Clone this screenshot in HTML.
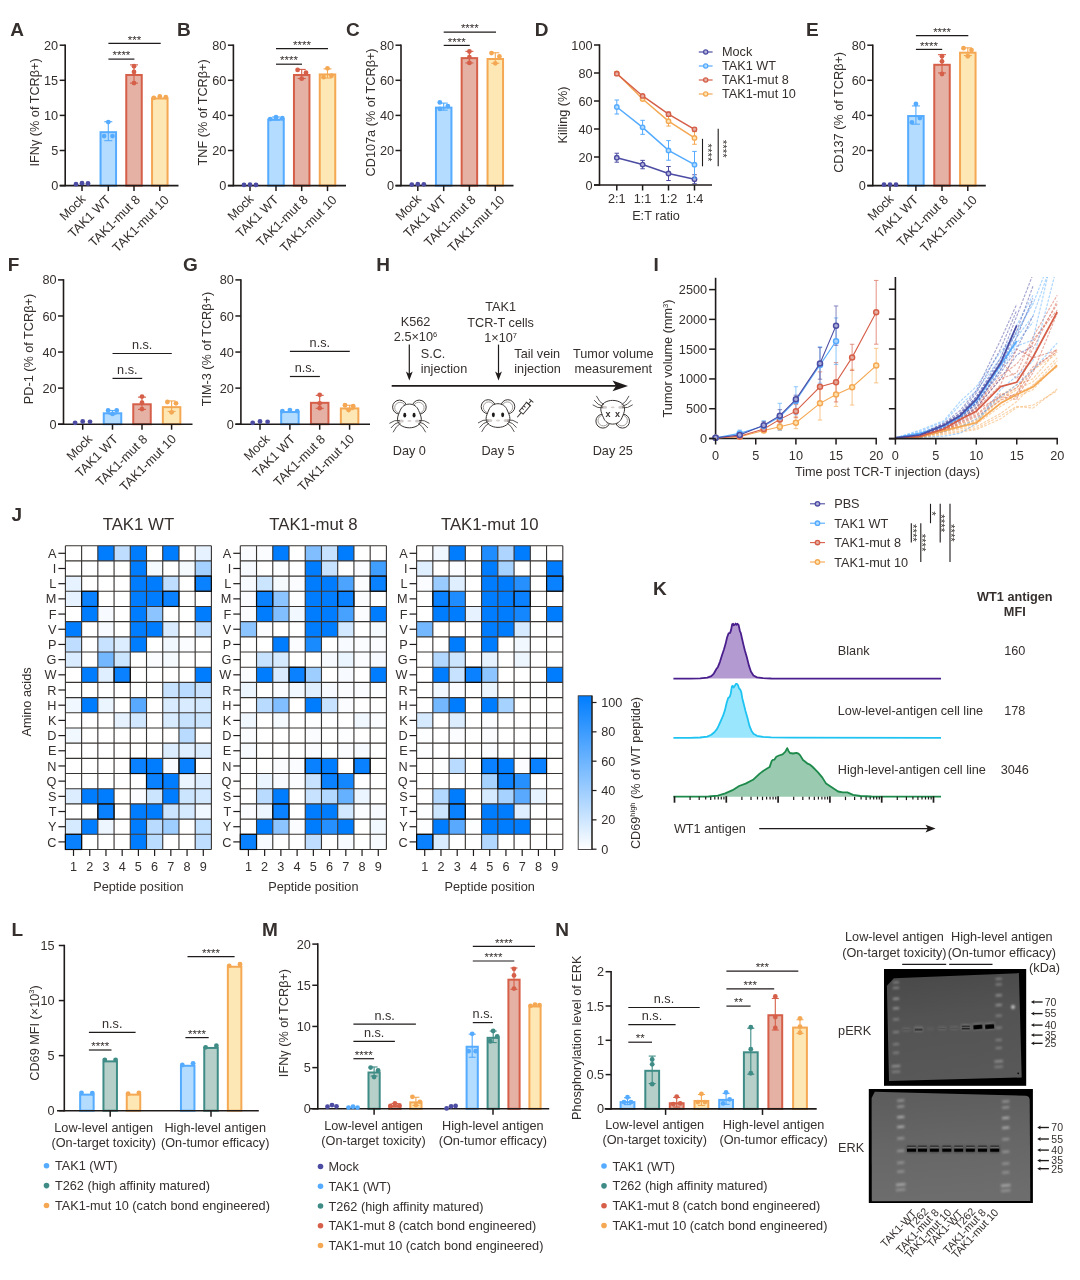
<!DOCTYPE html>
<html lang="en"><head><meta charset="utf-8"><title>Figure</title>
<style>
html,body{margin:0;padding:0;background:#fff;}
body{width:1080px;height:1280px;overflow:hidden;}
svg{display:block;font-family:"Liberation Sans",sans-serif;will-change:transform;}
text{fill:#352f2d;}
</style></head><body>
<svg width="1080" height="1280" viewBox="0 0 1080 1280">
<rect width="1080" height="1280" fill="#ffffff"/>
<g>
<text x="10.2" y="35.7" font-size="19" font-weight="bold" fill="#1a1413">A</text>
<rect x="100.55" y="132.19" width="15.5" height="53.41" fill="#b4dcff" stroke="#55abff" stroke-width="2"/>
<rect x="126.25" y="74.98" width="15.5" height="110.62" fill="#e4b1a4" stroke="#d65f49" stroke-width="2"/>
<rect x="152.05" y="98.5" width="15.5" height="87.1" fill="#fde8b5" stroke="#f5a853" stroke-width="2"/>
<line x1="59.7" y1="185.6" x2="178.5" y2="185.6" stroke="#1f1b1a" stroke-width="1.6"/>
<line x1="65.2" y1="44.45" x2="65.2" y2="186.35" stroke="#1f1b1a" stroke-width="1.6"/>
<line x1="59.7" y1="185.6" x2="65.2" y2="185.6" stroke="#1f1b1a" stroke-width="1.5"/>
<text x="58.2" y="190.17" font-size="12.7" text-anchor="end">0</text>
<line x1="59.7" y1="150.5" x2="65.2" y2="150.5" stroke="#1f1b1a" stroke-width="1.5"/>
<text x="58.2" y="155.07" font-size="12.7" text-anchor="end">5</text>
<line x1="59.7" y1="115.4" x2="65.2" y2="115.4" stroke="#1f1b1a" stroke-width="1.5"/>
<text x="58.2" y="119.97" font-size="12.7" text-anchor="end">10</text>
<line x1="59.7" y1="80.3" x2="65.2" y2="80.3" stroke="#1f1b1a" stroke-width="1.5"/>
<text x="58.2" y="84.87" font-size="12.7" text-anchor="end">15</text>
<line x1="59.7" y1="45.2" x2="65.2" y2="45.2" stroke="#1f1b1a" stroke-width="1.5"/>
<text x="58.2" y="49.77" font-size="12.7" text-anchor="end">20</text>
<line x1="82" y1="185.6" x2="82" y2="191.1" stroke="#1f1b1a" stroke-width="1.5"/>
<line x1="108.3" y1="185.6" x2="108.3" y2="191.1" stroke="#1f1b1a" stroke-width="1.5"/>
<line x1="134" y1="185.6" x2="134" y2="191.1" stroke="#1f1b1a" stroke-width="1.5"/>
<line x1="159.8" y1="185.6" x2="159.8" y2="191.1" stroke="#1f1b1a" stroke-width="1.5"/>
<circle cx="76" cy="184.2" r="2.4" fill="#4c4ca3" stroke="none" stroke-width="1"/>
<circle cx="82" cy="183.14" r="2.4" fill="#4c4ca3" stroke="none" stroke-width="1"/>
<circle cx="88" cy="183.49" r="2.4" fill="#4c4ca3" stroke="none" stroke-width="1"/>
<line x1="108.3" y1="140.67" x2="108.3" y2="121.72" stroke="#55abff" stroke-width="1.1"/>
<line x1="104.3" y1="121.72" x2="112.3" y2="121.72" stroke="#55abff" stroke-width="1.1"/>
<line x1="104.3" y1="140.67" x2="112.3" y2="140.67" stroke="#55abff" stroke-width="1.1"/>
<circle cx="108.3" cy="122.07" r="2.4" fill="#55abff" stroke="none" stroke-width="1"/>
<circle cx="104.1" cy="136.11" r="2.4" fill="#55abff" stroke="none" stroke-width="1"/>
<circle cx="112.5" cy="136.11" r="2.4" fill="#55abff" stroke="none" stroke-width="1"/>
<line x1="134" y1="83.11" x2="134" y2="64.86" stroke="#d65f49" stroke-width="1.1"/>
<line x1="130" y1="64.86" x2="138" y2="64.86" stroke="#d65f49" stroke-width="1.1"/>
<line x1="130" y1="83.11" x2="138" y2="83.11" stroke="#d65f49" stroke-width="1.1"/>
<circle cx="134" cy="66.26" r="2.4" fill="#d65f49" stroke="none" stroke-width="1"/>
<circle cx="134" cy="71.88" r="2.4" fill="#d65f49" stroke="none" stroke-width="1"/>
<circle cx="134" cy="83.11" r="2.4" fill="#d65f49" stroke="none" stroke-width="1"/>
<circle cx="153.8" cy="97.85" r="2.4" fill="#f5a853" stroke="none" stroke-width="1"/>
<circle cx="159.8" cy="96.45" r="2.4" fill="#f5a853" stroke="none" stroke-width="1"/>
<circle cx="165.8" cy="97.15" r="2.4" fill="#f5a853" stroke="none" stroke-width="1"/>
<text x="86.3" y="199.75" font-size="12.7" text-anchor="end" transform="rotate(-45 86.3 199.75)">Mock</text>
<text x="111.5" y="200.4" font-size="12.7" text-anchor="end" transform="rotate(-45 111.5 200.4)">TAK1 WT</text>
<text x="141.1" y="200.4" font-size="12.7" text-anchor="end" transform="rotate(-45 141.1 200.4)">TAK1-mut 8</text>
<text x="169.8" y="200.7" font-size="12.7" text-anchor="end" transform="rotate(-45 169.8 200.7)">TAK1-mut 10</text>
<text x="39" y="112.4" font-size="12.7" text-anchor="middle" transform="rotate(-90 39 112.4)">IFNγ (% of TCRβ+)</text>
<line x1="108.4" y1="43.4" x2="160.7" y2="43.4" stroke="#1f1b1a" stroke-width="1.2"/>
<text x="134.55" y="43.6" font-size="11.5" text-anchor="middle">***</text>
<line x1="108.4" y1="59.1" x2="134.4" y2="59.1" stroke="#1f1b1a" stroke-width="1.2"/>
<text x="121.4" y="59.3" font-size="11.5" text-anchor="middle">****</text>
<text x="177" y="35.7" font-size="19" font-weight="bold" fill="#1a1413">B</text>
<rect x="268.25" y="119.56" width="15.5" height="66.04" fill="#b4dcff" stroke="#55abff" stroke-width="2"/>
<rect x="293.95" y="74.98" width="15.5" height="110.62" fill="#e4b1a4" stroke="#d65f49" stroke-width="2"/>
<rect x="319.75" y="74.46" width="15.5" height="111.14" fill="#fde8b5" stroke="#f5a853" stroke-width="2"/>
<line x1="227.9" y1="185.6" x2="346" y2="185.6" stroke="#1f1b1a" stroke-width="1.6"/>
<line x1="233.4" y1="44.45" x2="233.4" y2="186.35" stroke="#1f1b1a" stroke-width="1.6"/>
<line x1="227.9" y1="185.6" x2="233.4" y2="185.6" stroke="#1f1b1a" stroke-width="1.5"/>
<text x="226.4" y="190.17" font-size="12.7" text-anchor="end">0</text>
<line x1="227.9" y1="150.5" x2="233.4" y2="150.5" stroke="#1f1b1a" stroke-width="1.5"/>
<text x="226.4" y="155.07" font-size="12.7" text-anchor="end">20</text>
<line x1="227.9" y1="115.4" x2="233.4" y2="115.4" stroke="#1f1b1a" stroke-width="1.5"/>
<text x="226.4" y="119.97" font-size="12.7" text-anchor="end">40</text>
<line x1="227.9" y1="80.3" x2="233.4" y2="80.3" stroke="#1f1b1a" stroke-width="1.5"/>
<text x="226.4" y="84.87" font-size="12.7" text-anchor="end">60</text>
<line x1="227.9" y1="45.2" x2="233.4" y2="45.2" stroke="#1f1b1a" stroke-width="1.5"/>
<text x="226.4" y="49.77" font-size="12.7" text-anchor="end">80</text>
<line x1="250" y1="185.6" x2="250" y2="191.1" stroke="#1f1b1a" stroke-width="1.5"/>
<line x1="276" y1="185.6" x2="276" y2="191.1" stroke="#1f1b1a" stroke-width="1.5"/>
<line x1="301.7" y1="185.6" x2="301.7" y2="191.1" stroke="#1f1b1a" stroke-width="1.5"/>
<line x1="327.5" y1="185.6" x2="327.5" y2="191.1" stroke="#1f1b1a" stroke-width="1.5"/>
<circle cx="244" cy="184.9" r="2.4" fill="#4c4ca3" stroke="none" stroke-width="1"/>
<circle cx="250" cy="184.72" r="2.4" fill="#4c4ca3" stroke="none" stroke-width="1"/>
<circle cx="256" cy="184.9" r="2.4" fill="#4c4ca3" stroke="none" stroke-width="1"/>
<line x1="276" y1="120.14" x2="276" y2="116.98" stroke="#55abff" stroke-width="1.1"/>
<line x1="272" y1="116.98" x2="280" y2="116.98" stroke="#55abff" stroke-width="1.1"/>
<line x1="272" y1="120.14" x2="280" y2="120.14" stroke="#55abff" stroke-width="1.1"/>
<circle cx="270.2" cy="119.09" r="2.4" fill="#55abff" stroke="none" stroke-width="1"/>
<circle cx="276" cy="117.16" r="2.4" fill="#55abff" stroke="none" stroke-width="1"/>
<circle cx="282.3" cy="118.21" r="2.4" fill="#55abff" stroke="none" stroke-width="1"/>
<line x1="301.7" y1="78.55" x2="301.7" y2="69.42" stroke="#d65f49" stroke-width="1.1"/>
<line x1="297.7" y1="69.42" x2="305.7" y2="69.42" stroke="#d65f49" stroke-width="1.1"/>
<line x1="297.7" y1="78.55" x2="305.7" y2="78.55" stroke="#d65f49" stroke-width="1.1"/>
<circle cx="297.6" cy="69.95" r="2.4" fill="#d65f49" stroke="none" stroke-width="1"/>
<circle cx="306" cy="72.75" r="2.4" fill="#d65f49" stroke="none" stroke-width="1"/>
<circle cx="301.7" cy="78.72" r="2.4" fill="#d65f49" stroke="none" stroke-width="1"/>
<line x1="327.5" y1="78.02" x2="327.5" y2="68.89" stroke="#f5a853" stroke-width="1.1"/>
<line x1="323.5" y1="68.89" x2="331.5" y2="68.89" stroke="#f5a853" stroke-width="1.1"/>
<line x1="323.5" y1="78.02" x2="331.5" y2="78.02" stroke="#f5a853" stroke-width="1.1"/>
<circle cx="327.5" cy="68.37" r="2.4" fill="#f5a853" stroke="none" stroke-width="1"/>
<circle cx="323.5" cy="77.14" r="2.4" fill="#f5a853" stroke="none" stroke-width="1"/>
<circle cx="331.5" cy="75.74" r="2.4" fill="#f5a853" stroke="none" stroke-width="1"/>
<text x="254.3" y="199.75" font-size="12.7" text-anchor="end" transform="rotate(-45 254.3 199.75)">Mock</text>
<text x="279.2" y="200.4" font-size="12.7" text-anchor="end" transform="rotate(-45 279.2 200.4)">TAK1 WT</text>
<text x="308.8" y="200.4" font-size="12.7" text-anchor="end" transform="rotate(-45 308.8 200.4)">TAK1-mut 8</text>
<text x="337.5" y="200.7" font-size="12.7" text-anchor="end" transform="rotate(-45 337.5 200.7)">TAK1-mut 10</text>
<text x="207" y="112.4" font-size="12.7" text-anchor="middle" transform="rotate(-90 207 112.4)">TNF (% of TCRβ+)</text>
<line x1="276" y1="48.6" x2="328" y2="48.6" stroke="#1f1b1a" stroke-width="1.2"/>
<text x="302" y="48.8" font-size="11.5" text-anchor="middle">****</text>
<line x1="276" y1="64.2" x2="302" y2="64.2" stroke="#1f1b1a" stroke-width="1.2"/>
<text x="289" y="64.4" font-size="11.5" text-anchor="middle">****</text>
<text x="346.1" y="35.7" font-size="19" font-weight="bold" fill="#1a1413">C</text>
<rect x="435.95" y="107.63" width="15.5" height="77.97" fill="#b4dcff" stroke="#55abff" stroke-width="2"/>
<rect x="461.65" y="58.13" width="15.5" height="127.47" fill="#e4b1a4" stroke="#d65f49" stroke-width="2"/>
<rect x="487.55" y="59.01" width="15.5" height="126.59" fill="#fde8b5" stroke="#f5a853" stroke-width="2"/>
<line x1="395.5" y1="185.6" x2="513.5" y2="185.6" stroke="#1f1b1a" stroke-width="1.6"/>
<line x1="401" y1="44.45" x2="401" y2="186.35" stroke="#1f1b1a" stroke-width="1.6"/>
<line x1="395.5" y1="185.6" x2="401" y2="185.6" stroke="#1f1b1a" stroke-width="1.5"/>
<text x="394" y="190.17" font-size="12.7" text-anchor="end">0</text>
<line x1="395.5" y1="150.5" x2="401" y2="150.5" stroke="#1f1b1a" stroke-width="1.5"/>
<text x="394" y="155.07" font-size="12.7" text-anchor="end">20</text>
<line x1="395.5" y1="115.4" x2="401" y2="115.4" stroke="#1f1b1a" stroke-width="1.5"/>
<text x="394" y="119.97" font-size="12.7" text-anchor="end">40</text>
<line x1="395.5" y1="80.3" x2="401" y2="80.3" stroke="#1f1b1a" stroke-width="1.5"/>
<text x="394" y="84.87" font-size="12.7" text-anchor="end">60</text>
<line x1="395.5" y1="45.2" x2="401" y2="45.2" stroke="#1f1b1a" stroke-width="1.5"/>
<text x="394" y="49.77" font-size="12.7" text-anchor="end">80</text>
<line x1="417.8" y1="185.6" x2="417.8" y2="191.1" stroke="#1f1b1a" stroke-width="1.5"/>
<line x1="443.7" y1="185.6" x2="443.7" y2="191.1" stroke="#1f1b1a" stroke-width="1.5"/>
<line x1="469.4" y1="185.6" x2="469.4" y2="191.1" stroke="#1f1b1a" stroke-width="1.5"/>
<line x1="495.3" y1="185.6" x2="495.3" y2="191.1" stroke="#1f1b1a" stroke-width="1.5"/>
<circle cx="411.8" cy="184.55" r="2.4" fill="#4c4ca3" stroke="none" stroke-width="1"/>
<circle cx="417.8" cy="184.2" r="2.4" fill="#4c4ca3" stroke="none" stroke-width="1"/>
<circle cx="423.8" cy="184.37" r="2.4" fill="#4c4ca3" stroke="none" stroke-width="1"/>
<line x1="443.7" y1="110.14" x2="443.7" y2="103.12" stroke="#55abff" stroke-width="1.1"/>
<line x1="439.7" y1="103.12" x2="447.7" y2="103.12" stroke="#55abff" stroke-width="1.1"/>
<line x1="439.7" y1="110.14" x2="447.7" y2="110.14" stroke="#55abff" stroke-width="1.1"/>
<circle cx="439.8" cy="102.41" r="2.4" fill="#55abff" stroke="none" stroke-width="1"/>
<circle cx="447.8" cy="106.1" r="2.4" fill="#55abff" stroke="none" stroke-width="1"/>
<circle cx="439.9" cy="108.91" r="2.4" fill="#55abff" stroke="none" stroke-width="1"/>
<line x1="469.4" y1="62.93" x2="469.4" y2="51.34" stroke="#d65f49" stroke-width="1.1"/>
<line x1="465.4" y1="51.34" x2="473.4" y2="51.34" stroke="#d65f49" stroke-width="1.1"/>
<line x1="465.4" y1="62.93" x2="473.4" y2="62.93" stroke="#d65f49" stroke-width="1.1"/>
<circle cx="469.4" cy="51.52" r="2.4" fill="#d65f49" stroke="none" stroke-width="1"/>
<circle cx="469.4" cy="57.13" r="2.4" fill="#d65f49" stroke="none" stroke-width="1"/>
<circle cx="469.4" cy="62.93" r="2.4" fill="#d65f49" stroke="none" stroke-width="1"/>
<line x1="495.3" y1="63.28" x2="495.3" y2="52.75" stroke="#f5a853" stroke-width="1.1"/>
<line x1="491.3" y1="52.75" x2="499.3" y2="52.75" stroke="#f5a853" stroke-width="1.1"/>
<line x1="491.3" y1="63.28" x2="499.3" y2="63.28" stroke="#f5a853" stroke-width="1.1"/>
<circle cx="491.5" cy="53.1" r="2.4" fill="#f5a853" stroke="none" stroke-width="1"/>
<circle cx="499.4" cy="56.43" r="2.4" fill="#f5a853" stroke="none" stroke-width="1"/>
<circle cx="495.3" cy="63.28" r="2.4" fill="#f5a853" stroke="none" stroke-width="1"/>
<text x="422.1" y="199.75" font-size="12.7" text-anchor="end" transform="rotate(-45 422.1 199.75)">Mock</text>
<text x="446.9" y="200.4" font-size="12.7" text-anchor="end" transform="rotate(-45 446.9 200.4)">TAK1 WT</text>
<text x="476.5" y="200.4" font-size="12.7" text-anchor="end" transform="rotate(-45 476.5 200.4)">TAK1-mut 8</text>
<text x="505.3" y="200.7" font-size="12.7" text-anchor="end" transform="rotate(-45 505.3 200.7)">TAK1-mut 10</text>
<text x="375" y="112.4" font-size="12.7" text-anchor="middle" transform="rotate(-90 375 112.4)">CD107a (% of TCRβ+)</text>
<line x1="443.7" y1="32.2" x2="496" y2="32.2" stroke="#1f1b1a" stroke-width="1.2"/>
<text x="469.85" y="32.4" font-size="11.5" text-anchor="middle">****</text>
<line x1="443.7" y1="45.4" x2="469.8" y2="45.4" stroke="#1f1b1a" stroke-width="1.2"/>
<text x="456.75" y="45.6" font-size="11.5" text-anchor="middle">****</text>
<text x="806.1" y="35.7" font-size="19" font-weight="bold" fill="#1a1413">E</text>
<rect x="908.15" y="116.05" width="15.5" height="69.55" fill="#b4dcff" stroke="#55abff" stroke-width="2"/>
<rect x="934.25" y="64.8" width="15.5" height="120.8" fill="#e4b1a4" stroke="#d65f49" stroke-width="2"/>
<rect x="960.05" y="52.69" width="15.5" height="132.91" fill="#fde8b5" stroke="#f5a853" stroke-width="2"/>
<line x1="867.3" y1="185.6" x2="985.8" y2="185.6" stroke="#1f1b1a" stroke-width="1.6"/>
<line x1="872.8" y1="44.45" x2="872.8" y2="186.35" stroke="#1f1b1a" stroke-width="1.6"/>
<line x1="867.3" y1="185.6" x2="872.8" y2="185.6" stroke="#1f1b1a" stroke-width="1.5"/>
<text x="865.8" y="190.17" font-size="12.7" text-anchor="end">0</text>
<line x1="867.3" y1="150.5" x2="872.8" y2="150.5" stroke="#1f1b1a" stroke-width="1.5"/>
<text x="865.8" y="155.07" font-size="12.7" text-anchor="end">20</text>
<line x1="867.3" y1="115.4" x2="872.8" y2="115.4" stroke="#1f1b1a" stroke-width="1.5"/>
<text x="865.8" y="119.97" font-size="12.7" text-anchor="end">40</text>
<line x1="867.3" y1="80.3" x2="872.8" y2="80.3" stroke="#1f1b1a" stroke-width="1.5"/>
<text x="865.8" y="84.87" font-size="12.7" text-anchor="end">60</text>
<line x1="867.3" y1="45.2" x2="872.8" y2="45.2" stroke="#1f1b1a" stroke-width="1.5"/>
<text x="865.8" y="49.77" font-size="12.7" text-anchor="end">80</text>
<line x1="890" y1="185.6" x2="890" y2="191.1" stroke="#1f1b1a" stroke-width="1.5"/>
<line x1="915.9" y1="185.6" x2="915.9" y2="191.1" stroke="#1f1b1a" stroke-width="1.5"/>
<line x1="942" y1="185.6" x2="942" y2="191.1" stroke="#1f1b1a" stroke-width="1.5"/>
<line x1="967.8" y1="185.6" x2="967.8" y2="191.1" stroke="#1f1b1a" stroke-width="1.5"/>
<circle cx="884" cy="184.72" r="2.4" fill="#4c4ca3" stroke="none" stroke-width="1"/>
<circle cx="890" cy="184.55" r="2.4" fill="#4c4ca3" stroke="none" stroke-width="1"/>
<circle cx="896" cy="184.72" r="2.4" fill="#4c4ca3" stroke="none" stroke-width="1"/>
<line x1="915.9" y1="124.18" x2="915.9" y2="105.92" stroke="#55abff" stroke-width="1.1"/>
<line x1="911.9" y1="105.92" x2="919.9" y2="105.92" stroke="#55abff" stroke-width="1.1"/>
<line x1="911.9" y1="124.18" x2="919.9" y2="124.18" stroke="#55abff" stroke-width="1.1"/>
<circle cx="915.9" cy="103.99" r="2.4" fill="#55abff" stroke="none" stroke-width="1"/>
<circle cx="911.9" cy="122.42" r="2.4" fill="#55abff" stroke="none" stroke-width="1"/>
<circle cx="919.9" cy="118.03" r="2.4" fill="#55abff" stroke="none" stroke-width="1"/>
<line x1="942" y1="72.93" x2="942" y2="54.68" stroke="#d65f49" stroke-width="1.1"/>
<line x1="938" y1="54.68" x2="946" y2="54.68" stroke="#d65f49" stroke-width="1.1"/>
<line x1="938" y1="72.93" x2="946" y2="72.93" stroke="#d65f49" stroke-width="1.1"/>
<circle cx="942" cy="56.26" r="2.4" fill="#d65f49" stroke="none" stroke-width="1"/>
<circle cx="942" cy="61.35" r="2.4" fill="#d65f49" stroke="none" stroke-width="1"/>
<circle cx="942" cy="73.98" r="2.4" fill="#d65f49" stroke="none" stroke-width="1"/>
<line x1="967.8" y1="55.55" x2="967.8" y2="47.83" stroke="#f5a853" stroke-width="1.1"/>
<line x1="963.8" y1="47.83" x2="971.8" y2="47.83" stroke="#f5a853" stroke-width="1.1"/>
<line x1="963.8" y1="55.55" x2="971.8" y2="55.55" stroke="#f5a853" stroke-width="1.1"/>
<circle cx="963.5" cy="48.18" r="2.4" fill="#f5a853" stroke="none" stroke-width="1"/>
<circle cx="971.5" cy="50.11" r="2.4" fill="#f5a853" stroke="none" stroke-width="1"/>
<circle cx="967.8" cy="56.26" r="2.4" fill="#f5a853" stroke="none" stroke-width="1"/>
<text x="894.3" y="199.75" font-size="12.7" text-anchor="end" transform="rotate(-45 894.3 199.75)">Mock</text>
<text x="919.1" y="200.4" font-size="12.7" text-anchor="end" transform="rotate(-45 919.1 200.4)">TAK1 WT</text>
<text x="949.1" y="200.4" font-size="12.7" text-anchor="end" transform="rotate(-45 949.1 200.4)">TAK1-mut 8</text>
<text x="977.8" y="200.7" font-size="12.7" text-anchor="end" transform="rotate(-45 977.8 200.7)">TAK1-mut 10</text>
<text x="843" y="112.4" font-size="12.7" text-anchor="middle" transform="rotate(-90 843 112.4)">CD137 (% of TCRβ+)</text>
<line x1="915.9" y1="35.6" x2="968.3" y2="35.6" stroke="#1f1b1a" stroke-width="1.2"/>
<text x="942.1" y="35.8" font-size="11.5" text-anchor="middle">****</text>
<line x1="915.9" y1="49.4" x2="942.2" y2="49.4" stroke="#1f1b1a" stroke-width="1.2"/>
<text x="929.05" y="49.6" font-size="11.5" text-anchor="middle">****</text>
<text x="534.7" y="35.7" font-size="19" font-weight="bold" fill="#1a1413">D</text>
<line x1="616.8" y1="162.18" x2="616.8" y2="153.22" stroke="#4c4ca3" stroke-width="1"/>
<line x1="614.55" y1="153.22" x2="619.05" y2="153.22" stroke="#4c4ca3" stroke-width="1"/>
<line x1="614.55" y1="162.18" x2="619.05" y2="162.18" stroke="#4c4ca3" stroke-width="1"/>
<line x1="642.6" y1="168.76" x2="642.6" y2="160.36" stroke="#4c4ca3" stroke-width="1"/>
<line x1="640.35" y1="160.36" x2="644.85" y2="160.36" stroke="#4c4ca3" stroke-width="1"/>
<line x1="640.35" y1="168.76" x2="644.85" y2="168.76" stroke="#4c4ca3" stroke-width="1"/>
<line x1="668.5" y1="180.52" x2="668.5" y2="166.52" stroke="#4c4ca3" stroke-width="1"/>
<line x1="666.25" y1="166.52" x2="670.75" y2="166.52" stroke="#4c4ca3" stroke-width="1"/>
<line x1="666.25" y1="180.52" x2="670.75" y2="180.52" stroke="#4c4ca3" stroke-width="1"/>
<line x1="694.5" y1="183.74" x2="694.5" y2="174.78" stroke="#4c4ca3" stroke-width="1"/>
<line x1="692.25" y1="174.78" x2="696.75" y2="174.78" stroke="#4c4ca3" stroke-width="1"/>
<line x1="692.25" y1="183.74" x2="696.75" y2="183.74" stroke="#4c4ca3" stroke-width="1"/>
<polyline points="616.8,157.7 642.6,164.56 668.5,173.52 694.5,179.26" fill="none" stroke="#4c4ca3" stroke-width="1.5"/>
<circle cx="616.8" cy="157.7" r="2.2" fill="#b4b4dc" stroke="#4c4ca3" stroke-width="1.4"/>
<circle cx="642.6" cy="164.56" r="2.2" fill="#b4b4dc" stroke="#4c4ca3" stroke-width="1.4"/>
<circle cx="668.5" cy="173.52" r="2.2" fill="#b4b4dc" stroke="#4c4ca3" stroke-width="1.4"/>
<circle cx="694.5" cy="179.26" r="2.2" fill="#b4b4dc" stroke="#4c4ca3" stroke-width="1.4"/>
<line x1="616.8" y1="114.02" x2="616.8" y2="100.02" stroke="#55abff" stroke-width="1"/>
<line x1="614.55" y1="100.02" x2="619.05" y2="100.02" stroke="#55abff" stroke-width="1"/>
<line x1="614.55" y1="114.02" x2="619.05" y2="114.02" stroke="#55abff" stroke-width="1"/>
<line x1="642.6" y1="134.32" x2="642.6" y2="120.32" stroke="#55abff" stroke-width="1"/>
<line x1="640.35" y1="120.32" x2="644.85" y2="120.32" stroke="#55abff" stroke-width="1"/>
<line x1="640.35" y1="134.32" x2="644.85" y2="134.32" stroke="#55abff" stroke-width="1"/>
<line x1="668.5" y1="160.22" x2="668.5" y2="140.62" stroke="#55abff" stroke-width="1"/>
<line x1="666.25" y1="140.62" x2="670.75" y2="140.62" stroke="#55abff" stroke-width="1"/>
<line x1="666.25" y1="160.22" x2="670.75" y2="160.22" stroke="#55abff" stroke-width="1"/>
<line x1="694.5" y1="178" x2="694.5" y2="151.4" stroke="#55abff" stroke-width="1"/>
<line x1="692.25" y1="151.4" x2="696.75" y2="151.4" stroke="#55abff" stroke-width="1"/>
<line x1="692.25" y1="178" x2="696.75" y2="178" stroke="#55abff" stroke-width="1"/>
<polyline points="616.8,107.02 642.6,127.32 668.5,150.42 694.5,164.7" fill="none" stroke="#55abff" stroke-width="1.5"/>
<circle cx="616.8" cy="107.02" r="2.2" fill="#b4dcff" stroke="#55abff" stroke-width="1.4"/>
<circle cx="642.6" cy="127.32" r="2.2" fill="#b4dcff" stroke="#55abff" stroke-width="1.4"/>
<circle cx="668.5" cy="150.42" r="2.2" fill="#b4dcff" stroke="#55abff" stroke-width="1.4"/>
<circle cx="694.5" cy="164.7" r="2.2" fill="#b4dcff" stroke="#55abff" stroke-width="1.4"/>
<line x1="616.8" y1="74.96" x2="616.8" y2="71.6" stroke="#f5a853" stroke-width="1"/>
<line x1="614.55" y1="71.6" x2="619.05" y2="71.6" stroke="#f5a853" stroke-width="1"/>
<line x1="614.55" y1="74.96" x2="619.05" y2="74.96" stroke="#f5a853" stroke-width="1"/>
<line x1="668.5" y1="126.06" x2="668.5" y2="116.26" stroke="#f5a853" stroke-width="1"/>
<line x1="666.25" y1="116.26" x2="670.75" y2="116.26" stroke="#f5a853" stroke-width="1"/>
<line x1="666.25" y1="126.06" x2="670.75" y2="126.06" stroke="#f5a853" stroke-width="1"/>
<line x1="694.5" y1="144.26" x2="694.5" y2="131.66" stroke="#f5a853" stroke-width="1"/>
<line x1="692.25" y1="131.66" x2="696.75" y2="131.66" stroke="#f5a853" stroke-width="1"/>
<line x1="692.25" y1="144.26" x2="696.75" y2="144.26" stroke="#f5a853" stroke-width="1"/>
<polyline points="616.8,73.28 642.6,99.04 668.5,121.16 694.5,137.96" fill="none" stroke="#f5a853" stroke-width="1.5"/>
<circle cx="616.8" cy="73.28" r="2.2" fill="#fde8b5" stroke="#f5a853" stroke-width="1.4"/>
<circle cx="642.6" cy="99.04" r="2.2" fill="#fde8b5" stroke="#f5a853" stroke-width="1.4"/>
<circle cx="668.5" cy="121.16" r="2.2" fill="#fde8b5" stroke="#f5a853" stroke-width="1.4"/>
<circle cx="694.5" cy="137.96" r="2.2" fill="#fde8b5" stroke="#f5a853" stroke-width="1.4"/>
<line x1="616.8" y1="75.38" x2="616.8" y2="72.02" stroke="#d65f49" stroke-width="1"/>
<line x1="614.55" y1="72.02" x2="619.05" y2="72.02" stroke="#d65f49" stroke-width="1"/>
<line x1="614.55" y1="75.38" x2="619.05" y2="75.38" stroke="#d65f49" stroke-width="1"/>
<line x1="668.5" y1="116.26" x2="668.5" y2="112.06" stroke="#d65f49" stroke-width="1"/>
<line x1="666.25" y1="112.06" x2="670.75" y2="112.06" stroke="#d65f49" stroke-width="1"/>
<line x1="666.25" y1="116.26" x2="670.75" y2="116.26" stroke="#d65f49" stroke-width="1"/>
<line x1="694.5" y1="130.96" x2="694.5" y2="127.6" stroke="#d65f49" stroke-width="1"/>
<line x1="692.25" y1="127.6" x2="696.75" y2="127.6" stroke="#d65f49" stroke-width="1"/>
<line x1="692.25" y1="130.96" x2="696.75" y2="130.96" stroke="#d65f49" stroke-width="1"/>
<polyline points="616.8,73.7 642.6,95.96 668.5,114.16 694.5,129.28" fill="none" stroke="#d65f49" stroke-width="1.5"/>
<circle cx="616.8" cy="73.7" r="2.2" fill="#e4b1a4" stroke="#d65f49" stroke-width="1.4"/>
<circle cx="642.6" cy="95.96" r="2.2" fill="#e4b1a4" stroke="#d65f49" stroke-width="1.4"/>
<circle cx="668.5" cy="114.16" r="2.2" fill="#e4b1a4" stroke="#d65f49" stroke-width="1.4"/>
<circle cx="694.5" cy="129.28" r="2.2" fill="#e4b1a4" stroke="#d65f49" stroke-width="1.4"/>
<line x1="594" y1="185" x2="712" y2="185" stroke="#1f1b1a" stroke-width="1.6"/>
<line x1="599.5" y1="44.25" x2="599.5" y2="185.75" stroke="#1f1b1a" stroke-width="1.6"/>
<line x1="594" y1="185" x2="599.5" y2="185" stroke="#1f1b1a" stroke-width="1.5"/>
<text x="592.5" y="189.57" font-size="12.7" text-anchor="end">0</text>
<line x1="594" y1="157" x2="599.5" y2="157" stroke="#1f1b1a" stroke-width="1.5"/>
<text x="592.5" y="161.57" font-size="12.7" text-anchor="end">20</text>
<line x1="594" y1="129" x2="599.5" y2="129" stroke="#1f1b1a" stroke-width="1.5"/>
<text x="592.5" y="133.57" font-size="12.7" text-anchor="end">40</text>
<line x1="594" y1="101" x2="599.5" y2="101" stroke="#1f1b1a" stroke-width="1.5"/>
<text x="592.5" y="105.57" font-size="12.7" text-anchor="end">60</text>
<line x1="594" y1="73" x2="599.5" y2="73" stroke="#1f1b1a" stroke-width="1.5"/>
<text x="592.5" y="77.57" font-size="12.7" text-anchor="end">80</text>
<line x1="594" y1="45" x2="599.5" y2="45" stroke="#1f1b1a" stroke-width="1.5"/>
<text x="592.5" y="49.57" font-size="12.7" text-anchor="end">100</text>
<line x1="616.8" y1="185" x2="616.8" y2="190.5" stroke="#1f1b1a" stroke-width="1.5"/>
<text x="616.8" y="202.5" font-size="12.7" text-anchor="middle">2:1</text>
<line x1="642.6" y1="185" x2="642.6" y2="190.5" stroke="#1f1b1a" stroke-width="1.5"/>
<text x="642.6" y="202.5" font-size="12.7" text-anchor="middle">1:1</text>
<line x1="668.5" y1="185" x2="668.5" y2="190.5" stroke="#1f1b1a" stroke-width="1.5"/>
<text x="668.5" y="202.5" font-size="12.7" text-anchor="middle">1:2</text>
<line x1="694.5" y1="185" x2="694.5" y2="190.5" stroke="#1f1b1a" stroke-width="1.5"/>
<text x="694.5" y="202.5" font-size="12.7" text-anchor="middle">1:4</text>
<text x="656" y="219.5" font-size="12.7" text-anchor="middle">E:T ratio</text>
<text x="566.5" y="115" font-size="12.7" text-anchor="middle" transform="rotate(-90 566.5 115)">Killing (%)</text>
<line x1="698.8" y1="52" x2="712.6" y2="52" stroke="#4c4ca3" stroke-width="1.2"/>
<circle cx="705.7" cy="52" r="2.1" fill="#b4b4dc" stroke="#4c4ca3" stroke-width="1.3"/>
<text x="722" y="56.4" font-size="12.7">Mock</text>
<line x1="698.8" y1="66" x2="712.6" y2="66" stroke="#55abff" stroke-width="1.2"/>
<circle cx="705.7" cy="66" r="2.1" fill="#b4dcff" stroke="#55abff" stroke-width="1.3"/>
<text x="722" y="70.4" font-size="12.7">TAK1 WT</text>
<line x1="698.8" y1="80" x2="712.6" y2="80" stroke="#d65f49" stroke-width="1.2"/>
<circle cx="705.7" cy="80" r="2.1" fill="#e4b1a4" stroke="#d65f49" stroke-width="1.3"/>
<text x="722" y="84.4" font-size="12.7">TAK1-mut 8</text>
<line x1="698.8" y1="94" x2="712.6" y2="94" stroke="#f5a853" stroke-width="1.2"/>
<circle cx="705.7" cy="94" r="2.1" fill="#fde8b5" stroke="#f5a853" stroke-width="1.3"/>
<text x="722" y="98.4" font-size="12.7">TAK1-mut 10</text>
<line x1="702.5" y1="138.8" x2="702.5" y2="166.3" stroke="#1f1b1a" stroke-width="1.1"/>
<line x1="718.2" y1="128.8" x2="718.2" y2="166.3" stroke="#1f1b1a" stroke-width="1.1"/>
<text x="703.5" y="152.5" font-size="11.5" text-anchor="middle" transform="rotate(90 703.5 152.5)">****</text>
<text x="719.4" y="148.8" font-size="11.5" text-anchor="middle" transform="rotate(90 719.4 148.8)">****</text>
</g>
<g>
<text x="7.8" y="271.2" font-size="19" font-weight="bold" fill="#1a1413">F</text>
<rect x="103.75" y="413.3" width="17.5" height="10.9" fill="#b4dcff" stroke="#55abff" stroke-width="2"/>
<rect x="133.25" y="404.28" width="17.5" height="19.92" fill="#e4b1a4" stroke="#d65f49" stroke-width="2"/>
<rect x="162.85" y="407.16" width="17.5" height="17.04" fill="#fde8b5" stroke="#f5a853" stroke-width="2"/>
<line x1="58" y1="424.2" x2="192.5" y2="424.2" stroke="#1f1b1a" stroke-width="1.6"/>
<line x1="63.5" y1="279.15" x2="63.5" y2="424.95" stroke="#1f1b1a" stroke-width="1.6"/>
<line x1="58" y1="424.2" x2="63.5" y2="424.2" stroke="#1f1b1a" stroke-width="1.5"/>
<text x="56.5" y="428.77" font-size="12.7" text-anchor="end">0</text>
<line x1="58" y1="388.12" x2="63.5" y2="388.12" stroke="#1f1b1a" stroke-width="1.5"/>
<text x="56.5" y="392.7" font-size="12.7" text-anchor="end">20</text>
<line x1="58" y1="352.05" x2="63.5" y2="352.05" stroke="#1f1b1a" stroke-width="1.5"/>
<text x="56.5" y="356.62" font-size="12.7" text-anchor="end">40</text>
<line x1="58" y1="315.98" x2="63.5" y2="315.98" stroke="#1f1b1a" stroke-width="1.5"/>
<text x="56.5" y="320.55" font-size="12.7" text-anchor="end">60</text>
<line x1="58" y1="279.9" x2="63.5" y2="279.9" stroke="#1f1b1a" stroke-width="1.5"/>
<text x="56.5" y="284.47" font-size="12.7" text-anchor="end">80</text>
<line x1="82.7" y1="424.2" x2="82.7" y2="429.7" stroke="#1f1b1a" stroke-width="1.5"/>
<line x1="112.5" y1="424.2" x2="112.5" y2="429.7" stroke="#1f1b1a" stroke-width="1.5"/>
<line x1="142" y1="424.2" x2="142" y2="429.7" stroke="#1f1b1a" stroke-width="1.5"/>
<line x1="171.6" y1="424.2" x2="171.6" y2="429.7" stroke="#1f1b1a" stroke-width="1.5"/>
<circle cx="75.1" cy="422.85" r="2.4" fill="#4c4ca3" stroke="none" stroke-width="1"/>
<circle cx="82.7" cy="421.49" r="2.4" fill="#4c4ca3" stroke="none" stroke-width="1"/>
<circle cx="90" cy="421.86" r="2.4" fill="#4c4ca3" stroke="none" stroke-width="1"/>
<line x1="112.5" y1="414.1" x2="112.5" y2="410.49" stroke="#55abff" stroke-width="1.1"/>
<line x1="108.5" y1="410.49" x2="116.5" y2="410.49" stroke="#55abff" stroke-width="1.1"/>
<line x1="108.5" y1="414.1" x2="116.5" y2="414.1" stroke="#55abff" stroke-width="1.1"/>
<circle cx="108.1" cy="410.49" r="2.4" fill="#55abff" stroke="none" stroke-width="1"/>
<circle cx="112.5" cy="413.92" r="2.4" fill="#55abff" stroke="none" stroke-width="1"/>
<circle cx="116.7" cy="410.49" r="2.4" fill="#55abff" stroke="none" stroke-width="1"/>
<line x1="142" y1="409.41" x2="142" y2="397.14" stroke="#d65f49" stroke-width="1.1"/>
<line x1="138" y1="397.14" x2="146" y2="397.14" stroke="#d65f49" stroke-width="1.1"/>
<line x1="138" y1="409.41" x2="146" y2="409.41" stroke="#d65f49" stroke-width="1.1"/>
<circle cx="142" cy="396.6" r="2.4" fill="#d65f49" stroke="none" stroke-width="1"/>
<circle cx="142" cy="402.74" r="2.4" fill="#d65f49" stroke="none" stroke-width="1"/>
<circle cx="142" cy="409.05" r="2.4" fill="#d65f49" stroke="none" stroke-width="1"/>
<line x1="171.6" y1="411.39" x2="171.6" y2="400.93" stroke="#f5a853" stroke-width="1.1"/>
<line x1="167.6" y1="400.93" x2="175.6" y2="400.93" stroke="#f5a853" stroke-width="1.1"/>
<line x1="167.6" y1="411.39" x2="175.6" y2="411.39" stroke="#f5a853" stroke-width="1.1"/>
<circle cx="167.4" cy="402.01" r="2.4" fill="#f5a853" stroke="none" stroke-width="1"/>
<circle cx="176" cy="403.28" r="2.4" fill="#f5a853" stroke="none" stroke-width="1"/>
<circle cx="171.6" cy="412.3" r="2.4" fill="#f5a853" stroke="none" stroke-width="1"/>
<text x="93.1" y="439.7" font-size="12.7" text-anchor="end" transform="rotate(-45 93.1 439.7)">Mock</text>
<text x="118.7" y="440.1" font-size="12.7" text-anchor="end" transform="rotate(-45 118.7 440.1)">TAK1 WT</text>
<text x="148.2" y="440.1" font-size="12.7" text-anchor="end" transform="rotate(-45 148.2 440.1)">TAK1-mut 8</text>
<text x="177.1" y="439.7" font-size="12.7" text-anchor="end" transform="rotate(-45 177.1 439.7)">TAK1-mut 10</text>
<text x="33.5" y="349.05" font-size="12.7" text-anchor="middle" transform="rotate(-90 33.5 349.05)">PD-1 (% of TCRβ+)</text>
<line x1="112.5" y1="353.5" x2="171.8" y2="353.5" stroke="#1f1b1a" stroke-width="1.2"/>
<text x="142.15" y="349.2" font-size="12.7" text-anchor="middle">n.s.</text>
<line x1="112.5" y1="378.4" x2="142.2" y2="378.4" stroke="#1f1b1a" stroke-width="1.2"/>
<text x="127.35" y="374.1" font-size="12.7" text-anchor="middle">n.s.</text>
<text x="183.1" y="271.2" font-size="19" font-weight="bold" fill="#1a1413">G</text>
<rect x="281.15" y="412.03" width="17.5" height="12.17" fill="#b4dcff" stroke="#55abff" stroke-width="2"/>
<rect x="310.95" y="402.83" width="17.5" height="21.37" fill="#e4b1a4" stroke="#d65f49" stroke-width="2"/>
<rect x="340.85" y="408.43" width="17.5" height="15.77" fill="#fde8b5" stroke="#f5a853" stroke-width="2"/>
<line x1="235.4" y1="424.2" x2="370" y2="424.2" stroke="#1f1b1a" stroke-width="1.6"/>
<line x1="240.9" y1="279.15" x2="240.9" y2="424.95" stroke="#1f1b1a" stroke-width="1.6"/>
<line x1="235.4" y1="424.2" x2="240.9" y2="424.2" stroke="#1f1b1a" stroke-width="1.5"/>
<text x="233.9" y="428.77" font-size="12.7" text-anchor="end">0</text>
<line x1="235.4" y1="388.12" x2="240.9" y2="388.12" stroke="#1f1b1a" stroke-width="1.5"/>
<text x="233.9" y="392.7" font-size="12.7" text-anchor="end">20</text>
<line x1="235.4" y1="352.05" x2="240.9" y2="352.05" stroke="#1f1b1a" stroke-width="1.5"/>
<text x="233.9" y="356.62" font-size="12.7" text-anchor="end">40</text>
<line x1="235.4" y1="315.98" x2="240.9" y2="315.98" stroke="#1f1b1a" stroke-width="1.5"/>
<text x="233.9" y="320.55" font-size="12.7" text-anchor="end">60</text>
<line x1="235.4" y1="279.9" x2="240.9" y2="279.9" stroke="#1f1b1a" stroke-width="1.5"/>
<text x="233.9" y="284.47" font-size="12.7" text-anchor="end">80</text>
<line x1="260" y1="424.2" x2="260" y2="429.7" stroke="#1f1b1a" stroke-width="1.5"/>
<line x1="289.9" y1="424.2" x2="289.9" y2="429.7" stroke="#1f1b1a" stroke-width="1.5"/>
<line x1="319.7" y1="424.2" x2="319.7" y2="429.7" stroke="#1f1b1a" stroke-width="1.5"/>
<line x1="349.6" y1="424.2" x2="349.6" y2="429.7" stroke="#1f1b1a" stroke-width="1.5"/>
<circle cx="252.7" cy="422.85" r="2.4" fill="#4c4ca3" stroke="none" stroke-width="1"/>
<circle cx="260" cy="421.49" r="2.4" fill="#4c4ca3" stroke="none" stroke-width="1"/>
<circle cx="267.6" cy="421.86" r="2.4" fill="#4c4ca3" stroke="none" stroke-width="1"/>
<circle cx="282.4" cy="411.03" r="2.4" fill="#55abff" stroke="none" stroke-width="1"/>
<circle cx="289.9" cy="410.04" r="2.4" fill="#55abff" stroke="none" stroke-width="1"/>
<circle cx="297.2" cy="411.03" r="2.4" fill="#55abff" stroke="none" stroke-width="1"/>
<line x1="319.7" y1="408.33" x2="319.7" y2="395.34" stroke="#d65f49" stroke-width="1.1"/>
<line x1="315.7" y1="395.34" x2="323.7" y2="395.34" stroke="#d65f49" stroke-width="1.1"/>
<line x1="315.7" y1="408.33" x2="323.7" y2="408.33" stroke="#d65f49" stroke-width="1.1"/>
<circle cx="319.7" cy="394.8" r="2.4" fill="#d65f49" stroke="none" stroke-width="1"/>
<circle cx="319.7" cy="403.28" r="2.4" fill="#d65f49" stroke="none" stroke-width="1"/>
<circle cx="319.7" cy="408.15" r="2.4" fill="#d65f49" stroke="none" stroke-width="1"/>
<line x1="349.6" y1="409.59" x2="349.6" y2="405.26" stroke="#f5a853" stroke-width="1.1"/>
<line x1="345.6" y1="405.26" x2="353.6" y2="405.26" stroke="#f5a853" stroke-width="1.1"/>
<line x1="345.6" y1="409.59" x2="353.6" y2="409.59" stroke="#f5a853" stroke-width="1.1"/>
<circle cx="345" cy="405.26" r="2.4" fill="#f5a853" stroke="none" stroke-width="1"/>
<circle cx="353.2" cy="406.16" r="2.4" fill="#f5a853" stroke="none" stroke-width="1"/>
<circle cx="348.6" cy="410.04" r="2.4" fill="#f5a853" stroke="none" stroke-width="1"/>
<text x="270.4" y="439.7" font-size="12.7" text-anchor="end" transform="rotate(-45 270.4 439.7)">Mock</text>
<text x="296.1" y="440.1" font-size="12.7" text-anchor="end" transform="rotate(-45 296.1 440.1)">TAK1 WT</text>
<text x="325.9" y="440.1" font-size="12.7" text-anchor="end" transform="rotate(-45 325.9 440.1)">TAK1-mut 8</text>
<text x="355.1" y="439.7" font-size="12.7" text-anchor="end" transform="rotate(-45 355.1 439.7)">TAK1-mut 10</text>
<text x="211" y="349.05" font-size="12.7" text-anchor="middle" transform="rotate(-90 211 349.05)">TIM-3 (% of TCRβ+)</text>
<line x1="289.9" y1="351.3" x2="349.8" y2="351.3" stroke="#1f1b1a" stroke-width="1.2"/>
<text x="319.85" y="347" font-size="12.7" text-anchor="middle">n.s.</text>
<line x1="289.9" y1="376.5" x2="319.9" y2="376.5" stroke="#1f1b1a" stroke-width="1.2"/>
<text x="304.9" y="372.2" font-size="12.7" text-anchor="middle">n.s.</text>
</g>
<g>
<text x="376.2" y="271.2" font-size="19" font-weight="bold" fill="#1a1413">H</text>
<line x1="391.7" y1="385.9" x2="617" y2="385.9" stroke="#1f1b1a" stroke-width="1.7"/>
<path d="M 628 385.9 L 612.5 380.5 L 616 385.9 L 612.5 391.3 Z" fill="#1f1b1a"/>
<text x="415.5" y="325.5" font-size="12.7" text-anchor="middle">K562</text>
<text x="415.5" y="340.7" font-size="12.7" text-anchor="middle">2.5×10<tspan font-size="7.5" dy="-4.2">6</tspan></text>
<line x1="409.3" y1="344.6" x2="409.3" y2="375.6" stroke="#1f1b1a" stroke-width="1.2"/>
<path d="M 409.3 380.6 L 405.9 371.6 L 409.3 373.8 L 412.7 371.6 Z" fill="#1f1b1a"/>
<text x="420.7" y="358" font-size="12.7">S.C.</text>
<text x="420.7" y="372.8" font-size="12.7">injection</text>
<text x="500.6" y="311.3" font-size="12.7" text-anchor="middle">TAK1</text>
<text x="500.6" y="326.8" font-size="12.7" text-anchor="middle">TCR-T cells</text>
<text x="500.6" y="341.8" font-size="12.7" text-anchor="middle">1×10<tspan font-size="7.5" dy="-4.2">7</tspan></text>
<line x1="498.5" y1="344.6" x2="498.5" y2="375.6" stroke="#1f1b1a" stroke-width="1.2"/>
<path d="M 498.5 380.6 L 495.1 371.6 L 498.5 373.8 L 501.9 371.6 Z" fill="#1f1b1a"/>
<text x="514.3" y="358" font-size="12.7">Tail vein</text>
<text x="514.3" y="372.8" font-size="12.7">injection</text>
<text x="613.3" y="358" font-size="12.7" text-anchor="middle">Tumor volume</text>
<text x="613.3" y="372.8" font-size="12.7" text-anchor="middle">measurement</text>
<g transform="translate(409.4 416) scale(1 1)" fill="#fff" stroke="#3b3634" stroke-width="1">
<circle cx="-9.8" cy="-8.9" r="7"/>
<circle cx="-9.3" cy="-8.3" r="5.4" stroke="#8d8886" stroke-width="0.8"/>
<circle cx="9.8" cy="-8.9" r="7"/>
<circle cx="9.3" cy="-8.3" r="5.4" stroke="#8d8886" stroke-width="0.8"/>
<path d="M0 -11.9 C4.2 -11.9 7.6 -9.6 9.2 -5.6 C10.4 -2.6 11.9 0.2 11.9 3.1 C11.9 8.4 6.4 11.8 0 11.8 C-6.4 11.8 -11.9 8.4 -11.9 3.1 C-11.9 0.2 -10.4 -2.6 -9.2 -5.6 C-7.6 -9.6 -4.2 -11.9 0 -11.9 Z"/>
<ellipse cx="-4.65" cy="-0.8" rx="1.5" ry="2.4" fill="#1f1b1a" stroke="none"/>
<ellipse cx="4.65" cy="-0.8" rx="1.5" ry="2.4" fill="#1f1b1a" stroke="none"/>
<ellipse cx="0" cy="4.9" rx="2" ry="0.9" fill="#d8cfcd" stroke="none"/>
<ellipse cx="-8" cy="5" rx="2.4" ry="1.5" fill="#cfc9c7" stroke="none"/>
<path d="M-9.6 4.4 Q-15 3.6 -20 7.4" fill="none" stroke-width="0.85"/>
<path d="M-9.6 5.9 Q-15 7 -18.5 12" fill="none" stroke-width="0.85"/>
<path d="M-8.9 7.4 Q-13.5 10 -16.3 16.3" fill="none" stroke-width="0.85"/>
<ellipse cx="8" cy="5" rx="2.4" ry="1.5" fill="#cfc9c7" stroke="none"/>
<path d="M9.6 4.4 Q15 3.6 20 7.4" fill="none" stroke-width="0.85"/>
<path d="M9.6 5.9 Q15 7 18.5 12" fill="none" stroke-width="0.85"/>
<path d="M8.9 7.4 Q13.5 10 16.3 16.3" fill="none" stroke-width="0.85"/>
</g>
<g transform="translate(498 415.6) scale(1 1)" fill="#fff" stroke="#3b3634" stroke-width="1">
<circle cx="-9.8" cy="-8.9" r="7"/>
<circle cx="-9.3" cy="-8.3" r="5.4" stroke="#8d8886" stroke-width="0.8"/>
<circle cx="9.8" cy="-8.9" r="7"/>
<circle cx="9.3" cy="-8.3" r="5.4" stroke="#8d8886" stroke-width="0.8"/>
<path d="M0 -11.9 C4.2 -11.9 7.6 -9.6 9.2 -5.6 C10.4 -2.6 11.9 0.2 11.9 3.1 C11.9 8.4 6.4 11.8 0 11.8 C-6.4 11.8 -11.9 8.4 -11.9 3.1 C-11.9 0.2 -10.4 -2.6 -9.2 -5.6 C-7.6 -9.6 -4.2 -11.9 0 -11.9 Z"/>
<ellipse cx="-4.65" cy="-0.8" rx="1.5" ry="2.4" fill="#1f1b1a" stroke="none"/>
<ellipse cx="4.65" cy="-0.8" rx="1.5" ry="2.4" fill="#1f1b1a" stroke="none"/>
<ellipse cx="0" cy="4.9" rx="2" ry="0.9" fill="#d8cfcd" stroke="none"/>
<ellipse cx="-8" cy="5" rx="2.4" ry="1.5" fill="#cfc9c7" stroke="none"/>
<path d="M-9.6 4.4 Q-15 3.6 -20 7.4" fill="none" stroke-width="0.85"/>
<path d="M-9.6 5.9 Q-15 7 -18.5 12" fill="none" stroke-width="0.85"/>
<path d="M-8.9 7.4 Q-13.5 10 -16.3 16.3" fill="none" stroke-width="0.85"/>
<ellipse cx="8" cy="5" rx="2.4" ry="1.5" fill="#cfc9c7" stroke="none"/>
<path d="M9.6 4.4 Q15 3.6 20 7.4" fill="none" stroke-width="0.85"/>
<path d="M9.6 5.9 Q15 7 18.5 12" fill="none" stroke-width="0.85"/>
<path d="M8.9 7.4 Q13.5 10 16.3 16.3" fill="none" stroke-width="0.85"/>
</g>
<g transform="translate(612.7 412.2) scale(1 -1)" fill="#fff" stroke="#3b3634" stroke-width="1">
<circle cx="-9.8" cy="-8.9" r="7"/>
<circle cx="-9.3" cy="-8.3" r="5.4" stroke="#8d8886" stroke-width="0.8"/>
<circle cx="9.8" cy="-8.9" r="7"/>
<circle cx="9.3" cy="-8.3" r="5.4" stroke="#8d8886" stroke-width="0.8"/>
<path d="M0 -11.9 C4.2 -11.9 7.6 -9.6 9.2 -5.6 C10.4 -2.6 11.9 0.2 11.9 3.1 C11.9 8.4 6.4 11.8 0 11.8 C-6.4 11.8 -11.9 8.4 -11.9 3.1 C-11.9 0.2 -10.4 -2.6 -9.2 -5.6 C-7.6 -9.6 -4.2 -11.9 0 -11.9 Z"/>
<ellipse cx="0" cy="4.9" rx="2" ry="0.9" fill="#d8cfcd" stroke="none"/>
<ellipse cx="-8" cy="5" rx="2.4" ry="1.5" fill="#cfc9c7" stroke="none"/>
<path d="M-9.6 4.4 Q-15 3.6 -20 7.4" fill="none" stroke-width="0.85"/>
<path d="M-9.6 5.9 Q-15 7 -18.5 12" fill="none" stroke-width="0.85"/>
<path d="M-8.9 7.4 Q-13.5 10 -16.3 16.3" fill="none" stroke-width="0.85"/>
<ellipse cx="8" cy="5" rx="2.4" ry="1.5" fill="#cfc9c7" stroke="none"/>
<path d="M9.6 4.4 Q15 3.6 20 7.4" fill="none" stroke-width="0.85"/>
<path d="M9.6 5.9 Q15 7 18.5 12" fill="none" stroke-width="0.85"/>
<path d="M8.9 7.4 Q13.5 10 16.3 16.3" fill="none" stroke-width="0.85"/>
</g>
<text x="607.95" y="416.8" font-size="9" text-anchor="middle" font-weight="bold" fill="#1f1b1a">x</text>
<text x="617.45" y="416.8" font-size="9" text-anchor="middle" font-weight="bold" fill="#1f1b1a">x</text>
<g transform="translate(524.8 408.3) rotate(40) scale(1.12)" fill="none" stroke="#3a3533" stroke-width="0.85"><rect x="-2.2" y="-5" width="4.4" height="10" fill="#fff"/><line x1="0" y1="5" x2="0" y2="10.5"/><line x1="-3" y1="-5" x2="3" y2="-5"/><line x1="0" y1="-5" x2="0" y2="-9"/><line x1="-2.4" y1="-9" x2="2.4" y2="-9"/><line x1="-2.2" y1="-1" x2="0" y2="-1"/><line x1="-2.2" y1="1.5" x2="0" y2="1.5"/></g>
<text x="409.3" y="455.2" font-size="12.7" text-anchor="middle">Day 0</text>
<text x="498" y="455.2" font-size="12.7" text-anchor="middle">Day 5</text>
<text x="612.8" y="455.2" font-size="12.7" text-anchor="middle">Day 25</text>
</g>
<g>
<text x="653.6" y="271.2" font-size="19" font-weight="bold" fill="#1a1413">I</text>
<line x1="709.1" y1="438.5" x2="876.9" y2="438.5" stroke="#1f1b1a" stroke-width="1.6"/>
<line x1="715.6" y1="277.8" x2="715.6" y2="439.3" stroke="#1f1b1a" stroke-width="1.6"/>
<g opacity="0.75">
<line x1="779.84" y1="430.28" x2="779.84" y2="423.13" stroke="#f5a853" stroke-width="0.9"/>
<line x1="777.64" y1="423.13" x2="782.04" y2="423.13" stroke="#f5a853" stroke-width="0.9"/>
<line x1="777.64" y1="430.28" x2="782.04" y2="430.28" stroke="#f5a853" stroke-width="0.9"/>
</g>
<g opacity="0.75">
<line x1="795.9" y1="428.67" x2="795.9" y2="416.76" stroke="#f5a853" stroke-width="0.9"/>
<line x1="793.7" y1="416.76" x2="798.1" y2="416.76" stroke="#f5a853" stroke-width="0.9"/>
<line x1="793.7" y1="428.67" x2="798.1" y2="428.67" stroke="#f5a853" stroke-width="0.9"/>
</g>
<g opacity="0.75">
<line x1="819.99" y1="420.04" x2="819.99" y2="386.68" stroke="#f5a853" stroke-width="0.9"/>
<line x1="817.79" y1="386.68" x2="822.19" y2="386.68" stroke="#f5a853" stroke-width="0.9"/>
<line x1="817.79" y1="420.04" x2="822.19" y2="420.04" stroke="#f5a853" stroke-width="0.9"/>
</g>
<g opacity="0.75">
<line x1="836.05" y1="406.4" x2="836.05" y2="382.57" stroke="#f5a853" stroke-width="0.9"/>
<line x1="833.85" y1="382.57" x2="838.25" y2="382.57" stroke="#f5a853" stroke-width="0.9"/>
<line x1="833.85" y1="406.4" x2="838.25" y2="406.4" stroke="#f5a853" stroke-width="0.9"/>
</g>
<g opacity="0.75">
<line x1="852.11" y1="405.03" x2="852.11" y2="369.29" stroke="#f5a853" stroke-width="0.9"/>
<line x1="849.91" y1="369.29" x2="854.31" y2="369.29" stroke="#f5a853" stroke-width="0.9"/>
<line x1="849.91" y1="405.03" x2="854.31" y2="405.03" stroke="#f5a853" stroke-width="0.9"/>
</g>
<g opacity="0.75">
<line x1="876.2" y1="382.87" x2="876.2" y2="348.33" stroke="#f5a853" stroke-width="0.9"/>
<line x1="874" y1="348.33" x2="878.4" y2="348.33" stroke="#f5a853" stroke-width="0.9"/>
<line x1="874" y1="382.87" x2="878.4" y2="382.87" stroke="#f5a853" stroke-width="0.9"/>
</g>
<g opacity="0.75">
<line x1="779.84" y1="424.74" x2="779.84" y2="414.02" stroke="#d65f49" stroke-width="0.9"/>
<line x1="777.64" y1="414.02" x2="782.04" y2="414.02" stroke="#d65f49" stroke-width="0.9"/>
<line x1="777.64" y1="424.74" x2="782.04" y2="424.74" stroke="#d65f49" stroke-width="0.9"/>
</g>
<g opacity="0.75">
<line x1="795.9" y1="417.71" x2="795.9" y2="404.61" stroke="#d65f49" stroke-width="0.9"/>
<line x1="793.7" y1="404.61" x2="798.1" y2="404.61" stroke="#d65f49" stroke-width="0.9"/>
<line x1="793.7" y1="417.71" x2="798.1" y2="417.71" stroke="#d65f49" stroke-width="0.9"/>
</g>
<g opacity="0.75">
<line x1="819.99" y1="401.63" x2="819.99" y2="371.85" stroke="#d65f49" stroke-width="0.9"/>
<line x1="817.79" y1="371.85" x2="822.19" y2="371.85" stroke="#d65f49" stroke-width="0.9"/>
<line x1="817.79" y1="401.63" x2="822.19" y2="401.63" stroke="#d65f49" stroke-width="0.9"/>
</g>
<g opacity="0.75">
<line x1="836.05" y1="401.93" x2="836.05" y2="362.62" stroke="#d65f49" stroke-width="0.9"/>
<line x1="833.85" y1="362.62" x2="838.25" y2="362.62" stroke="#d65f49" stroke-width="0.9"/>
<line x1="833.85" y1="401.93" x2="838.25" y2="401.93" stroke="#d65f49" stroke-width="0.9"/>
</g>
<g opacity="0.75">
<line x1="852.11" y1="370.48" x2="852.11" y2="344.28" stroke="#d65f49" stroke-width="0.9"/>
<line x1="849.91" y1="344.28" x2="854.31" y2="344.28" stroke="#d65f49" stroke-width="0.9"/>
<line x1="849.91" y1="370.48" x2="854.31" y2="370.48" stroke="#d65f49" stroke-width="0.9"/>
</g>
<g opacity="0.75">
<line x1="876.2" y1="344.16" x2="876.2" y2="280.43" stroke="#d65f49" stroke-width="0.9"/>
<line x1="874" y1="280.43" x2="878.4" y2="280.43" stroke="#d65f49" stroke-width="0.9"/>
<line x1="874" y1="344.16" x2="878.4" y2="344.16" stroke="#d65f49" stroke-width="0.9"/>
</g>
<g opacity="0.75">
<line x1="739.69" y1="436.65" x2="739.69" y2="430.1" stroke="#55abff" stroke-width="0.9"/>
<line x1="737.49" y1="430.1" x2="741.89" y2="430.1" stroke="#55abff" stroke-width="0.9"/>
<line x1="737.49" y1="436.65" x2="741.89" y2="436.65" stroke="#55abff" stroke-width="0.9"/>
</g>
<g opacity="0.75">
<line x1="763.78" y1="431.41" x2="763.78" y2="420.69" stroke="#55abff" stroke-width="0.9"/>
<line x1="761.58" y1="420.69" x2="765.98" y2="420.69" stroke="#55abff" stroke-width="0.9"/>
<line x1="761.58" y1="431.41" x2="765.98" y2="431.41" stroke="#55abff" stroke-width="0.9"/>
</g>
<g opacity="0.75">
<line x1="779.84" y1="430.1" x2="779.84" y2="403.3" stroke="#55abff" stroke-width="0.9"/>
<line x1="777.64" y1="403.3" x2="782.04" y2="403.3" stroke="#55abff" stroke-width="0.9"/>
<line x1="777.64" y1="430.1" x2="782.04" y2="430.1" stroke="#55abff" stroke-width="0.9"/>
</g>
<g opacity="0.75">
<line x1="795.9" y1="414.74" x2="795.9" y2="386.74" stroke="#55abff" stroke-width="0.9"/>
<line x1="793.7" y1="386.74" x2="798.1" y2="386.74" stroke="#55abff" stroke-width="0.9"/>
<line x1="793.7" y1="414.74" x2="798.1" y2="414.74" stroke="#55abff" stroke-width="0.9"/>
</g>
<g opacity="0.75">
<line x1="819.99" y1="383.11" x2="819.99" y2="346.78" stroke="#55abff" stroke-width="0.9"/>
<line x1="817.79" y1="346.78" x2="822.19" y2="346.78" stroke="#55abff" stroke-width="0.9"/>
<line x1="817.79" y1="383.11" x2="822.19" y2="383.11" stroke="#55abff" stroke-width="0.9"/>
</g>
<g opacity="0.75">
<line x1="836.05" y1="364.41" x2="836.05" y2="317.95" stroke="#55abff" stroke-width="0.9"/>
<line x1="833.85" y1="317.95" x2="838.25" y2="317.95" stroke="#55abff" stroke-width="0.9"/>
<line x1="833.85" y1="364.41" x2="838.25" y2="364.41" stroke="#55abff" stroke-width="0.9"/>
</g>
<g opacity="0.75">
<line x1="763.78" y1="428.73" x2="763.78" y2="421.58" stroke="#4c4ca3" stroke-width="0.9"/>
<line x1="761.58" y1="421.58" x2="765.98" y2="421.58" stroke="#4c4ca3" stroke-width="0.9"/>
<line x1="761.58" y1="428.73" x2="765.98" y2="428.73" stroke="#4c4ca3" stroke-width="0.9"/>
</g>
<g opacity="0.75">
<line x1="779.84" y1="421.58" x2="779.84" y2="409.67" stroke="#4c4ca3" stroke-width="0.9"/>
<line x1="777.64" y1="409.67" x2="782.04" y2="409.67" stroke="#4c4ca3" stroke-width="0.9"/>
<line x1="777.64" y1="421.58" x2="782.04" y2="421.58" stroke="#4c4ca3" stroke-width="0.9"/>
</g>
<g opacity="0.75">
<line x1="795.9" y1="403.54" x2="795.9" y2="395.2" stroke="#4c4ca3" stroke-width="0.9"/>
<line x1="793.7" y1="395.2" x2="798.1" y2="395.2" stroke="#4c4ca3" stroke-width="0.9"/>
<line x1="793.7" y1="403.54" x2="798.1" y2="403.54" stroke="#4c4ca3" stroke-width="0.9"/>
</g>
<g opacity="0.75">
<line x1="819.99" y1="379.18" x2="819.99" y2="347.61" stroke="#4c4ca3" stroke-width="0.9"/>
<line x1="817.79" y1="347.61" x2="822.19" y2="347.61" stroke="#4c4ca3" stroke-width="0.9"/>
<line x1="817.79" y1="379.18" x2="822.19" y2="379.18" stroke="#4c4ca3" stroke-width="0.9"/>
</g>
<g opacity="0.75">
<line x1="836.05" y1="345.29" x2="836.05" y2="305.98" stroke="#4c4ca3" stroke-width="0.9"/>
<line x1="833.85" y1="305.98" x2="838.25" y2="305.98" stroke="#4c4ca3" stroke-width="0.9"/>
<line x1="833.85" y1="345.29" x2="838.25" y2="345.29" stroke="#4c4ca3" stroke-width="0.9"/>
</g>
<polyline points="715.6,437.84 739.69,436.71 763.78,430.52 779.84,426.71 795.9,422.72 819.99,403.36 836.05,394.49 852.11,387.16 876.2,365.6" fill="none" stroke="#f5a853" stroke-width="1.1"/>
<circle cx="715.6" cy="437.84" r="2.5" fill="#fde8b5" stroke="#f5a853" stroke-width="1.5" fill-opacity="0.85"/>
<circle cx="739.69" cy="436.71" r="2.5" fill="#fde8b5" stroke="#f5a853" stroke-width="1.5" fill-opacity="0.85"/>
<circle cx="763.78" cy="430.52" r="2.5" fill="#fde8b5" stroke="#f5a853" stroke-width="1.5" fill-opacity="0.85"/>
<circle cx="779.84" cy="426.71" r="2.5" fill="#fde8b5" stroke="#f5a853" stroke-width="1.5" fill-opacity="0.85"/>
<circle cx="795.9" cy="422.72" r="2.5" fill="#fde8b5" stroke="#f5a853" stroke-width="1.5" fill-opacity="0.85"/>
<circle cx="819.99" cy="403.36" r="2.5" fill="#fde8b5" stroke="#f5a853" stroke-width="1.5" fill-opacity="0.85"/>
<circle cx="836.05" cy="394.49" r="2.5" fill="#fde8b5" stroke="#f5a853" stroke-width="1.5" fill-opacity="0.85"/>
<circle cx="852.11" cy="387.16" r="2.5" fill="#fde8b5" stroke="#f5a853" stroke-width="1.5" fill-opacity="0.85"/>
<circle cx="876.2" cy="365.6" r="2.5" fill="#fde8b5" stroke="#f5a853" stroke-width="1.5" fill-opacity="0.85"/>
<polyline points="715.6,437.84 739.69,436.3 763.78,428.97 779.84,419.38 795.9,411.16 819.99,386.74 836.05,382.28 852.11,357.38 876.2,312.29" fill="none" stroke="#d65f49" stroke-width="1.1"/>
<circle cx="715.6" cy="437.84" r="2.5" fill="#e4b1a4" stroke="#d65f49" stroke-width="1.5" fill-opacity="0.85"/>
<circle cx="739.69" cy="436.3" r="2.5" fill="#e4b1a4" stroke="#d65f49" stroke-width="1.5" fill-opacity="0.85"/>
<circle cx="763.78" cy="428.97" r="2.5" fill="#e4b1a4" stroke="#d65f49" stroke-width="1.5" fill-opacity="0.85"/>
<circle cx="779.84" cy="419.38" r="2.5" fill="#e4b1a4" stroke="#d65f49" stroke-width="1.5" fill-opacity="0.85"/>
<circle cx="795.9" cy="411.16" r="2.5" fill="#e4b1a4" stroke="#d65f49" stroke-width="1.5" fill-opacity="0.85"/>
<circle cx="819.99" cy="386.74" r="2.5" fill="#e4b1a4" stroke="#d65f49" stroke-width="1.5" fill-opacity="0.85"/>
<circle cx="836.05" cy="382.28" r="2.5" fill="#e4b1a4" stroke="#d65f49" stroke-width="1.5" fill-opacity="0.85"/>
<circle cx="852.11" cy="357.38" r="2.5" fill="#e4b1a4" stroke="#d65f49" stroke-width="1.5" fill-opacity="0.85"/>
<circle cx="876.2" cy="312.29" r="2.5" fill="#e4b1a4" stroke="#d65f49" stroke-width="1.5" fill-opacity="0.85"/>
<polyline points="715.6,437.84 739.69,433.38 763.78,426.05 779.84,416.7 795.9,400.74 819.99,364.94 836.05,341.18" fill="none" stroke="#55abff" stroke-width="1.1"/>
<circle cx="715.6" cy="437.84" r="2.5" fill="#b4dcff" stroke="#55abff" stroke-width="1.5" fill-opacity="0.85"/>
<circle cx="739.69" cy="433.38" r="2.5" fill="#b4dcff" stroke="#55abff" stroke-width="1.5" fill-opacity="0.85"/>
<circle cx="763.78" cy="426.05" r="2.5" fill="#b4dcff" stroke="#55abff" stroke-width="1.5" fill-opacity="0.85"/>
<circle cx="779.84" cy="416.7" r="2.5" fill="#b4dcff" stroke="#55abff" stroke-width="1.5" fill-opacity="0.85"/>
<circle cx="795.9" cy="400.74" r="2.5" fill="#b4dcff" stroke="#55abff" stroke-width="1.5" fill-opacity="0.85"/>
<circle cx="819.99" cy="364.94" r="2.5" fill="#b4dcff" stroke="#55abff" stroke-width="1.5" fill-opacity="0.85"/>
<circle cx="836.05" cy="341.18" r="2.5" fill="#b4dcff" stroke="#55abff" stroke-width="1.5" fill-opacity="0.85"/>
<polyline points="715.6,437.84 739.69,434.93 763.78,425.16 779.84,415.63 795.9,399.37 819.99,363.39 836.05,325.63" fill="none" stroke="#4c4ca3" stroke-width="1.1"/>
<circle cx="715.6" cy="437.84" r="2.5" fill="#b4b4dc" stroke="#4c4ca3" stroke-width="1.5" fill-opacity="0.85"/>
<circle cx="739.69" cy="434.93" r="2.5" fill="#b4b4dc" stroke="#4c4ca3" stroke-width="1.5" fill-opacity="0.85"/>
<circle cx="763.78" cy="425.16" r="2.5" fill="#b4b4dc" stroke="#4c4ca3" stroke-width="1.5" fill-opacity="0.85"/>
<circle cx="779.84" cy="415.63" r="2.5" fill="#b4b4dc" stroke="#4c4ca3" stroke-width="1.5" fill-opacity="0.85"/>
<circle cx="795.9" cy="399.37" r="2.5" fill="#b4b4dc" stroke="#4c4ca3" stroke-width="1.5" fill-opacity="0.85"/>
<circle cx="819.99" cy="363.39" r="2.5" fill="#b4b4dc" stroke="#4c4ca3" stroke-width="1.5" fill-opacity="0.85"/>
<circle cx="836.05" cy="325.63" r="2.5" fill="#b4b4dc" stroke="#4c4ca3" stroke-width="1.5" fill-opacity="0.85"/>
<line x1="709.1" y1="438.5" x2="715.6" y2="438.5" stroke="#1f1b1a" stroke-width="1.5"/>
<text x="707.1" y="443" font-size="12.7" text-anchor="end">0</text>
<line x1="709.1" y1="408.72" x2="715.6" y2="408.72" stroke="#1f1b1a" stroke-width="1.5"/>
<text x="707.1" y="413.22" font-size="12.7" text-anchor="end">500</text>
<line x1="709.1" y1="378.94" x2="715.6" y2="378.94" stroke="#1f1b1a" stroke-width="1.5"/>
<text x="707.1" y="383.44" font-size="12.7" text-anchor="end">1000</text>
<line x1="709.1" y1="349.16" x2="715.6" y2="349.16" stroke="#1f1b1a" stroke-width="1.5"/>
<text x="707.1" y="353.66" font-size="12.7" text-anchor="end">1500</text>
<line x1="709.1" y1="319.38" x2="715.6" y2="319.38" stroke="#1f1b1a" stroke-width="1.5"/>
<text x="707.1" y="323.88" font-size="12.7" text-anchor="end">2000</text>
<line x1="709.1" y1="289.6" x2="715.6" y2="289.6" stroke="#1f1b1a" stroke-width="1.5"/>
<text x="707.1" y="294.1" font-size="12.7" text-anchor="end">2500</text>
<line x1="715.6" y1="438.5" x2="715.6" y2="444.5" stroke="#1f1b1a" stroke-width="1.5"/>
<text x="715.6" y="459.5" font-size="12.7" text-anchor="middle">0</text>
<line x1="755.75" y1="438.5" x2="755.75" y2="444.5" stroke="#1f1b1a" stroke-width="1.5"/>
<text x="755.75" y="459.5" font-size="12.7" text-anchor="middle">5</text>
<line x1="795.9" y1="438.5" x2="795.9" y2="444.5" stroke="#1f1b1a" stroke-width="1.5"/>
<text x="795.9" y="459.5" font-size="12.7" text-anchor="middle">10</text>
<line x1="836.05" y1="438.5" x2="836.05" y2="444.5" stroke="#1f1b1a" stroke-width="1.5"/>
<text x="836.05" y="459.5" font-size="12.7" text-anchor="middle">15</text>
<line x1="876.2" y1="438.5" x2="876.2" y2="444.5" stroke="#1f1b1a" stroke-width="1.5"/>
<text x="876.2" y="459.5" font-size="12.7" text-anchor="middle">20</text>
<text x="672" y="358.5" font-size="12.7" text-anchor="middle" transform="rotate(-90 672 358.5)">Tumor volume (mm<tspan font-size="7.5" dy="-4.2">3</tspan><tspan dy="4.2">)</tspan></text>
<text x="887.5" y="476.2" font-size="12.7" text-anchor="middle">Time post TCR-T injection (days)</text>
<clipPath id="clipI"><rect x="895.4" y="277" width="175" height="161.6"/></clipPath>
<g clip-path="url(#clipI)" fill="none" stroke-linejoin="round">
<polyline points="895.4,437.94 919.67,436.51 943.94,429.04 960.12,424.26 976.3,419.48 1000.57,395.59 1016.75,384.83 1032.93,378.86 1057.2,350.18" stroke="#f5a853" stroke-width="1.15" stroke-dasharray="2.8 1.3" opacity="0.5"/>
<polyline points="895.4,437.94 919.67,436.81 943.94,430.24 960.12,426.05 976.3,421.28 1000.57,399.77 1016.75,389.61 1032.93,381.85 1057.2,357.95" stroke="#f5a853" stroke-width="1.15" stroke-dasharray="2.8 1.3" opacity="0.5"/>
<polyline points="895.4,437.94 919.67,436.81 943.94,430.83 960.12,426.65 976.3,422.47 1000.57,402.76 1016.75,393.2 1032.93,386.03 1057.2,360.94" stroke="#f5a853" stroke-width="1.15" stroke-dasharray="2.8 1.3" opacity="0.5"/>
<polyline points="895.4,437.94 919.67,437.11 943.94,431.43 960.12,427.85 976.3,424.26 1000.57,406.34 1016.75,396.78 1032.93,389.61 1057.2,363.93" stroke="#f5a853" stroke-width="1.15" stroke-dasharray="2.8 1.3" opacity="0.5"/>
<polyline points="895.4,437.94 919.67,436.51 943.94,429.64 960.12,425.46 976.3,420.68 1000.57,397.98 1016.75,387.82 1032.93,369.9 1057.2,353.77" stroke="#f5a853" stroke-width="1.15" stroke-dasharray="2.8 1.3" opacity="0.5"/>
<polyline points="895.4,437.94 919.67,437.41 943.94,433.22 960.12,430.83 976.3,428.44 1000.57,415.9 1016.75,406.34 1032.93,408.13 1057.2,389.02" stroke="#f5a853" stroke-width="1.15" stroke-dasharray="2.8 1.3" opacity="0.5"/>
<polyline points="895.4,437.94 919.67,437.11 943.94,432.03 960.12,429.04 976.3,426.65 1000.57,413.51 1016.75,401.56 1032.93,384.83 1057.2,366.91" stroke="#f5a853" stroke-width="1.15" stroke-dasharray="2.8 1.3" opacity="0.5"/>
<polyline points="895.4,437.94 919.67,437.7 943.94,434.42 960.12,432.03 976.3,429.64 1000.57,418.89 1016.75,407.54 1032.93,405.15 1057.2,390.81" stroke="#f5a853" stroke-width="1.15" stroke-dasharray="2.8 1.3" opacity="0.5"/>
<polyline points="895.4,437.94 919.67,436.21 943.94,427.85 960.12,417.09 976.3,407.54 1000.57,378.86 1016.75,372.89 1032.93,337.04 1057.2,295.22" stroke="#d65f49" stroke-width="1.15" stroke-dasharray="2.8 1.3" opacity="0.5"/>
<polyline points="895.4,437.94 919.67,436.51 943.94,429.64 960.12,420.68 976.3,412.91 1000.57,360.94 1016.75,378.86 1032.93,348.99 1057.2,301.2" stroke="#d65f49" stroke-width="1.15" stroke-dasharray="2.8 1.3" opacity="0.5"/>
<polyline points="895.4,437.94 919.67,435.91 943.94,428.44 960.12,418.89 976.3,409.92 1000.57,396.78 1016.75,399.77 1032.93,340.03 1057.2,310.16" stroke="#d65f49" stroke-width="1.15" stroke-dasharray="2.8 1.3" opacity="0.5"/>
<polyline points="895.4,437.94 919.67,436.81 943.94,430.24 960.12,421.87 976.3,414.7 1000.57,393.8 1016.75,396.78 1032.93,372.89 1057.2,313.15" stroke="#d65f49" stroke-width="1.15" stroke-dasharray="2.8 1.3" opacity="0.5"/>
<polyline points="895.4,437.94 919.67,436.21 943.94,429.04 960.12,418.29 976.3,408.73 1000.57,384.83 1016.75,348.99 1032.93,357.95 1057.2,350.18" stroke="#d65f49" stroke-width="1.15" stroke-dasharray="2.8 1.3" opacity="0.5"/>
<polyline points="895.4,437.94 919.67,436.81 943.94,430.83 960.12,422.47 976.3,415.9 1000.57,395.59 1016.75,387.82 1032.93,366.91 1057.2,351.98" stroke="#d65f49" stroke-width="1.15" stroke-dasharray="2.8 1.3" opacity="0.5"/>
<polyline points="895.4,437.94 919.67,435.61 943.94,427.25 960.12,415.9 976.3,405.15 1000.57,375.87 1016.75,363.93 1032.93,343.02 1057.2,304.19" stroke="#d65f49" stroke-width="1.15" stroke-dasharray="2.8 1.3" opacity="0.5"/>
<polyline points="895.4,437.94 919.67,437.11 943.94,431.43 960.12,423.67 976.3,417.09 1000.57,400.37 1016.75,393.2 1032.93,369.9 1057.2,348.99" stroke="#d65f49" stroke-width="1.15" stroke-dasharray="2.8 1.3" opacity="0.5"/>
<polyline points="895.4,437.94 919.67,430.24 943.94,420.68 960.12,401.56 976.3,386.63 1000.57,351.98 1016.75,334.06 1032.93,301.2" stroke="#55abff" stroke-width="1.15" stroke-dasharray="2.8 1.3" opacity="0.5"/>
<polyline points="895.4,437.94 919.67,431.43 943.94,421.87 960.12,405.15 976.3,390.81 1000.57,357.95 1016.75,325.09 1032.93,295.22" stroke="#55abff" stroke-width="1.15" stroke-dasharray="2.8 1.3" opacity="0.5"/>
<polyline points="895.4,437.94 919.67,432.63 943.94,424.86 960.12,414.7 976.3,396.78 1000.57,360.94 1016.75,331.07 1032.93,304.19 1057.2,241.46" stroke="#55abff" stroke-width="1.15" stroke-dasharray="2.8 1.3" opacity="0.5"/>
<polyline points="895.4,437.94 919.67,433.22 943.94,426.05 960.12,416.5 976.3,400.37 1000.57,363.93 1016.75,337.04 1032.93,316.13 1057.2,247.43" stroke="#55abff" stroke-width="1.15" stroke-dasharray="2.8 1.3" opacity="0.5"/>
<polyline points="895.4,437.94 919.67,434.42 943.94,427.85 960.12,420.68 976.3,405.15 1000.57,369.9 1016.75,346 1032.93,340.03 1057.2,235.48" stroke="#55abff" stroke-width="1.15" stroke-dasharray="2.8 1.3" opacity="0.5"/>
<polyline points="895.4,437.94 919.67,435.61 943.94,431.43 960.12,426.65 976.3,418.89 1000.57,396.78 1016.75,384.83 1032.93,369.9 1057.2,343.02" stroke="#55abff" stroke-width="1.15" stroke-dasharray="2.8 1.3" opacity="0.5"/>
<polyline points="895.4,437.94 919.67,437.41 943.94,436.21 960.12,433.22 976.3,423.67 1000.57,389.61 1016.75,375.87 1032.93,360.94 1057.2,265.35" stroke="#55abff" stroke-width="1.15" stroke-dasharray="2.8 1.3" opacity="0.5"/>
<polyline points="895.4,437.94 919.67,433.82 943.94,426.65 960.12,418.29 976.3,402.76 1000.57,366.91 1016.75,343.02 1032.93,322.11" stroke="#55abff" stroke-width="1.15" stroke-dasharray="2.8 1.3" opacity="0.5"/>
<polyline points="895.4,437.94 919.67,434.42 943.94,423.07 960.12,410.52 976.3,390.81 1000.57,340.03 1016.75,304.19" stroke="#4c4ca3" stroke-width="1.15" stroke-dasharray="2.8 1.3" opacity="0.5"/>
<polyline points="895.4,437.94 919.67,435.02 943.94,424.26 960.12,412.91 976.3,393.2 1000.57,348.99 1016.75,310.16" stroke="#4c4ca3" stroke-width="1.15" stroke-dasharray="2.8 1.3" opacity="0.5"/>
<polyline points="895.4,437.94 919.67,435.31 943.94,425.76 960.12,415.9 976.3,400.37 1000.57,365.12 1016.75,331.07 1032.93,286.26" stroke="#4c4ca3" stroke-width="1.15" stroke-dasharray="2.8 1.3" opacity="0.5"/>
<polyline points="895.4,437.94 919.67,435.61 943.94,426.65 960.12,417.69 976.3,403.35 1000.57,369.9 1016.75,337.04 1032.93,298.21" stroke="#4c4ca3" stroke-width="1.15" stroke-dasharray="2.8 1.3" opacity="0.5"/>
<polyline points="895.4,437.94 919.67,434.72 943.94,424.86 960.12,414.7 976.3,396.78 1000.57,357.95 1016.75,316.13 1032.93,274.32" stroke="#4c4ca3" stroke-width="1.15" stroke-dasharray="2.8 1.3" opacity="0.5"/>
<polyline points="895.4,437.94 919.67,435.91 943.94,427.85 960.12,420.08 976.3,407.54 1000.57,378.86 1016.75,354.96 1032.93,346" stroke="#4c4ca3" stroke-width="1.15" stroke-dasharray="2.8 1.3" opacity="0.5"/>
<polyline points="895.4,437.94 919.67,435.02 943.94,425.46 960.12,417.09 976.3,402.76 1000.57,372.89 1016.75,348.99 1032.93,316.13" stroke="#4c4ca3" stroke-width="1.15" stroke-dasharray="2.8 1.3" opacity="0.5"/>
<polyline points="895.4,437.94 919.67,434.12 943.94,423.67 960.12,413.51 976.3,397.38 1000.57,362.13 1016.75,325.09" stroke="#4c4ca3" stroke-width="1.15" stroke-dasharray="2.8 1.3" opacity="0.5"/>
<polyline points="895.4,437.94 919.67,436.81 943.94,430.59 960.12,426.77 976.3,422.77 1000.57,403.35 1016.75,394.45 1032.93,387.1 1057.2,365.48" stroke="#f5a853" stroke-width="1.7"/>
<polyline points="895.4,437.94 919.67,436.39 943.94,429.04 960.12,419.42 976.3,411.18 1000.57,386.69 1016.75,382.21 1032.93,357.23 1057.2,312.01" stroke="#d65f49" stroke-width="1.7"/>
<polyline points="895.4,437.94 919.67,433.46 943.94,426.11 960.12,416.74 976.3,400.72 1000.57,364.82 1016.75,340.98" stroke="#55abff" stroke-width="1.7"/>
<polyline points="895.4,437.94 919.67,435.02 943.94,425.22 960.12,415.66 976.3,399.35 1000.57,363.27 1016.75,325.39" stroke="#4c4ca3" stroke-width="1.7"/>
</g>
<line x1="888.9" y1="438.6" x2="1057.9" y2="438.6" stroke="#1f1b1a" stroke-width="1.6"/>
<line x1="895.4" y1="277" x2="895.4" y2="439.4" stroke="#1f1b1a" stroke-width="1.6"/>
<line x1="888.9" y1="438.6" x2="895.4" y2="438.6" stroke="#1f1b1a" stroke-width="1.5"/>
<line x1="888.9" y1="408.73" x2="895.4" y2="408.73" stroke="#1f1b1a" stroke-width="1.5"/>
<line x1="888.9" y1="378.86" x2="895.4" y2="378.86" stroke="#1f1b1a" stroke-width="1.5"/>
<line x1="888.9" y1="348.99" x2="895.4" y2="348.99" stroke="#1f1b1a" stroke-width="1.5"/>
<line x1="888.9" y1="319.12" x2="895.4" y2="319.12" stroke="#1f1b1a" stroke-width="1.5"/>
<line x1="888.9" y1="289.25" x2="895.4" y2="289.25" stroke="#1f1b1a" stroke-width="1.5"/>
<line x1="895.4" y1="438.6" x2="895.4" y2="444.6" stroke="#1f1b1a" stroke-width="1.5"/>
<text x="895.4" y="459.5" font-size="12.7" text-anchor="middle">0</text>
<line x1="935.85" y1="438.6" x2="935.85" y2="444.6" stroke="#1f1b1a" stroke-width="1.5"/>
<text x="935.85" y="459.5" font-size="12.7" text-anchor="middle">5</text>
<line x1="976.3" y1="438.6" x2="976.3" y2="444.6" stroke="#1f1b1a" stroke-width="1.5"/>
<text x="976.3" y="459.5" font-size="12.7" text-anchor="middle">10</text>
<line x1="1016.75" y1="438.6" x2="1016.75" y2="444.6" stroke="#1f1b1a" stroke-width="1.5"/>
<text x="1016.75" y="459.5" font-size="12.7" text-anchor="middle">15</text>
<line x1="1057.2" y1="438.6" x2="1057.2" y2="444.6" stroke="#1f1b1a" stroke-width="1.5"/>
<text x="1057.2" y="459.5" font-size="12.7" text-anchor="middle">20</text>
<line x1="810" y1="503.8" x2="825" y2="503.8" stroke="#4c4ca3" stroke-width="1.1"/>
<circle cx="817.5" cy="503.8" r="2.2" fill="#b4b4dc" stroke="#4c4ca3" stroke-width="1.4"/>
<text x="834.2" y="508.3" font-size="12.7">PBS</text>
<line x1="810" y1="523.2" x2="825" y2="523.2" stroke="#55abff" stroke-width="1.1"/>
<circle cx="817.5" cy="523.2" r="2.2" fill="#b4dcff" stroke="#55abff" stroke-width="1.4"/>
<text x="834.2" y="527.7" font-size="12.7">TAK1 WT</text>
<line x1="810" y1="542.6" x2="825" y2="542.6" stroke="#d65f49" stroke-width="1.1"/>
<circle cx="817.5" cy="542.6" r="2.2" fill="#e4b1a4" stroke="#d65f49" stroke-width="1.4"/>
<text x="834.2" y="547.1" font-size="12.7">TAK1-mut 8</text>
<line x1="810" y1="562" x2="825" y2="562" stroke="#f5a853" stroke-width="1.1"/>
<circle cx="817.5" cy="562" r="2.2" fill="#fde8b5" stroke="#f5a853" stroke-width="1.4"/>
<text x="834.2" y="566.5" font-size="12.7">TAK1-mut 10</text>
<line x1="911.3" y1="523.2" x2="911.3" y2="542.6" stroke="#1f1b1a" stroke-width="1.1"/>
<text x="908.5" y="532.9" font-size="11.5" text-anchor="middle" transform="rotate(90 908.5 532.9)">****</text>
<line x1="920.8" y1="523.2" x2="920.8" y2="562" stroke="#1f1b1a" stroke-width="1.1"/>
<text x="918" y="542.6" font-size="11.5" text-anchor="middle" transform="rotate(90 918 542.6)">****</text>
<line x1="930.5" y1="503.8" x2="930.5" y2="523.2" stroke="#1f1b1a" stroke-width="1.1"/>
<text x="927.7" y="513.5" font-size="11.5" text-anchor="middle" transform="rotate(90 927.7 513.5)">*</text>
<line x1="940.2" y1="503.8" x2="940.2" y2="542.6" stroke="#1f1b1a" stroke-width="1.1"/>
<text x="937.4" y="523.2" font-size="11.5" text-anchor="middle" transform="rotate(90 937.4 523.2)">****</text>
<line x1="950" y1="503.8" x2="950" y2="562" stroke="#1f1b1a" stroke-width="1.1"/>
<text x="947.2" y="532.9" font-size="11.5" text-anchor="middle" transform="rotate(90 947.2 532.9)">****</text>
</g>
<g>
<text x="11.5" y="521.3" font-size="19" font-weight="bold" fill="#1a1413">J</text>
<rect x="97.84" y="545.7" width="16.22" height="15.19" fill="#007dff" stroke="none" stroke-width="1"/>
<rect x="114.07" y="545.7" width="16.22" height="15.19" fill="#bfdeff" stroke="none" stroke-width="1"/>
<rect x="130.29" y="545.7" width="16.22" height="15.19" fill="#007dff" stroke="none" stroke-width="1"/>
<rect x="162.73" y="545.7" width="16.22" height="15.19" fill="#007dff" stroke="none" stroke-width="1"/>
<rect x="195.18" y="545.7" width="16.22" height="15.19" fill="#e6f2ff" stroke="none" stroke-width="1"/>
<rect x="130.29" y="560.89" width="16.22" height="15.19" fill="#007dff" stroke="none" stroke-width="1"/>
<rect x="146.51" y="560.89" width="16.22" height="15.19" fill="#f5faff" stroke="none" stroke-width="1"/>
<rect x="178.96" y="560.89" width="16.22" height="15.19" fill="#f5faff" stroke="none" stroke-width="1"/>
<rect x="195.18" y="560.89" width="16.22" height="15.19" fill="#a3d0ff" stroke="none" stroke-width="1"/>
<rect x="65.4" y="576.08" width="16.22" height="15.19" fill="#e6f2ff" stroke="none" stroke-width="1"/>
<rect x="130.29" y="576.08" width="16.22" height="15.19" fill="#007dff" stroke="none" stroke-width="1"/>
<rect x="146.51" y="576.08" width="16.22" height="15.19" fill="#007dff" stroke="none" stroke-width="1"/>
<rect x="162.73" y="576.08" width="16.22" height="15.19" fill="#bfdeff" stroke="none" stroke-width="1"/>
<rect x="195.18" y="576.08" width="16.22" height="15.19" fill="#0a82ff" stroke="none" stroke-width="1"/>
<rect x="65.4" y="591.27" width="16.22" height="15.19" fill="#e6f2ff" stroke="none" stroke-width="1"/>
<rect x="81.62" y="591.27" width="16.22" height="15.19" fill="#0a82ff" stroke="none" stroke-width="1"/>
<rect x="130.29" y="591.27" width="16.22" height="15.19" fill="#007dff" stroke="none" stroke-width="1"/>
<rect x="146.51" y="591.27" width="16.22" height="15.19" fill="#007dff" stroke="none" stroke-width="1"/>
<rect x="162.73" y="591.27" width="16.22" height="15.19" fill="#0a82ff" stroke="none" stroke-width="1"/>
<rect x="81.62" y="606.46" width="16.22" height="15.19" fill="#007dff" stroke="none" stroke-width="1"/>
<rect x="97.84" y="606.46" width="16.22" height="15.19" fill="#f7fbff" stroke="none" stroke-width="1"/>
<rect x="130.29" y="606.46" width="16.22" height="15.19" fill="#007dff" stroke="none" stroke-width="1"/>
<rect x="146.51" y="606.46" width="16.22" height="15.19" fill="#8cc4ff" stroke="none" stroke-width="1"/>
<rect x="195.18" y="606.46" width="16.22" height="15.19" fill="#007dff" stroke="none" stroke-width="1"/>
<rect x="65.4" y="621.65" width="16.22" height="15.19" fill="#007dff" stroke="none" stroke-width="1"/>
<rect x="97.84" y="621.65" width="16.22" height="15.19" fill="#f7fbff" stroke="none" stroke-width="1"/>
<rect x="130.29" y="621.65" width="16.22" height="15.19" fill="#007dff" stroke="none" stroke-width="1"/>
<rect x="146.51" y="621.65" width="16.22" height="15.19" fill="#007dff" stroke="none" stroke-width="1"/>
<rect x="162.73" y="621.65" width="16.22" height="15.19" fill="#d9ecff" stroke="none" stroke-width="1"/>
<rect x="195.18" y="621.65" width="16.22" height="15.19" fill="#bfdeff" stroke="none" stroke-width="1"/>
<rect x="65.4" y="636.84" width="16.22" height="15.19" fill="#bfdeff" stroke="none" stroke-width="1"/>
<rect x="97.84" y="636.84" width="16.22" height="15.19" fill="#c7e2ff" stroke="none" stroke-width="1"/>
<rect x="114.07" y="636.84" width="16.22" height="15.19" fill="#dbedff" stroke="none" stroke-width="1"/>
<rect x="130.29" y="636.84" width="16.22" height="15.19" fill="#007dff" stroke="none" stroke-width="1"/>
<rect x="162.73" y="636.84" width="16.22" height="15.19" fill="#f2f8ff" stroke="none" stroke-width="1"/>
<rect x="178.96" y="636.84" width="16.22" height="15.19" fill="#fafcff" stroke="none" stroke-width="1"/>
<rect x="65.4" y="652.03" width="16.22" height="15.19" fill="#d9ecff" stroke="none" stroke-width="1"/>
<rect x="97.84" y="652.03" width="16.22" height="15.19" fill="#73b8ff" stroke="none" stroke-width="1"/>
<rect x="114.07" y="652.03" width="16.22" height="15.19" fill="#cce5ff" stroke="none" stroke-width="1"/>
<rect x="146.51" y="652.03" width="16.22" height="15.19" fill="#fafcff" stroke="none" stroke-width="1"/>
<rect x="162.73" y="652.03" width="16.22" height="15.19" fill="#f5faff" stroke="none" stroke-width="1"/>
<rect x="81.62" y="667.22" width="16.22" height="15.19" fill="#007dff" stroke="none" stroke-width="1"/>
<rect x="97.84" y="667.22" width="16.22" height="15.19" fill="#e0efff" stroke="none" stroke-width="1"/>
<rect x="114.07" y="667.22" width="16.22" height="15.19" fill="#0a82ff" stroke="none" stroke-width="1"/>
<rect x="195.18" y="667.22" width="16.22" height="15.19" fill="#007dff" stroke="none" stroke-width="1"/>
<rect x="162.73" y="682.41" width="16.22" height="15.19" fill="#c7e2ff" stroke="none" stroke-width="1"/>
<rect x="178.96" y="682.41" width="16.22" height="15.19" fill="#b8dbff" stroke="none" stroke-width="1"/>
<rect x="195.18" y="682.41" width="16.22" height="15.19" fill="#c7e2ff" stroke="none" stroke-width="1"/>
<rect x="65.4" y="697.6" width="16.22" height="15.19" fill="#f0f7ff" stroke="none" stroke-width="1"/>
<rect x="81.62" y="697.6" width="16.22" height="15.19" fill="#007dff" stroke="none" stroke-width="1"/>
<rect x="97.84" y="697.6" width="16.22" height="15.19" fill="#ebf5ff" stroke="none" stroke-width="1"/>
<rect x="130.29" y="697.6" width="16.22" height="15.19" fill="#59aaff" stroke="none" stroke-width="1"/>
<rect x="162.73" y="697.6" width="16.22" height="15.19" fill="#d9ecff" stroke="none" stroke-width="1"/>
<rect x="178.96" y="697.6" width="16.22" height="15.19" fill="#d9ecff" stroke="none" stroke-width="1"/>
<rect x="195.18" y="697.6" width="16.22" height="15.19" fill="#d1e8ff" stroke="none" stroke-width="1"/>
<rect x="114.07" y="712.79" width="16.22" height="15.19" fill="#e6f2ff" stroke="none" stroke-width="1"/>
<rect x="130.29" y="712.79" width="16.22" height="15.19" fill="#d1e8ff" stroke="none" stroke-width="1"/>
<rect x="162.73" y="712.79" width="16.22" height="15.19" fill="#d9ecff" stroke="none" stroke-width="1"/>
<rect x="178.96" y="712.79" width="16.22" height="15.19" fill="#c7e2ff" stroke="none" stroke-width="1"/>
<rect x="195.18" y="712.79" width="16.22" height="15.19" fill="#cce5ff" stroke="none" stroke-width="1"/>
<rect x="65.4" y="727.98" width="16.22" height="15.19" fill="#f2f8ff" stroke="none" stroke-width="1"/>
<rect x="178.96" y="727.98" width="16.22" height="15.19" fill="#b8dbff" stroke="none" stroke-width="1"/>
<rect x="162.73" y="743.17" width="16.22" height="15.19" fill="#dbedff" stroke="none" stroke-width="1"/>
<rect x="178.96" y="743.17" width="16.22" height="15.19" fill="#e0efff" stroke="none" stroke-width="1"/>
<rect x="195.18" y="743.17" width="16.22" height="15.19" fill="#dbedff" stroke="none" stroke-width="1"/>
<rect x="130.29" y="758.36" width="16.22" height="15.19" fill="#0a82ff" stroke="none" stroke-width="1"/>
<rect x="146.51" y="758.36" width="16.22" height="15.19" fill="#007dff" stroke="none" stroke-width="1"/>
<rect x="162.73" y="758.36" width="16.22" height="15.19" fill="#f7fbff" stroke="none" stroke-width="1"/>
<rect x="178.96" y="758.36" width="16.22" height="15.19" fill="#0a82ff" stroke="none" stroke-width="1"/>
<rect x="146.51" y="773.55" width="16.22" height="15.19" fill="#0a82ff" stroke="none" stroke-width="1"/>
<rect x="162.73" y="773.55" width="16.22" height="15.19" fill="#007dff" stroke="none" stroke-width="1"/>
<rect x="178.96" y="773.55" width="16.22" height="15.19" fill="#ebf5ff" stroke="none" stroke-width="1"/>
<rect x="195.18" y="773.55" width="16.22" height="15.19" fill="#dbedff" stroke="none" stroke-width="1"/>
<rect x="65.4" y="788.74" width="16.22" height="15.19" fill="#dbedff" stroke="none" stroke-width="1"/>
<rect x="81.62" y="788.74" width="16.22" height="15.19" fill="#007dff" stroke="none" stroke-width="1"/>
<rect x="97.84" y="788.74" width="16.22" height="15.19" fill="#007dff" stroke="none" stroke-width="1"/>
<rect x="130.29" y="788.74" width="16.22" height="15.19" fill="#fafcff" stroke="none" stroke-width="1"/>
<rect x="146.51" y="788.74" width="16.22" height="15.19" fill="#cce5ff" stroke="none" stroke-width="1"/>
<rect x="162.73" y="788.74" width="16.22" height="15.19" fill="#007dff" stroke="none" stroke-width="1"/>
<rect x="178.96" y="788.74" width="16.22" height="15.19" fill="#cce5ff" stroke="none" stroke-width="1"/>
<rect x="195.18" y="788.74" width="16.22" height="15.19" fill="#d1e8ff" stroke="none" stroke-width="1"/>
<rect x="97.84" y="803.93" width="16.22" height="15.19" fill="#0a82ff" stroke="none" stroke-width="1"/>
<rect x="130.29" y="803.93" width="16.22" height="15.19" fill="#007dff" stroke="none" stroke-width="1"/>
<rect x="146.51" y="803.93" width="16.22" height="15.19" fill="#007dff" stroke="none" stroke-width="1"/>
<rect x="162.73" y="803.93" width="16.22" height="15.19" fill="#cce5ff" stroke="none" stroke-width="1"/>
<rect x="178.96" y="803.93" width="16.22" height="15.19" fill="#d6eaff" stroke="none" stroke-width="1"/>
<rect x="195.18" y="803.93" width="16.22" height="15.19" fill="#f0f7ff" stroke="none" stroke-width="1"/>
<rect x="65.4" y="819.12" width="16.22" height="15.19" fill="#d6eaff" stroke="none" stroke-width="1"/>
<rect x="81.62" y="819.12" width="16.22" height="15.19" fill="#007dff" stroke="none" stroke-width="1"/>
<rect x="97.84" y="819.12" width="16.22" height="15.19" fill="#edf6ff" stroke="none" stroke-width="1"/>
<rect x="130.29" y="819.12" width="16.22" height="15.19" fill="#007dff" stroke="none" stroke-width="1"/>
<rect x="146.51" y="819.12" width="16.22" height="15.19" fill="#b8dbff" stroke="none" stroke-width="1"/>
<rect x="162.73" y="819.12" width="16.22" height="15.19" fill="#9eceff" stroke="none" stroke-width="1"/>
<rect x="195.18" y="819.12" width="16.22" height="15.19" fill="#c2e0ff" stroke="none" stroke-width="1"/>
<rect x="65.4" y="834.31" width="16.22" height="15.19" fill="#0a82ff" stroke="none" stroke-width="1"/>
<rect x="130.29" y="834.31" width="16.22" height="15.19" fill="#007dff" stroke="none" stroke-width="1"/>
<rect x="146.51" y="834.31" width="16.22" height="15.19" fill="#badcff" stroke="none" stroke-width="1"/>
<rect x="195.18" y="834.31" width="16.22" height="15.19" fill="#bfdeff" stroke="none" stroke-width="1"/>
<path d="M65.4 545.7V849.5M81.62 545.7V849.5M97.84 545.7V849.5M114.07 545.7V849.5M130.29 545.7V849.5M146.51 545.7V849.5M162.73 545.7V849.5M178.96 545.7V849.5M195.18 545.7V849.5M211.4 545.7V849.5M65.4 545.7H211.4M65.4 560.89H211.4M65.4 576.08H211.4M65.4 591.27H211.4M65.4 606.46H211.4M65.4 621.65H211.4M65.4 636.84H211.4M65.4 652.03H211.4M65.4 667.22H211.4M65.4 682.41H211.4M65.4 697.6H211.4M65.4 712.79H211.4M65.4 727.98H211.4M65.4 743.17H211.4M65.4 758.36H211.4M65.4 773.55H211.4M65.4 788.74H211.4M65.4 803.93H211.4M65.4 819.12H211.4M65.4 834.31H211.4M65.4 849.5H211.4" fill="none" stroke="#383432" stroke-width="1.12"/>
<rect x="195.18" y="576.08" width="16.22" height="15.19" fill="none" stroke="#0c0c0c" stroke-width="1.15"/>
<rect x="81.62" y="591.27" width="16.22" height="15.19" fill="none" stroke="#0c0c0c" stroke-width="1.15"/>
<rect x="162.73" y="591.27" width="16.22" height="15.19" fill="none" stroke="#0c0c0c" stroke-width="1.15"/>
<rect x="114.07" y="667.22" width="16.22" height="15.19" fill="none" stroke="#0c0c0c" stroke-width="1.15"/>
<rect x="130.29" y="758.36" width="16.22" height="15.19" fill="none" stroke="#0c0c0c" stroke-width="1.15"/>
<rect x="178.96" y="758.36" width="16.22" height="15.19" fill="none" stroke="#0c0c0c" stroke-width="1.15"/>
<rect x="146.51" y="773.55" width="16.22" height="15.19" fill="none" stroke="#0c0c0c" stroke-width="1.15"/>
<rect x="97.84" y="803.93" width="16.22" height="15.19" fill="none" stroke="#0c0c0c" stroke-width="1.15"/>
<rect x="65.4" y="834.31" width="16.22" height="15.19" fill="none" stroke="#0c0c0c" stroke-width="1.15"/>
<line x1="58.4" y1="553.3" x2="65.4" y2="553.3" stroke="#1f1b1a" stroke-width="1.2"/>
<text x="56.4" y="557.9" font-size="12.7" text-anchor="end">A</text>
<line x1="58.4" y1="568.49" x2="65.4" y2="568.49" stroke="#1f1b1a" stroke-width="1.2"/>
<text x="56.4" y="573.09" font-size="12.7" text-anchor="end">I</text>
<line x1="58.4" y1="583.68" x2="65.4" y2="583.68" stroke="#1f1b1a" stroke-width="1.2"/>
<text x="56.4" y="588.28" font-size="12.7" text-anchor="end">L</text>
<line x1="58.4" y1="598.87" x2="65.4" y2="598.87" stroke="#1f1b1a" stroke-width="1.2"/>
<text x="56.4" y="603.47" font-size="12.7" text-anchor="end">M</text>
<line x1="58.4" y1="614.06" x2="65.4" y2="614.06" stroke="#1f1b1a" stroke-width="1.2"/>
<text x="56.4" y="618.66" font-size="12.7" text-anchor="end">F</text>
<line x1="58.4" y1="629.25" x2="65.4" y2="629.25" stroke="#1f1b1a" stroke-width="1.2"/>
<text x="56.4" y="633.85" font-size="12.7" text-anchor="end">V</text>
<line x1="58.4" y1="644.44" x2="65.4" y2="644.44" stroke="#1f1b1a" stroke-width="1.2"/>
<text x="56.4" y="649.04" font-size="12.7" text-anchor="end">P</text>
<line x1="58.4" y1="659.62" x2="65.4" y2="659.62" stroke="#1f1b1a" stroke-width="1.2"/>
<text x="56.4" y="664.23" font-size="12.7" text-anchor="end">G</text>
<line x1="58.4" y1="674.82" x2="65.4" y2="674.82" stroke="#1f1b1a" stroke-width="1.2"/>
<text x="56.4" y="679.42" font-size="12.7" text-anchor="end">W</text>
<line x1="58.4" y1="690" x2="65.4" y2="690" stroke="#1f1b1a" stroke-width="1.2"/>
<text x="56.4" y="694.61" font-size="12.7" text-anchor="end">R</text>
<line x1="58.4" y1="705.2" x2="65.4" y2="705.2" stroke="#1f1b1a" stroke-width="1.2"/>
<text x="56.4" y="709.8" font-size="12.7" text-anchor="end">H</text>
<line x1="58.4" y1="720.38" x2="65.4" y2="720.38" stroke="#1f1b1a" stroke-width="1.2"/>
<text x="56.4" y="724.99" font-size="12.7" text-anchor="end">K</text>
<line x1="58.4" y1="735.58" x2="65.4" y2="735.58" stroke="#1f1b1a" stroke-width="1.2"/>
<text x="56.4" y="740.18" font-size="12.7" text-anchor="end">D</text>
<line x1="58.4" y1="750.76" x2="65.4" y2="750.76" stroke="#1f1b1a" stroke-width="1.2"/>
<text x="56.4" y="755.37" font-size="12.7" text-anchor="end">E</text>
<line x1="58.4" y1="765.96" x2="65.4" y2="765.96" stroke="#1f1b1a" stroke-width="1.2"/>
<text x="56.4" y="770.56" font-size="12.7" text-anchor="end">N</text>
<line x1="58.4" y1="781.14" x2="65.4" y2="781.14" stroke="#1f1b1a" stroke-width="1.2"/>
<text x="56.4" y="785.75" font-size="12.7" text-anchor="end">Q</text>
<line x1="58.4" y1="796.34" x2="65.4" y2="796.34" stroke="#1f1b1a" stroke-width="1.2"/>
<text x="56.4" y="800.94" font-size="12.7" text-anchor="end">S</text>
<line x1="58.4" y1="811.52" x2="65.4" y2="811.52" stroke="#1f1b1a" stroke-width="1.2"/>
<text x="56.4" y="816.12" font-size="12.7" text-anchor="end">T</text>
<line x1="58.4" y1="826.72" x2="65.4" y2="826.72" stroke="#1f1b1a" stroke-width="1.2"/>
<text x="56.4" y="831.32" font-size="12.7" text-anchor="end">Y</text>
<line x1="58.4" y1="841.9" x2="65.4" y2="841.9" stroke="#1f1b1a" stroke-width="1.2"/>
<text x="56.4" y="846.5" font-size="12.7" text-anchor="end">C</text>
<line x1="73.51" y1="849.5" x2="73.51" y2="856" stroke="#1f1b1a" stroke-width="1.2"/>
<text x="73.51" y="870.8" font-size="12.7" text-anchor="middle">1</text>
<line x1="89.73" y1="849.5" x2="89.73" y2="856" stroke="#1f1b1a" stroke-width="1.2"/>
<text x="89.73" y="870.8" font-size="12.7" text-anchor="middle">2</text>
<line x1="105.96" y1="849.5" x2="105.96" y2="856" stroke="#1f1b1a" stroke-width="1.2"/>
<text x="105.96" y="870.8" font-size="12.7" text-anchor="middle">3</text>
<line x1="122.18" y1="849.5" x2="122.18" y2="856" stroke="#1f1b1a" stroke-width="1.2"/>
<text x="122.18" y="870.8" font-size="12.7" text-anchor="middle">4</text>
<line x1="138.4" y1="849.5" x2="138.4" y2="856" stroke="#1f1b1a" stroke-width="1.2"/>
<text x="138.4" y="870.8" font-size="12.7" text-anchor="middle">5</text>
<line x1="154.62" y1="849.5" x2="154.62" y2="856" stroke="#1f1b1a" stroke-width="1.2"/>
<text x="154.62" y="870.8" font-size="12.7" text-anchor="middle">6</text>
<line x1="170.84" y1="849.5" x2="170.84" y2="856" stroke="#1f1b1a" stroke-width="1.2"/>
<text x="170.84" y="870.8" font-size="12.7" text-anchor="middle">7</text>
<line x1="187.07" y1="849.5" x2="187.07" y2="856" stroke="#1f1b1a" stroke-width="1.2"/>
<text x="187.07" y="870.8" font-size="12.7" text-anchor="middle">8</text>
<line x1="203.29" y1="849.5" x2="203.29" y2="856" stroke="#1f1b1a" stroke-width="1.2"/>
<text x="203.29" y="870.8" font-size="12.7" text-anchor="middle">9</text>
<text x="138.4" y="529.8" font-size="16.8" text-anchor="middle">TAK1 WT</text>
<text x="138.4" y="890.6" font-size="12.7" text-anchor="middle">Peptide position</text>
<rect x="240.3" y="545.7" width="16.23" height="15.19" fill="#fafcff" stroke="none" stroke-width="1"/>
<rect x="256.53" y="545.7" width="16.23" height="15.19" fill="#fafcff" stroke="none" stroke-width="1"/>
<rect x="272.77" y="545.7" width="16.23" height="15.19" fill="#007dff" stroke="none" stroke-width="1"/>
<rect x="305.23" y="545.7" width="16.23" height="15.19" fill="#80beff" stroke="none" stroke-width="1"/>
<rect x="321.47" y="545.7" width="16.23" height="15.19" fill="#c7e2ff" stroke="none" stroke-width="1"/>
<rect x="337.7" y="545.7" width="16.23" height="15.19" fill="#007dff" stroke="none" stroke-width="1"/>
<rect x="240.3" y="560.89" width="16.23" height="15.19" fill="#f7fbff" stroke="none" stroke-width="1"/>
<rect x="272.77" y="560.89" width="16.23" height="15.19" fill="#fcfeff" stroke="none" stroke-width="1"/>
<rect x="305.23" y="560.89" width="16.23" height="15.19" fill="#007dff" stroke="none" stroke-width="1"/>
<rect x="321.47" y="560.89" width="16.23" height="15.19" fill="#c7e2ff" stroke="none" stroke-width="1"/>
<rect x="353.93" y="560.89" width="16.23" height="15.19" fill="#fafcff" stroke="none" stroke-width="1"/>
<rect x="370.17" y="560.89" width="16.23" height="15.19" fill="#409eff" stroke="none" stroke-width="1"/>
<rect x="240.3" y="576.08" width="16.23" height="15.19" fill="#f7fbff" stroke="none" stroke-width="1"/>
<rect x="256.53" y="576.08" width="16.23" height="15.19" fill="#cce5ff" stroke="none" stroke-width="1"/>
<rect x="272.77" y="576.08" width="16.23" height="15.19" fill="#f5faff" stroke="none" stroke-width="1"/>
<rect x="289" y="576.08" width="16.23" height="15.19" fill="#fafcff" stroke="none" stroke-width="1"/>
<rect x="305.23" y="576.08" width="16.23" height="15.19" fill="#007dff" stroke="none" stroke-width="1"/>
<rect x="321.47" y="576.08" width="16.23" height="15.19" fill="#007dff" stroke="none" stroke-width="1"/>
<rect x="337.7" y="576.08" width="16.23" height="15.19" fill="#4ca4ff" stroke="none" stroke-width="1"/>
<rect x="353.93" y="576.08" width="16.23" height="15.19" fill="#fafcff" stroke="none" stroke-width="1"/>
<rect x="370.17" y="576.08" width="16.23" height="15.19" fill="#0a82ff" stroke="none" stroke-width="1"/>
<rect x="240.3" y="591.27" width="16.23" height="15.19" fill="#fafcff" stroke="none" stroke-width="1"/>
<rect x="256.53" y="591.27" width="16.23" height="15.19" fill="#0a82ff" stroke="none" stroke-width="1"/>
<rect x="272.77" y="591.27" width="16.23" height="15.19" fill="#8cc4ff" stroke="none" stroke-width="1"/>
<rect x="289" y="591.27" width="16.23" height="15.19" fill="#fcfeff" stroke="none" stroke-width="1"/>
<rect x="305.23" y="591.27" width="16.23" height="15.19" fill="#007dff" stroke="none" stroke-width="1"/>
<rect x="321.47" y="591.27" width="16.23" height="15.19" fill="#007dff" stroke="none" stroke-width="1"/>
<rect x="337.7" y="591.27" width="16.23" height="15.19" fill="#0a82ff" stroke="none" stroke-width="1"/>
<rect x="353.93" y="591.27" width="16.23" height="15.19" fill="#fafcff" stroke="none" stroke-width="1"/>
<rect x="240.3" y="606.46" width="16.23" height="15.19" fill="#fafcff" stroke="none" stroke-width="1"/>
<rect x="256.53" y="606.46" width="16.23" height="15.19" fill="#007dff" stroke="none" stroke-width="1"/>
<rect x="272.77" y="606.46" width="16.23" height="15.19" fill="#80beff" stroke="none" stroke-width="1"/>
<rect x="289" y="606.46" width="16.23" height="15.19" fill="#f2f8ff" stroke="none" stroke-width="1"/>
<rect x="305.23" y="606.46" width="16.23" height="15.19" fill="#007dff" stroke="none" stroke-width="1"/>
<rect x="321.47" y="606.46" width="16.23" height="15.19" fill="#007dff" stroke="none" stroke-width="1"/>
<rect x="337.7" y="606.46" width="16.23" height="15.19" fill="#47a1ff" stroke="none" stroke-width="1"/>
<rect x="353.93" y="606.46" width="16.23" height="15.19" fill="#fafcff" stroke="none" stroke-width="1"/>
<rect x="370.17" y="606.46" width="16.23" height="15.19" fill="#007dff" stroke="none" stroke-width="1"/>
<rect x="240.3" y="621.65" width="16.23" height="15.19" fill="#8cc4ff" stroke="none" stroke-width="1"/>
<rect x="256.53" y="621.65" width="16.23" height="15.19" fill="#fafcff" stroke="none" stroke-width="1"/>
<rect x="305.23" y="621.65" width="16.23" height="15.19" fill="#007dff" stroke="none" stroke-width="1"/>
<rect x="321.47" y="621.65" width="16.23" height="15.19" fill="#007dff" stroke="none" stroke-width="1"/>
<rect x="337.7" y="621.65" width="16.23" height="15.19" fill="#d1e8ff" stroke="none" stroke-width="1"/>
<rect x="370.17" y="621.65" width="16.23" height="15.19" fill="#f5faff" stroke="none" stroke-width="1"/>
<rect x="272.77" y="636.84" width="16.23" height="15.19" fill="#007dff" stroke="none" stroke-width="1"/>
<rect x="289" y="636.84" width="16.23" height="15.19" fill="#fafcff" stroke="none" stroke-width="1"/>
<rect x="305.23" y="636.84" width="16.23" height="15.19" fill="#1a8aff" stroke="none" stroke-width="1"/>
<rect x="337.7" y="636.84" width="16.23" height="15.19" fill="#f7fbff" stroke="none" stroke-width="1"/>
<rect x="353.93" y="636.84" width="16.23" height="15.19" fill="#fafcff" stroke="none" stroke-width="1"/>
<rect x="370.17" y="636.84" width="16.23" height="15.19" fill="#fafcff" stroke="none" stroke-width="1"/>
<rect x="256.53" y="652.03" width="16.23" height="15.19" fill="#c7e2ff" stroke="none" stroke-width="1"/>
<rect x="272.77" y="652.03" width="16.23" height="15.19" fill="#d6eaff" stroke="none" stroke-width="1"/>
<rect x="321.47" y="652.03" width="16.23" height="15.19" fill="#f7fbff" stroke="none" stroke-width="1"/>
<rect x="337.7" y="652.03" width="16.23" height="15.19" fill="#ebf5ff" stroke="none" stroke-width="1"/>
<rect x="353.93" y="652.03" width="16.23" height="15.19" fill="#fafcff" stroke="none" stroke-width="1"/>
<rect x="370.17" y="652.03" width="16.23" height="15.19" fill="#f7fbff" stroke="none" stroke-width="1"/>
<rect x="240.3" y="667.22" width="16.23" height="15.19" fill="#fafcff" stroke="none" stroke-width="1"/>
<rect x="256.53" y="667.22" width="16.23" height="15.19" fill="#007dff" stroke="none" stroke-width="1"/>
<rect x="272.77" y="667.22" width="16.23" height="15.19" fill="#d9ecff" stroke="none" stroke-width="1"/>
<rect x="289" y="667.22" width="16.23" height="15.19" fill="#0a82ff" stroke="none" stroke-width="1"/>
<rect x="305.23" y="667.22" width="16.23" height="15.19" fill="#9eceff" stroke="none" stroke-width="1"/>
<rect x="337.7" y="667.22" width="16.23" height="15.19" fill="#f7fbff" stroke="none" stroke-width="1"/>
<rect x="370.17" y="667.22" width="16.23" height="15.19" fill="#007dff" stroke="none" stroke-width="1"/>
<rect x="240.3" y="682.41" width="16.23" height="15.19" fill="#edf6ff" stroke="none" stroke-width="1"/>
<rect x="272.77" y="682.41" width="16.23" height="15.19" fill="#fafcff" stroke="none" stroke-width="1"/>
<rect x="289" y="682.41" width="16.23" height="15.19" fill="#f2f8ff" stroke="none" stroke-width="1"/>
<rect x="305.23" y="682.41" width="16.23" height="15.19" fill="#e0efff" stroke="none" stroke-width="1"/>
<rect x="321.47" y="682.41" width="16.23" height="15.19" fill="#f7fbff" stroke="none" stroke-width="1"/>
<rect x="337.7" y="682.41" width="16.23" height="15.19" fill="#fafcff" stroke="none" stroke-width="1"/>
<rect x="353.93" y="682.41" width="16.23" height="15.19" fill="#fafcff" stroke="none" stroke-width="1"/>
<rect x="370.17" y="682.41" width="16.23" height="15.19" fill="#fcfeff" stroke="none" stroke-width="1"/>
<rect x="256.53" y="697.6" width="16.23" height="15.19" fill="#b8dbff" stroke="none" stroke-width="1"/>
<rect x="272.77" y="697.6" width="16.23" height="15.19" fill="#80beff" stroke="none" stroke-width="1"/>
<rect x="305.23" y="697.6" width="16.23" height="15.19" fill="#007dff" stroke="none" stroke-width="1"/>
<rect x="321.47" y="697.6" width="16.23" height="15.19" fill="#c7e2ff" stroke="none" stroke-width="1"/>
<rect x="337.7" y="697.6" width="16.23" height="15.19" fill="#fafcff" stroke="none" stroke-width="1"/>
<rect x="240.3" y="712.79" width="16.23" height="15.19" fill="#f0f7ff" stroke="none" stroke-width="1"/>
<rect x="272.77" y="712.79" width="16.23" height="15.19" fill="#f5faff" stroke="none" stroke-width="1"/>
<rect x="305.23" y="712.79" width="16.23" height="15.19" fill="#fcfeff" stroke="none" stroke-width="1"/>
<rect x="353.93" y="712.79" width="16.23" height="15.19" fill="#f2f8ff" stroke="none" stroke-width="1"/>
<rect x="370.17" y="712.79" width="16.23" height="15.19" fill="#fafcff" stroke="none" stroke-width="1"/>
<rect x="240.3" y="727.98" width="16.23" height="15.19" fill="#fafcff" stroke="none" stroke-width="1"/>
<rect x="305.23" y="727.98" width="16.23" height="15.19" fill="#fafcff" stroke="none" stroke-width="1"/>
<rect x="337.7" y="727.98" width="16.23" height="15.19" fill="#fcfeff" stroke="none" stroke-width="1"/>
<rect x="240.3" y="743.17" width="16.23" height="15.19" fill="#f7fbff" stroke="none" stroke-width="1"/>
<rect x="305.23" y="743.17" width="16.23" height="15.19" fill="#fafcff" stroke="none" stroke-width="1"/>
<rect x="337.7" y="743.17" width="16.23" height="15.19" fill="#fafcff" stroke="none" stroke-width="1"/>
<rect x="353.93" y="743.17" width="16.23" height="15.19" fill="#f7fbff" stroke="none" stroke-width="1"/>
<rect x="272.77" y="758.36" width="16.23" height="15.19" fill="#fafcff" stroke="none" stroke-width="1"/>
<rect x="289" y="758.36" width="16.23" height="15.19" fill="#fafcff" stroke="none" stroke-width="1"/>
<rect x="305.23" y="758.36" width="16.23" height="15.19" fill="#0a82ff" stroke="none" stroke-width="1"/>
<rect x="321.47" y="758.36" width="16.23" height="15.19" fill="#007dff" stroke="none" stroke-width="1"/>
<rect x="353.93" y="758.36" width="16.23" height="15.19" fill="#0a82ff" stroke="none" stroke-width="1"/>
<rect x="256.53" y="773.55" width="16.23" height="15.19" fill="#ebf5ff" stroke="none" stroke-width="1"/>
<rect x="272.77" y="773.55" width="16.23" height="15.19" fill="#f7fbff" stroke="none" stroke-width="1"/>
<rect x="289" y="773.55" width="16.23" height="15.19" fill="#fafcff" stroke="none" stroke-width="1"/>
<rect x="305.23" y="773.55" width="16.23" height="15.19" fill="#c7e2ff" stroke="none" stroke-width="1"/>
<rect x="321.47" y="773.55" width="16.23" height="15.19" fill="#0a82ff" stroke="none" stroke-width="1"/>
<rect x="337.7" y="773.55" width="16.23" height="15.19" fill="#1487ff" stroke="none" stroke-width="1"/>
<rect x="256.53" y="788.74" width="16.23" height="15.19" fill="#b8dbff" stroke="none" stroke-width="1"/>
<rect x="272.77" y="788.74" width="16.23" height="15.19" fill="#007dff" stroke="none" stroke-width="1"/>
<rect x="305.23" y="788.74" width="16.23" height="15.19" fill="#c7e2ff" stroke="none" stroke-width="1"/>
<rect x="321.47" y="788.74" width="16.23" height="15.19" fill="#b2d8ff" stroke="none" stroke-width="1"/>
<rect x="337.7" y="788.74" width="16.23" height="15.19" fill="#66b1ff" stroke="none" stroke-width="1"/>
<rect x="353.93" y="788.74" width="16.23" height="15.19" fill="#ebf5ff" stroke="none" stroke-width="1"/>
<rect x="240.3" y="803.93" width="16.23" height="15.19" fill="#fafcff" stroke="none" stroke-width="1"/>
<rect x="256.53" y="803.93" width="16.23" height="15.19" fill="#edf6ff" stroke="none" stroke-width="1"/>
<rect x="272.77" y="803.93" width="16.23" height="15.19" fill="#0a82ff" stroke="none" stroke-width="1"/>
<rect x="305.23" y="803.93" width="16.23" height="15.19" fill="#007dff" stroke="none" stroke-width="1"/>
<rect x="321.47" y="803.93" width="16.23" height="15.19" fill="#007dff" stroke="none" stroke-width="1"/>
<rect x="337.7" y="803.93" width="16.23" height="15.19" fill="#d1e8ff" stroke="none" stroke-width="1"/>
<rect x="353.93" y="803.93" width="16.23" height="15.19" fill="#fafcff" stroke="none" stroke-width="1"/>
<rect x="370.17" y="803.93" width="16.23" height="15.19" fill="#f7fbff" stroke="none" stroke-width="1"/>
<rect x="256.53" y="819.12" width="16.23" height="15.19" fill="#007dff" stroke="none" stroke-width="1"/>
<rect x="272.77" y="819.12" width="16.23" height="15.19" fill="#8cc4ff" stroke="none" stroke-width="1"/>
<rect x="289" y="819.12" width="16.23" height="15.19" fill="#fafcff" stroke="none" stroke-width="1"/>
<rect x="305.23" y="819.12" width="16.23" height="15.19" fill="#007dff" stroke="none" stroke-width="1"/>
<rect x="321.47" y="819.12" width="16.23" height="15.19" fill="#2690ff" stroke="none" stroke-width="1"/>
<rect x="337.7" y="819.12" width="16.23" height="15.19" fill="#007dff" stroke="none" stroke-width="1"/>
<rect x="370.17" y="819.12" width="16.23" height="15.19" fill="#f2f8ff" stroke="none" stroke-width="1"/>
<rect x="240.3" y="834.31" width="16.23" height="15.19" fill="#0a82ff" stroke="none" stroke-width="1"/>
<rect x="256.53" y="834.31" width="16.23" height="15.19" fill="#f7fbff" stroke="none" stroke-width="1"/>
<rect x="305.23" y="834.31" width="16.23" height="15.19" fill="#bfdeff" stroke="none" stroke-width="1"/>
<rect x="337.7" y="834.31" width="16.23" height="15.19" fill="#f7fbff" stroke="none" stroke-width="1"/>
<rect x="370.17" y="834.31" width="16.23" height="15.19" fill="#f7fbff" stroke="none" stroke-width="1"/>
<path d="M240.3 545.7V849.5M256.53 545.7V849.5M272.77 545.7V849.5M289 545.7V849.5M305.23 545.7V849.5M321.47 545.7V849.5M337.7 545.7V849.5M353.93 545.7V849.5M370.17 545.7V849.5M386.4 545.7V849.5M240.3 545.7H386.4M240.3 560.89H386.4M240.3 576.08H386.4M240.3 591.27H386.4M240.3 606.46H386.4M240.3 621.65H386.4M240.3 636.84H386.4M240.3 652.03H386.4M240.3 667.22H386.4M240.3 682.41H386.4M240.3 697.6H386.4M240.3 712.79H386.4M240.3 727.98H386.4M240.3 743.17H386.4M240.3 758.36H386.4M240.3 773.55H386.4M240.3 788.74H386.4M240.3 803.93H386.4M240.3 819.12H386.4M240.3 834.31H386.4M240.3 849.5H386.4" fill="none" stroke="#383432" stroke-width="1.12"/>
<rect x="370.17" y="576.08" width="16.23" height="15.19" fill="none" stroke="#0c0c0c" stroke-width="1.15"/>
<rect x="256.53" y="591.27" width="16.23" height="15.19" fill="none" stroke="#0c0c0c" stroke-width="1.15"/>
<rect x="337.7" y="591.27" width="16.23" height="15.19" fill="none" stroke="#0c0c0c" stroke-width="1.15"/>
<rect x="289" y="667.22" width="16.23" height="15.19" fill="none" stroke="#0c0c0c" stroke-width="1.15"/>
<rect x="305.23" y="758.36" width="16.23" height="15.19" fill="none" stroke="#0c0c0c" stroke-width="1.15"/>
<rect x="353.93" y="758.36" width="16.23" height="15.19" fill="none" stroke="#0c0c0c" stroke-width="1.15"/>
<rect x="321.47" y="773.55" width="16.23" height="15.19" fill="none" stroke="#0c0c0c" stroke-width="1.15"/>
<rect x="272.77" y="803.93" width="16.23" height="15.19" fill="none" stroke="#0c0c0c" stroke-width="1.15"/>
<rect x="240.3" y="834.31" width="16.23" height="15.19" fill="none" stroke="#0c0c0c" stroke-width="1.15"/>
<line x1="233.3" y1="553.3" x2="240.3" y2="553.3" stroke="#1f1b1a" stroke-width="1.2"/>
<text x="231.3" y="557.9" font-size="12.7" text-anchor="end">A</text>
<line x1="233.3" y1="568.49" x2="240.3" y2="568.49" stroke="#1f1b1a" stroke-width="1.2"/>
<text x="231.3" y="573.09" font-size="12.7" text-anchor="end">I</text>
<line x1="233.3" y1="583.68" x2="240.3" y2="583.68" stroke="#1f1b1a" stroke-width="1.2"/>
<text x="231.3" y="588.28" font-size="12.7" text-anchor="end">L</text>
<line x1="233.3" y1="598.87" x2="240.3" y2="598.87" stroke="#1f1b1a" stroke-width="1.2"/>
<text x="231.3" y="603.47" font-size="12.7" text-anchor="end">M</text>
<line x1="233.3" y1="614.06" x2="240.3" y2="614.06" stroke="#1f1b1a" stroke-width="1.2"/>
<text x="231.3" y="618.66" font-size="12.7" text-anchor="end">F</text>
<line x1="233.3" y1="629.25" x2="240.3" y2="629.25" stroke="#1f1b1a" stroke-width="1.2"/>
<text x="231.3" y="633.85" font-size="12.7" text-anchor="end">V</text>
<line x1="233.3" y1="644.44" x2="240.3" y2="644.44" stroke="#1f1b1a" stroke-width="1.2"/>
<text x="231.3" y="649.04" font-size="12.7" text-anchor="end">P</text>
<line x1="233.3" y1="659.62" x2="240.3" y2="659.62" stroke="#1f1b1a" stroke-width="1.2"/>
<text x="231.3" y="664.23" font-size="12.7" text-anchor="end">G</text>
<line x1="233.3" y1="674.82" x2="240.3" y2="674.82" stroke="#1f1b1a" stroke-width="1.2"/>
<text x="231.3" y="679.42" font-size="12.7" text-anchor="end">W</text>
<line x1="233.3" y1="690" x2="240.3" y2="690" stroke="#1f1b1a" stroke-width="1.2"/>
<text x="231.3" y="694.61" font-size="12.7" text-anchor="end">R</text>
<line x1="233.3" y1="705.2" x2="240.3" y2="705.2" stroke="#1f1b1a" stroke-width="1.2"/>
<text x="231.3" y="709.8" font-size="12.7" text-anchor="end">H</text>
<line x1="233.3" y1="720.38" x2="240.3" y2="720.38" stroke="#1f1b1a" stroke-width="1.2"/>
<text x="231.3" y="724.99" font-size="12.7" text-anchor="end">K</text>
<line x1="233.3" y1="735.58" x2="240.3" y2="735.58" stroke="#1f1b1a" stroke-width="1.2"/>
<text x="231.3" y="740.18" font-size="12.7" text-anchor="end">D</text>
<line x1="233.3" y1="750.76" x2="240.3" y2="750.76" stroke="#1f1b1a" stroke-width="1.2"/>
<text x="231.3" y="755.37" font-size="12.7" text-anchor="end">E</text>
<line x1="233.3" y1="765.96" x2="240.3" y2="765.96" stroke="#1f1b1a" stroke-width="1.2"/>
<text x="231.3" y="770.56" font-size="12.7" text-anchor="end">N</text>
<line x1="233.3" y1="781.14" x2="240.3" y2="781.14" stroke="#1f1b1a" stroke-width="1.2"/>
<text x="231.3" y="785.75" font-size="12.7" text-anchor="end">Q</text>
<line x1="233.3" y1="796.34" x2="240.3" y2="796.34" stroke="#1f1b1a" stroke-width="1.2"/>
<text x="231.3" y="800.94" font-size="12.7" text-anchor="end">S</text>
<line x1="233.3" y1="811.52" x2="240.3" y2="811.52" stroke="#1f1b1a" stroke-width="1.2"/>
<text x="231.3" y="816.12" font-size="12.7" text-anchor="end">T</text>
<line x1="233.3" y1="826.72" x2="240.3" y2="826.72" stroke="#1f1b1a" stroke-width="1.2"/>
<text x="231.3" y="831.32" font-size="12.7" text-anchor="end">Y</text>
<line x1="233.3" y1="841.9" x2="240.3" y2="841.9" stroke="#1f1b1a" stroke-width="1.2"/>
<text x="231.3" y="846.5" font-size="12.7" text-anchor="end">C</text>
<line x1="248.42" y1="849.5" x2="248.42" y2="856" stroke="#1f1b1a" stroke-width="1.2"/>
<text x="248.42" y="870.8" font-size="12.7" text-anchor="middle">1</text>
<line x1="264.65" y1="849.5" x2="264.65" y2="856" stroke="#1f1b1a" stroke-width="1.2"/>
<text x="264.65" y="870.8" font-size="12.7" text-anchor="middle">2</text>
<line x1="280.88" y1="849.5" x2="280.88" y2="856" stroke="#1f1b1a" stroke-width="1.2"/>
<text x="280.88" y="870.8" font-size="12.7" text-anchor="middle">3</text>
<line x1="297.12" y1="849.5" x2="297.12" y2="856" stroke="#1f1b1a" stroke-width="1.2"/>
<text x="297.12" y="870.8" font-size="12.7" text-anchor="middle">4</text>
<line x1="313.35" y1="849.5" x2="313.35" y2="856" stroke="#1f1b1a" stroke-width="1.2"/>
<text x="313.35" y="870.8" font-size="12.7" text-anchor="middle">5</text>
<line x1="329.58" y1="849.5" x2="329.58" y2="856" stroke="#1f1b1a" stroke-width="1.2"/>
<text x="329.58" y="870.8" font-size="12.7" text-anchor="middle">6</text>
<line x1="345.82" y1="849.5" x2="345.82" y2="856" stroke="#1f1b1a" stroke-width="1.2"/>
<text x="345.82" y="870.8" font-size="12.7" text-anchor="middle">7</text>
<line x1="362.05" y1="849.5" x2="362.05" y2="856" stroke="#1f1b1a" stroke-width="1.2"/>
<text x="362.05" y="870.8" font-size="12.7" text-anchor="middle">8</text>
<line x1="378.28" y1="849.5" x2="378.28" y2="856" stroke="#1f1b1a" stroke-width="1.2"/>
<text x="378.28" y="870.8" font-size="12.7" text-anchor="middle">9</text>
<text x="313.35" y="529.8" font-size="16.8" text-anchor="middle">TAK1-mut 8</text>
<text x="313.35" y="890.6" font-size="12.7" text-anchor="middle">Peptide position</text>
<rect x="432.84" y="545.7" width="16.24" height="15.19" fill="#f0f7ff" stroke="none" stroke-width="1"/>
<rect x="449.09" y="545.7" width="16.24" height="15.19" fill="#007dff" stroke="none" stroke-width="1"/>
<rect x="481.58" y="545.7" width="16.24" height="15.19" fill="#1f8dff" stroke="none" stroke-width="1"/>
<rect x="497.82" y="545.7" width="16.24" height="15.19" fill="#add5ff" stroke="none" stroke-width="1"/>
<rect x="514.07" y="545.7" width="16.24" height="15.19" fill="#007dff" stroke="none" stroke-width="1"/>
<rect x="416.6" y="560.89" width="16.24" height="15.19" fill="#e0efff" stroke="none" stroke-width="1"/>
<rect x="449.09" y="560.89" width="16.24" height="15.19" fill="#fafcff" stroke="none" stroke-width="1"/>
<rect x="481.58" y="560.89" width="16.24" height="15.19" fill="#007dff" stroke="none" stroke-width="1"/>
<rect x="497.82" y="560.89" width="16.24" height="15.19" fill="#a6d2ff" stroke="none" stroke-width="1"/>
<rect x="546.56" y="560.89" width="16.24" height="15.19" fill="#007dff" stroke="none" stroke-width="1"/>
<rect x="416.6" y="576.08" width="16.24" height="15.19" fill="#fafcff" stroke="none" stroke-width="1"/>
<rect x="432.84" y="576.08" width="16.24" height="15.19" fill="#99cbff" stroke="none" stroke-width="1"/>
<rect x="449.09" y="576.08" width="16.24" height="15.19" fill="#e0efff" stroke="none" stroke-width="1"/>
<rect x="481.58" y="576.08" width="16.24" height="15.19" fill="#007dff" stroke="none" stroke-width="1"/>
<rect x="497.82" y="576.08" width="16.24" height="15.19" fill="#007dff" stroke="none" stroke-width="1"/>
<rect x="514.07" y="576.08" width="16.24" height="15.19" fill="#2690ff" stroke="none" stroke-width="1"/>
<rect x="546.56" y="576.08" width="16.24" height="15.19" fill="#0a82ff" stroke="none" stroke-width="1"/>
<rect x="432.84" y="591.27" width="16.24" height="15.19" fill="#0a82ff" stroke="none" stroke-width="1"/>
<rect x="449.09" y="591.27" width="16.24" height="15.19" fill="#1f8dff" stroke="none" stroke-width="1"/>
<rect x="481.58" y="591.27" width="16.24" height="15.19" fill="#007dff" stroke="none" stroke-width="1"/>
<rect x="497.82" y="591.27" width="16.24" height="15.19" fill="#007dff" stroke="none" stroke-width="1"/>
<rect x="514.07" y="591.27" width="16.24" height="15.19" fill="#0a82ff" stroke="none" stroke-width="1"/>
<rect x="432.84" y="606.46" width="16.24" height="15.19" fill="#007dff" stroke="none" stroke-width="1"/>
<rect x="449.09" y="606.46" width="16.24" height="15.19" fill="#007dff" stroke="none" stroke-width="1"/>
<rect x="465.33" y="606.46" width="16.24" height="15.19" fill="#e6f2ff" stroke="none" stroke-width="1"/>
<rect x="481.58" y="606.46" width="16.24" height="15.19" fill="#007dff" stroke="none" stroke-width="1"/>
<rect x="497.82" y="606.46" width="16.24" height="15.19" fill="#007dff" stroke="none" stroke-width="1"/>
<rect x="514.07" y="606.46" width="16.24" height="15.19" fill="#1487ff" stroke="none" stroke-width="1"/>
<rect x="546.56" y="606.46" width="16.24" height="15.19" fill="#007dff" stroke="none" stroke-width="1"/>
<rect x="416.6" y="621.65" width="16.24" height="15.19" fill="#73b8ff" stroke="none" stroke-width="1"/>
<rect x="481.58" y="621.65" width="16.24" height="15.19" fill="#007dff" stroke="none" stroke-width="1"/>
<rect x="497.82" y="621.65" width="16.24" height="15.19" fill="#007dff" stroke="none" stroke-width="1"/>
<rect x="514.07" y="621.65" width="16.24" height="15.19" fill="#d6eaff" stroke="none" stroke-width="1"/>
<rect x="546.56" y="621.65" width="16.24" height="15.19" fill="#fafcff" stroke="none" stroke-width="1"/>
<rect x="449.09" y="636.84" width="16.24" height="15.19" fill="#007dff" stroke="none" stroke-width="1"/>
<rect x="481.58" y="636.84" width="16.24" height="15.19" fill="#007dff" stroke="none" stroke-width="1"/>
<rect x="514.07" y="636.84" width="16.24" height="15.19" fill="#f2f8ff" stroke="none" stroke-width="1"/>
<rect x="432.84" y="652.03" width="16.24" height="15.19" fill="#b2d8ff" stroke="none" stroke-width="1"/>
<rect x="449.09" y="652.03" width="16.24" height="15.19" fill="#cce5ff" stroke="none" stroke-width="1"/>
<rect x="481.58" y="652.03" width="16.24" height="15.19" fill="#e6f2ff" stroke="none" stroke-width="1"/>
<rect x="514.07" y="652.03" width="16.24" height="15.19" fill="#edf6ff" stroke="none" stroke-width="1"/>
<rect x="432.84" y="667.22" width="16.24" height="15.19" fill="#007dff" stroke="none" stroke-width="1"/>
<rect x="449.09" y="667.22" width="16.24" height="15.19" fill="#c7e2ff" stroke="none" stroke-width="1"/>
<rect x="465.33" y="667.22" width="16.24" height="15.19" fill="#0a82ff" stroke="none" stroke-width="1"/>
<rect x="481.58" y="667.22" width="16.24" height="15.19" fill="#8cc4ff" stroke="none" stroke-width="1"/>
<rect x="546.56" y="667.22" width="16.24" height="15.19" fill="#007dff" stroke="none" stroke-width="1"/>
<rect x="432.84" y="682.41" width="16.24" height="15.19" fill="#f2f8ff" stroke="none" stroke-width="1"/>
<rect x="449.09" y="682.41" width="16.24" height="15.19" fill="#fafcff" stroke="none" stroke-width="1"/>
<rect x="481.58" y="682.41" width="16.24" height="15.19" fill="#ebf5ff" stroke="none" stroke-width="1"/>
<rect x="432.84" y="697.6" width="16.24" height="15.19" fill="#73b8ff" stroke="none" stroke-width="1"/>
<rect x="449.09" y="697.6" width="16.24" height="15.19" fill="#007dff" stroke="none" stroke-width="1"/>
<rect x="481.58" y="697.6" width="16.24" height="15.19" fill="#007dff" stroke="none" stroke-width="1"/>
<rect x="497.82" y="697.6" width="16.24" height="15.19" fill="#a6d2ff" stroke="none" stroke-width="1"/>
<rect x="416.6" y="712.79" width="16.24" height="15.19" fill="#d6eaff" stroke="none" stroke-width="1"/>
<rect x="449.09" y="712.79" width="16.24" height="15.19" fill="#dbedff" stroke="none" stroke-width="1"/>
<rect x="481.58" y="712.79" width="16.24" height="15.19" fill="#fafcff" stroke="none" stroke-width="1"/>
<rect x="416.6" y="727.98" width="16.24" height="15.19" fill="#fcfeff" stroke="none" stroke-width="1"/>
<rect x="449.09" y="727.98" width="16.24" height="15.19" fill="#fafcff" stroke="none" stroke-width="1"/>
<rect x="481.58" y="727.98" width="16.24" height="15.19" fill="#fafcff" stroke="none" stroke-width="1"/>
<rect x="416.6" y="743.17" width="16.24" height="15.19" fill="#fcfeff" stroke="none" stroke-width="1"/>
<rect x="481.58" y="743.17" width="16.24" height="15.19" fill="#fafcff" stroke="none" stroke-width="1"/>
<rect x="432.84" y="758.36" width="16.24" height="15.19" fill="#fcfeff" stroke="none" stroke-width="1"/>
<rect x="449.09" y="758.36" width="16.24" height="15.19" fill="#b8dbff" stroke="none" stroke-width="1"/>
<rect x="481.58" y="758.36" width="16.24" height="15.19" fill="#0a82ff" stroke="none" stroke-width="1"/>
<rect x="497.82" y="758.36" width="16.24" height="15.19" fill="#007dff" stroke="none" stroke-width="1"/>
<rect x="514.07" y="758.36" width="16.24" height="15.19" fill="#fafcff" stroke="none" stroke-width="1"/>
<rect x="530.31" y="758.36" width="16.24" height="15.19" fill="#0a82ff" stroke="none" stroke-width="1"/>
<rect x="481.58" y="773.55" width="16.24" height="15.19" fill="#a6d2ff" stroke="none" stroke-width="1"/>
<rect x="497.82" y="773.55" width="16.24" height="15.19" fill="#0a82ff" stroke="none" stroke-width="1"/>
<rect x="514.07" y="773.55" width="16.24" height="15.19" fill="#2690ff" stroke="none" stroke-width="1"/>
<rect x="432.84" y="788.74" width="16.24" height="15.19" fill="#b2d8ff" stroke="none" stroke-width="1"/>
<rect x="449.09" y="788.74" width="16.24" height="15.19" fill="#007dff" stroke="none" stroke-width="1"/>
<rect x="481.58" y="788.74" width="16.24" height="15.19" fill="#d6eaff" stroke="none" stroke-width="1"/>
<rect x="497.82" y="788.74" width="16.24" height="15.19" fill="#a6d2ff" stroke="none" stroke-width="1"/>
<rect x="514.07" y="788.74" width="16.24" height="15.19" fill="#59aaff" stroke="none" stroke-width="1"/>
<rect x="530.31" y="788.74" width="16.24" height="15.19" fill="#e6f2ff" stroke="none" stroke-width="1"/>
<rect x="416.6" y="803.93" width="16.24" height="15.19" fill="#fcfeff" stroke="none" stroke-width="1"/>
<rect x="432.84" y="803.93" width="16.24" height="15.19" fill="#cce5ff" stroke="none" stroke-width="1"/>
<rect x="449.09" y="803.93" width="16.24" height="15.19" fill="#0a82ff" stroke="none" stroke-width="1"/>
<rect x="481.58" y="803.93" width="16.24" height="15.19" fill="#007dff" stroke="none" stroke-width="1"/>
<rect x="497.82" y="803.93" width="16.24" height="15.19" fill="#007dff" stroke="none" stroke-width="1"/>
<rect x="514.07" y="803.93" width="16.24" height="15.19" fill="#e0efff" stroke="none" stroke-width="1"/>
<rect x="416.6" y="819.12" width="16.24" height="15.19" fill="#fcfeff" stroke="none" stroke-width="1"/>
<rect x="432.84" y="819.12" width="16.24" height="15.19" fill="#007dff" stroke="none" stroke-width="1"/>
<rect x="449.09" y="819.12" width="16.24" height="15.19" fill="#59aaff" stroke="none" stroke-width="1"/>
<rect x="465.33" y="819.12" width="16.24" height="15.19" fill="#fcfeff" stroke="none" stroke-width="1"/>
<rect x="481.58" y="819.12" width="16.24" height="15.19" fill="#007dff" stroke="none" stroke-width="1"/>
<rect x="497.82" y="819.12" width="16.24" height="15.19" fill="#007dff" stroke="none" stroke-width="1"/>
<rect x="514.07" y="819.12" width="16.24" height="15.19" fill="#007dff" stroke="none" stroke-width="1"/>
<rect x="416.6" y="834.31" width="16.24" height="15.19" fill="#0a82ff" stroke="none" stroke-width="1"/>
<rect x="432.84" y="834.31" width="16.24" height="15.19" fill="#d9ecff" stroke="none" stroke-width="1"/>
<rect x="481.58" y="834.31" width="16.24" height="15.19" fill="#b2d8ff" stroke="none" stroke-width="1"/>
<path d="M416.6 545.7V849.5M432.84 545.7V849.5M449.09 545.7V849.5M465.33 545.7V849.5M481.58 545.7V849.5M497.82 545.7V849.5M514.07 545.7V849.5M530.31 545.7V849.5M546.56 545.7V849.5M562.8 545.7V849.5M416.6 545.7H562.8M416.6 560.89H562.8M416.6 576.08H562.8M416.6 591.27H562.8M416.6 606.46H562.8M416.6 621.65H562.8M416.6 636.84H562.8M416.6 652.03H562.8M416.6 667.22H562.8M416.6 682.41H562.8M416.6 697.6H562.8M416.6 712.79H562.8M416.6 727.98H562.8M416.6 743.17H562.8M416.6 758.36H562.8M416.6 773.55H562.8M416.6 788.74H562.8M416.6 803.93H562.8M416.6 819.12H562.8M416.6 834.31H562.8M416.6 849.5H562.8" fill="none" stroke="#383432" stroke-width="1.12"/>
<rect x="546.56" y="576.08" width="16.24" height="15.19" fill="none" stroke="#0c0c0c" stroke-width="1.15"/>
<rect x="432.84" y="591.27" width="16.24" height="15.19" fill="none" stroke="#0c0c0c" stroke-width="1.15"/>
<rect x="514.07" y="591.27" width="16.24" height="15.19" fill="none" stroke="#0c0c0c" stroke-width="1.15"/>
<rect x="465.33" y="667.22" width="16.24" height="15.19" fill="none" stroke="#0c0c0c" stroke-width="1.15"/>
<rect x="481.58" y="758.36" width="16.24" height="15.19" fill="none" stroke="#0c0c0c" stroke-width="1.15"/>
<rect x="530.31" y="758.36" width="16.24" height="15.19" fill="none" stroke="#0c0c0c" stroke-width="1.15"/>
<rect x="497.82" y="773.55" width="16.24" height="15.19" fill="none" stroke="#0c0c0c" stroke-width="1.15"/>
<rect x="449.09" y="803.93" width="16.24" height="15.19" fill="none" stroke="#0c0c0c" stroke-width="1.15"/>
<rect x="416.6" y="834.31" width="16.24" height="15.19" fill="none" stroke="#0c0c0c" stroke-width="1.15"/>
<line x1="409.6" y1="553.3" x2="416.6" y2="553.3" stroke="#1f1b1a" stroke-width="1.2"/>
<text x="407.6" y="557.9" font-size="12.7" text-anchor="end">A</text>
<line x1="409.6" y1="568.49" x2="416.6" y2="568.49" stroke="#1f1b1a" stroke-width="1.2"/>
<text x="407.6" y="573.09" font-size="12.7" text-anchor="end">I</text>
<line x1="409.6" y1="583.68" x2="416.6" y2="583.68" stroke="#1f1b1a" stroke-width="1.2"/>
<text x="407.6" y="588.28" font-size="12.7" text-anchor="end">L</text>
<line x1="409.6" y1="598.87" x2="416.6" y2="598.87" stroke="#1f1b1a" stroke-width="1.2"/>
<text x="407.6" y="603.47" font-size="12.7" text-anchor="end">M</text>
<line x1="409.6" y1="614.06" x2="416.6" y2="614.06" stroke="#1f1b1a" stroke-width="1.2"/>
<text x="407.6" y="618.66" font-size="12.7" text-anchor="end">F</text>
<line x1="409.6" y1="629.25" x2="416.6" y2="629.25" stroke="#1f1b1a" stroke-width="1.2"/>
<text x="407.6" y="633.85" font-size="12.7" text-anchor="end">V</text>
<line x1="409.6" y1="644.44" x2="416.6" y2="644.44" stroke="#1f1b1a" stroke-width="1.2"/>
<text x="407.6" y="649.04" font-size="12.7" text-anchor="end">P</text>
<line x1="409.6" y1="659.62" x2="416.6" y2="659.62" stroke="#1f1b1a" stroke-width="1.2"/>
<text x="407.6" y="664.23" font-size="12.7" text-anchor="end">G</text>
<line x1="409.6" y1="674.82" x2="416.6" y2="674.82" stroke="#1f1b1a" stroke-width="1.2"/>
<text x="407.6" y="679.42" font-size="12.7" text-anchor="end">W</text>
<line x1="409.6" y1="690" x2="416.6" y2="690" stroke="#1f1b1a" stroke-width="1.2"/>
<text x="407.6" y="694.61" font-size="12.7" text-anchor="end">R</text>
<line x1="409.6" y1="705.2" x2="416.6" y2="705.2" stroke="#1f1b1a" stroke-width="1.2"/>
<text x="407.6" y="709.8" font-size="12.7" text-anchor="end">H</text>
<line x1="409.6" y1="720.38" x2="416.6" y2="720.38" stroke="#1f1b1a" stroke-width="1.2"/>
<text x="407.6" y="724.99" font-size="12.7" text-anchor="end">K</text>
<line x1="409.6" y1="735.58" x2="416.6" y2="735.58" stroke="#1f1b1a" stroke-width="1.2"/>
<text x="407.6" y="740.18" font-size="12.7" text-anchor="end">D</text>
<line x1="409.6" y1="750.76" x2="416.6" y2="750.76" stroke="#1f1b1a" stroke-width="1.2"/>
<text x="407.6" y="755.37" font-size="12.7" text-anchor="end">E</text>
<line x1="409.6" y1="765.96" x2="416.6" y2="765.96" stroke="#1f1b1a" stroke-width="1.2"/>
<text x="407.6" y="770.56" font-size="12.7" text-anchor="end">N</text>
<line x1="409.6" y1="781.14" x2="416.6" y2="781.14" stroke="#1f1b1a" stroke-width="1.2"/>
<text x="407.6" y="785.75" font-size="12.7" text-anchor="end">Q</text>
<line x1="409.6" y1="796.34" x2="416.6" y2="796.34" stroke="#1f1b1a" stroke-width="1.2"/>
<text x="407.6" y="800.94" font-size="12.7" text-anchor="end">S</text>
<line x1="409.6" y1="811.52" x2="416.6" y2="811.52" stroke="#1f1b1a" stroke-width="1.2"/>
<text x="407.6" y="816.12" font-size="12.7" text-anchor="end">T</text>
<line x1="409.6" y1="826.72" x2="416.6" y2="826.72" stroke="#1f1b1a" stroke-width="1.2"/>
<text x="407.6" y="831.32" font-size="12.7" text-anchor="end">Y</text>
<line x1="409.6" y1="841.9" x2="416.6" y2="841.9" stroke="#1f1b1a" stroke-width="1.2"/>
<text x="407.6" y="846.5" font-size="12.7" text-anchor="end">C</text>
<line x1="424.72" y1="849.5" x2="424.72" y2="856" stroke="#1f1b1a" stroke-width="1.2"/>
<text x="424.72" y="870.8" font-size="12.7" text-anchor="middle">1</text>
<line x1="440.97" y1="849.5" x2="440.97" y2="856" stroke="#1f1b1a" stroke-width="1.2"/>
<text x="440.97" y="870.8" font-size="12.7" text-anchor="middle">2</text>
<line x1="457.21" y1="849.5" x2="457.21" y2="856" stroke="#1f1b1a" stroke-width="1.2"/>
<text x="457.21" y="870.8" font-size="12.7" text-anchor="middle">3</text>
<line x1="473.46" y1="849.5" x2="473.46" y2="856" stroke="#1f1b1a" stroke-width="1.2"/>
<text x="473.46" y="870.8" font-size="12.7" text-anchor="middle">4</text>
<line x1="489.7" y1="849.5" x2="489.7" y2="856" stroke="#1f1b1a" stroke-width="1.2"/>
<text x="489.7" y="870.8" font-size="12.7" text-anchor="middle">5</text>
<line x1="505.94" y1="849.5" x2="505.94" y2="856" stroke="#1f1b1a" stroke-width="1.2"/>
<text x="505.94" y="870.8" font-size="12.7" text-anchor="middle">6</text>
<line x1="522.19" y1="849.5" x2="522.19" y2="856" stroke="#1f1b1a" stroke-width="1.2"/>
<text x="522.19" y="870.8" font-size="12.7" text-anchor="middle">7</text>
<line x1="538.43" y1="849.5" x2="538.43" y2="856" stroke="#1f1b1a" stroke-width="1.2"/>
<text x="538.43" y="870.8" font-size="12.7" text-anchor="middle">8</text>
<line x1="554.68" y1="849.5" x2="554.68" y2="856" stroke="#1f1b1a" stroke-width="1.2"/>
<text x="554.68" y="870.8" font-size="12.7" text-anchor="middle">9</text>
<text x="489.7" y="529.8" font-size="16.8" text-anchor="middle">TAK1-mut 10</text>
<text x="489.7" y="890.6" font-size="12.7" text-anchor="middle">Peptide position</text>
<text x="30.8" y="702" font-size="12.7" text-anchor="middle" transform="rotate(-90 30.8 702)">Amino acids</text>
<defs><linearGradient id="cbar" x1="0" y1="1" x2="0" y2="0"><stop offset="0" stop-color="#ffffff"/><stop offset="1" stop-color="#007dff"/></linearGradient></defs>
<rect x="578.2" y="695.8" width="13.8" height="153.7" fill="url(#cbar)" stroke="none" stroke-width="1"/>
<rect x="578.2" y="695.8" width="13.8" height="153.7" fill="none" stroke="#3a3634" stroke-width="0.9"/>
<line x1="592" y1="695.8" x2="592" y2="849.5" stroke="#1f1b1a" stroke-width="1.2"/>
<line x1="592" y1="849.2" x2="596.5" y2="849.2" stroke="#1f1b1a" stroke-width="1.2"/>
<text x="601.2" y="853.7" font-size="12.7">0</text>
<line x1="592" y1="819.86" x2="596.5" y2="819.86" stroke="#1f1b1a" stroke-width="1.2"/>
<text x="601.2" y="824.36" font-size="12.7">20</text>
<line x1="592" y1="790.52" x2="596.5" y2="790.52" stroke="#1f1b1a" stroke-width="1.2"/>
<text x="601.2" y="795.02" font-size="12.7">40</text>
<line x1="592" y1="761.18" x2="596.5" y2="761.18" stroke="#1f1b1a" stroke-width="1.2"/>
<text x="601.2" y="765.68" font-size="12.7">60</text>
<line x1="592" y1="731.84" x2="596.5" y2="731.84" stroke="#1f1b1a" stroke-width="1.2"/>
<text x="601.2" y="736.34" font-size="12.7">80</text>
<line x1="592" y1="702.5" x2="596.5" y2="702.5" stroke="#1f1b1a" stroke-width="1.2"/>
<text x="601.2" y="707" font-size="12.7">100</text>
<text x="639.5" y="773" font-size="12.7" text-anchor="middle" transform="rotate(-90 639.5 773)">CD69<tspan font-size="7.5" dy="-4.2">high</tspan><tspan dy="4.2"> (% of WT peptide)</tspan></text>
</g>
<g>
<text x="652.9" y="595.4" font-size="19" font-weight="bold" fill="#1a1413">K</text>
<text x="1014.8" y="601" font-size="12.7" text-anchor="middle" font-weight="bold">WT1 antigen</text>
<text x="1014.8" y="616.2" font-size="12.7" text-anchor="middle" font-weight="bold">MFI</text>
<path d="M673.4 678.6L690 678.6L700.15 678.4L707.26 677.58L711.32 676.06L713.86 673.52L716.4 668.96L717.92 666.92L719.95 661.85L721.98 655.25L724.01 649.16L725.53 644.08L727.06 637.48L728.58 633.42L730.1 632.91L731.12 629.87L732.13 624.29L733.15 623.78L733.86 625.3L734.67 624.79L735.69 623.57L736.5 624.79L737.51 623.78L738.53 624.79L739.24 627.84L739.95 631.39L740.76 632.91L741.78 637.48L743.3 644.08L744.82 650.17L746.85 657.28L748.88 665.4L750.91 671.49L753.45 675.55L757.01 677.38L763.1 678.09L771.22 678.5L790 678.6L941 678.6Z" fill="#b39bd2" stroke="none"/>
<path d="M673.4 678.6L690 678.6L700.15 678.4L707.26 677.58L711.32 676.06L713.86 673.52L716.4 668.96L717.92 666.92L719.95 661.85L721.98 655.25L724.01 649.16L725.53 644.08L727.06 637.48L728.58 633.42L730.1 632.91L731.12 629.87L732.13 624.29L733.15 623.78L733.86 625.3L734.67 624.79L735.69 623.57L736.5 624.79L737.51 623.78L738.53 624.79L739.24 627.84L739.95 631.39L740.76 632.91L741.78 637.48L743.3 644.08L744.82 650.17L746.85 657.28L748.88 665.4L750.91 671.49L753.45 675.55L757.01 677.38L763.1 678.09L771.22 678.5L790 678.6L941 678.6" fill="none" stroke="#4a1f8d" stroke-width="1.8" stroke-linejoin="round"/>
<path d="M673.4 737.8L690 737.8L700.15 737.5L707.26 736.58L711.32 734.75L714.37 732.22L716.9 729.17L718.43 726.12L720.46 721.56L722.99 715.97L725.03 709.88L726.55 703.28L728.07 698.21L729.8 696.68L730.81 693.13L731.83 686.53L732.64 685.82L733.65 687.55L734.67 686.02L735.89 683.99L736.9 683.79L737.92 685.01L738.93 688.05L740.25 689.58L741.27 692.11L742.28 698.21L743.81 704.3L745.33 710.39L747.36 717.5L749.39 725.62L751.42 730.69L753.45 733.74L757.01 735.77L763.1 736.78L771.22 737.39L790 737.7L941 737.8Z" fill="#9ae7fd" stroke="none"/>
<path d="M673.4 737.8L690 737.8L700.15 737.5L707.26 736.58L711.32 734.75L714.37 732.22L716.9 729.17L718.43 726.12L720.46 721.56L722.99 715.97L725.03 709.88L726.55 703.28L728.07 698.21L729.8 696.68L730.81 693.13L731.83 686.53L732.64 685.82L733.65 687.55L734.67 686.02L735.89 683.99L736.9 683.79L737.92 685.01L738.93 688.05L740.25 689.58L741.27 692.11L742.28 698.21L743.81 704.3L745.33 710.39L747.36 717.5L749.39 725.62L751.42 730.69L753.45 733.74L757.01 735.77L763.1 736.78L771.22 737.39L790 737.7L941 737.8" fill="none" stroke="#1fc3f1" stroke-width="1.8" stroke-linejoin="round"/>
<path d="M673.4 796.7L690 796.7L708.5 796.5L717.8 795.6L725.2 793.4L732.6 790.2L739.1 786L745.6 783.6L753 779.8L759.4 773.9L763.5 770.7L765.9 769.3L769.6 767.1L771.6 761.2L772.8 759.9L774.3 759.7L776.3 756.7L779 755.5L782.6 754.3L785.4 751.7L787.2 748.1L788.6 751.2L790 753L793 753.5L796.5 752.9L798.5 753.7L800.2 755.4L803 760L805 761.5L807.6 763.7L810 764.7L812.2 766.5L817.8 772.1L822.4 777.6L826.1 783.6L831.7 787.3L838.1 791.5L842.8 792.4L847.4 792.4L853 794.8L860.4 796L871.5 796.5L890 796.7L941 796.7Z" fill="#9acbb0" stroke="none"/>
<path d="M673.4 796.7L690 796.7L708.5 796.5L717.8 795.6L725.2 793.4L732.6 790.2L739.1 786L745.6 783.6L753 779.8L759.4 773.9L763.5 770.7L765.9 769.3L769.6 767.1L771.6 761.2L772.8 759.9L774.3 759.7L776.3 756.7L779 755.5L782.6 754.3L785.4 751.7L787.2 748.1L788.6 751.2L790 753L793 753.5L796.5 752.9L798.5 753.7L800.2 755.4L803 760L805 761.5L807.6 763.7L810 764.7L812.2 766.5L817.8 772.1L822.4 777.6L826.1 783.6L831.7 787.3L838.1 791.5L842.8 792.4L847.4 792.4L853 794.8L860.4 796L871.5 796.5L890 796.7L941 796.7" fill="none" stroke="#1d8a4b" stroke-width="1.8" stroke-linejoin="round"/>
<line x1="674.5" y1="796.2" x2="674.5" y2="802.7" stroke="#1f1b1a" stroke-width="1.7"/>
<line x1="690.09" y1="796.7" x2="690.09" y2="800.1" stroke="#1f1b1a" stroke-width="1.2"/>
<line x1="699.21" y1="796.7" x2="699.21" y2="800.1" stroke="#1f1b1a" stroke-width="1.2"/>
<line x1="705.69" y1="796.7" x2="705.69" y2="799.5" stroke="#1f1b1a" stroke-width="1.2"/>
<line x1="710.71" y1="796.7" x2="710.71" y2="800.1" stroke="#1f1b1a" stroke-width="1.2"/>
<line x1="714.81" y1="796.7" x2="714.81" y2="799.5" stroke="#1f1b1a" stroke-width="1.2"/>
<line x1="718.28" y1="796.7" x2="718.28" y2="799.5" stroke="#1f1b1a" stroke-width="1.2"/>
<line x1="721.28" y1="796.7" x2="721.28" y2="799.5" stroke="#1f1b1a" stroke-width="1.2"/>
<line x1="723.93" y1="796.7" x2="723.93" y2="799.5" stroke="#1f1b1a" stroke-width="1.2"/>
<line x1="726.3" y1="796.2" x2="726.3" y2="802.7" stroke="#1f1b1a" stroke-width="1.7"/>
<line x1="741.89" y1="796.7" x2="741.89" y2="800.1" stroke="#1f1b1a" stroke-width="1.2"/>
<line x1="751.01" y1="796.7" x2="751.01" y2="800.1" stroke="#1f1b1a" stroke-width="1.2"/>
<line x1="757.49" y1="796.7" x2="757.49" y2="799.5" stroke="#1f1b1a" stroke-width="1.2"/>
<line x1="762.51" y1="796.7" x2="762.51" y2="800.1" stroke="#1f1b1a" stroke-width="1.2"/>
<line x1="766.61" y1="796.7" x2="766.61" y2="799.5" stroke="#1f1b1a" stroke-width="1.2"/>
<line x1="770.08" y1="796.7" x2="770.08" y2="799.5" stroke="#1f1b1a" stroke-width="1.2"/>
<line x1="773.08" y1="796.7" x2="773.08" y2="799.5" stroke="#1f1b1a" stroke-width="1.2"/>
<line x1="775.73" y1="796.7" x2="775.73" y2="799.5" stroke="#1f1b1a" stroke-width="1.2"/>
<line x1="778.1" y1="796.2" x2="778.1" y2="802.7" stroke="#1f1b1a" stroke-width="1.7"/>
<line x1="793.69" y1="796.7" x2="793.69" y2="800.1" stroke="#1f1b1a" stroke-width="1.2"/>
<line x1="802.81" y1="796.7" x2="802.81" y2="800.1" stroke="#1f1b1a" stroke-width="1.2"/>
<line x1="809.29" y1="796.7" x2="809.29" y2="799.5" stroke="#1f1b1a" stroke-width="1.2"/>
<line x1="814.31" y1="796.7" x2="814.31" y2="800.1" stroke="#1f1b1a" stroke-width="1.2"/>
<line x1="818.41" y1="796.7" x2="818.41" y2="799.5" stroke="#1f1b1a" stroke-width="1.2"/>
<line x1="821.88" y1="796.7" x2="821.88" y2="799.5" stroke="#1f1b1a" stroke-width="1.2"/>
<line x1="824.88" y1="796.7" x2="824.88" y2="799.5" stroke="#1f1b1a" stroke-width="1.2"/>
<line x1="827.53" y1="796.7" x2="827.53" y2="799.5" stroke="#1f1b1a" stroke-width="1.2"/>
<line x1="829.9" y1="796.2" x2="829.9" y2="802.7" stroke="#1f1b1a" stroke-width="1.7"/>
<line x1="845.49" y1="796.7" x2="845.49" y2="800.1" stroke="#1f1b1a" stroke-width="1.2"/>
<line x1="854.61" y1="796.7" x2="854.61" y2="800.1" stroke="#1f1b1a" stroke-width="1.2"/>
<line x1="861.09" y1="796.7" x2="861.09" y2="799.5" stroke="#1f1b1a" stroke-width="1.2"/>
<line x1="866.11" y1="796.7" x2="866.11" y2="800.1" stroke="#1f1b1a" stroke-width="1.2"/>
<line x1="870.21" y1="796.7" x2="870.21" y2="799.5" stroke="#1f1b1a" stroke-width="1.2"/>
<line x1="873.68" y1="796.7" x2="873.68" y2="799.5" stroke="#1f1b1a" stroke-width="1.2"/>
<line x1="876.68" y1="796.7" x2="876.68" y2="799.5" stroke="#1f1b1a" stroke-width="1.2"/>
<line x1="879.33" y1="796.7" x2="879.33" y2="799.5" stroke="#1f1b1a" stroke-width="1.2"/>
<line x1="881.7" y1="796.2" x2="881.7" y2="802.7" stroke="#1f1b1a" stroke-width="1.7"/>
<line x1="897.29" y1="796.7" x2="897.29" y2="800.1" stroke="#1f1b1a" stroke-width="1.2"/>
<line x1="906.41" y1="796.7" x2="906.41" y2="800.1" stroke="#1f1b1a" stroke-width="1.2"/>
<line x1="912.89" y1="796.7" x2="912.89" y2="799.5" stroke="#1f1b1a" stroke-width="1.2"/>
<line x1="917.91" y1="796.7" x2="917.91" y2="800.1" stroke="#1f1b1a" stroke-width="1.2"/>
<line x1="922.01" y1="796.7" x2="922.01" y2="799.5" stroke="#1f1b1a" stroke-width="1.2"/>
<line x1="925.48" y1="796.7" x2="925.48" y2="799.5" stroke="#1f1b1a" stroke-width="1.2"/>
<line x1="928.48" y1="796.7" x2="928.48" y2="799.5" stroke="#1f1b1a" stroke-width="1.2"/>
<line x1="931.13" y1="796.7" x2="931.13" y2="799.5" stroke="#1f1b1a" stroke-width="1.2"/>
<line x1="933.5" y1="796.2" x2="933.5" y2="802.7" stroke="#1f1b1a" stroke-width="1.7"/>
<text x="837.8" y="654.8" font-size="12.7">Blank</text>
<text x="837.8" y="715.2" font-size="12.7">Low-level-antigen cell line</text>
<text x="837.8" y="773.6" font-size="12.7">High-level-antigen cell line</text>
<text x="1014.8" y="654.8" font-size="12.7" text-anchor="middle">160</text>
<text x="1014.8" y="715.2" font-size="12.7" text-anchor="middle">178</text>
<text x="1014.8" y="773.6" font-size="12.7" text-anchor="middle">3046</text>
<text x="673.9" y="833" font-size="12.7">WT1 antigen</text>
<line x1="759.2" y1="828.6" x2="928" y2="828.6" stroke="#1f1b1a" stroke-width="1.2"/>
<path d="M 935.6 828.6 L 925.5 824.8 L 927.8 828.6 L 925.5 832.4 Z" fill="#1f1b1a"/>
</g>
<g>
<text x="11.6" y="935.6" font-size="19" font-weight="bold" fill="#1a1413">L</text>
<rect x="80.15" y="1094.63" width="13.5" height="16.07" fill="#b4dcff" stroke="#55abff" stroke-width="2"/>
<rect x="103.45" y="1061.37" width="13.5" height="49.33" fill="#b6cfc9" stroke="#3f8c86" stroke-width="2"/>
<rect x="126.75" y="1094.63" width="13.5" height="16.07" fill="#fde8b5" stroke="#f5a853" stroke-width="2"/>
<rect x="180.95" y="1065.77" width="13.5" height="44.93" fill="#b4dcff" stroke="#55abff" stroke-width="2"/>
<rect x="204.25" y="1047.93" width="13.5" height="62.77" fill="#b6cfc9" stroke="#3f8c86" stroke-width="2"/>
<rect x="227.85" y="966.76" width="13.5" height="143.94" fill="#fde8b5" stroke="#f5a853" stroke-width="2"/>
<line x1="57" y1="1110.7" x2="258.8" y2="1110.7" stroke="#1f1b1a" stroke-width="1.6"/>
<line x1="64.3" y1="944.75" x2="64.3" y2="1111.45" stroke="#1f1b1a" stroke-width="1.6"/>
<line x1="58.8" y1="1110.7" x2="64.3" y2="1110.7" stroke="#1f1b1a" stroke-width="1.5"/>
<text x="54.6" y="1115.27" font-size="12.7" text-anchor="end">0</text>
<line x1="58.8" y1="1055.63" x2="64.3" y2="1055.63" stroke="#1f1b1a" stroke-width="1.5"/>
<text x="54.6" y="1060.21" font-size="12.7" text-anchor="end">5</text>
<line x1="58.8" y1="1000.57" x2="64.3" y2="1000.57" stroke="#1f1b1a" stroke-width="1.5"/>
<text x="54.6" y="1005.14" font-size="12.7" text-anchor="end">10</text>
<line x1="58.8" y1="945.5" x2="64.3" y2="945.5" stroke="#1f1b1a" stroke-width="1.5"/>
<text x="54.6" y="950.07" font-size="12.7" text-anchor="end">15</text>
<line x1="110.2" y1="1110.7" x2="110.2" y2="1116.7" stroke="#1f1b1a" stroke-width="1.5"/>
<line x1="211" y1="1110.7" x2="211" y2="1116.7" stroke="#1f1b1a" stroke-width="1.5"/>
<circle cx="81.5" cy="1092.86" r="2.4" fill="#55abff" stroke="none" stroke-width="1"/>
<circle cx="92.3" cy="1093.08" r="2.4" fill="#55abff" stroke="none" stroke-width="1"/>
<circle cx="104.8" cy="1059.82" r="2.4" fill="#3f8c86" stroke="none" stroke-width="1"/>
<circle cx="115.6" cy="1059.82" r="2.4" fill="#3f8c86" stroke="none" stroke-width="1"/>
<circle cx="128.1" cy="1093.63" r="2.4" fill="#f5a853" stroke="none" stroke-width="1"/>
<circle cx="138.9" cy="1092.86" r="2.4" fill="#f5a853" stroke="none" stroke-width="1"/>
<circle cx="182.3" cy="1064.99" r="2.4" fill="#55abff" stroke="none" stroke-width="1"/>
<circle cx="193.1" cy="1063.34" r="2.4" fill="#55abff" stroke="none" stroke-width="1"/>
<circle cx="205.6" cy="1047.37" r="2.4" fill="#3f8c86" stroke="none" stroke-width="1"/>
<circle cx="216.4" cy="1045.72" r="2.4" fill="#3f8c86" stroke="none" stroke-width="1"/>
<circle cx="229.2" cy="965.87" r="2.4" fill="#f5a853" stroke="none" stroke-width="1"/>
<circle cx="240" cy="964.22" r="2.4" fill="#f5a853" stroke="none" stroke-width="1"/>
<text x="103.7" y="1131.6" font-size="12.7" text-anchor="middle">Low-level antigen</text>
<text x="103.7" y="1146.8" font-size="12.7" text-anchor="middle">(On-target toxicity)</text>
<text x="215.2" y="1131.6" font-size="12.7" text-anchor="middle">High-level antigen</text>
<text x="215.2" y="1146.8" font-size="12.7" text-anchor="middle">(On-tumor efficacy)</text>
<text x="38.5" y="1033" font-size="12.7" text-anchor="middle" transform="rotate(-90 38.5 1033)">CD69 MFI (×10<tspan font-size="7.5" dy="-4.2">3</tspan><tspan dy="4.2">)</tspan></text>
<line x1="88.9" y1="1032.4" x2="135.6" y2="1032.4" stroke="#1f1b1a" stroke-width="1.2"/>
<text x="112.25" y="1028.1" font-size="12.7" text-anchor="middle">n.s.</text>
<line x1="88.9" y1="1050" x2="111.5" y2="1050" stroke="#1f1b1a" stroke-width="1.2"/>
<text x="100.2" y="1050.2" font-size="11.5" text-anchor="middle">****</text>
<line x1="185.4" y1="1037.6" x2="208.7" y2="1037.6" stroke="#1f1b1a" stroke-width="1.2"/>
<text x="197.05" y="1037.8" font-size="11.5" text-anchor="middle">****</text>
<line x1="187.5" y1="956.7" x2="234.6" y2="956.7" stroke="#1f1b1a" stroke-width="1.2"/>
<text x="211.05" y="956.9" font-size="11.5" text-anchor="middle">****</text>
<circle cx="46.5" cy="1165.7" r="2.8" fill="#55abff" stroke="none" stroke-width="1"/>
<text x="55" y="1170.2" font-size="12.7">TAK1 (WT)</text>
<circle cx="46.5" cy="1185.6" r="2.8" fill="#3f8c86" stroke="none" stroke-width="1"/>
<text x="55" y="1190.1" font-size="12.7">T262 (high affinity matured)</text>
<circle cx="46.5" cy="1205.5" r="2.8" fill="#f5a853" stroke="none" stroke-width="1"/>
<text x="55" y="1210" font-size="12.7">TAK1-mut 10 (catch bond engineered)</text>
</g>
<g>
<text x="262" y="935.6" font-size="19" font-weight="bold" fill="#1a1413">M</text>
<rect x="368.5" y="1072.5" width="11.2" height="36.3" fill="#b6cfc9" stroke="#3f8c86" stroke-width="2"/>
<rect x="389.3" y="1106.09" width="11.2" height="2.71" fill="#e4b1a4" stroke="#d65f49" stroke-width="2"/>
<rect x="410.3" y="1102.39" width="11.2" height="6.41" fill="#fde8b5" stroke="#f5a853" stroke-width="2"/>
<rect x="466.6" y="1046.72" width="11.2" height="62.08" fill="#b4dcff" stroke="#55abff" stroke-width="2"/>
<rect x="487.6" y="1037.83" width="11.2" height="70.97" fill="#b6cfc9" stroke="#3f8c86" stroke-width="2"/>
<rect x="508.4" y="979.69" width="11.2" height="129.11" fill="#e4b1a4" stroke="#d65f49" stroke-width="2"/>
<rect x="529.4" y="1006.45" width="11.2" height="102.35" fill="#fde8b5" stroke="#f5a853" stroke-width="2"/>
<line x1="309.8" y1="1108.8" x2="549.2" y2="1108.8" stroke="#1f1b1a" stroke-width="1.6"/>
<line x1="317.8" y1="943.35" x2="317.8" y2="1109.55" stroke="#1f1b1a" stroke-width="1.6"/>
<line x1="312.3" y1="1108.8" x2="317.8" y2="1108.8" stroke="#1f1b1a" stroke-width="1.5"/>
<text x="310.8" y="1113.37" font-size="12.7" text-anchor="end">0</text>
<line x1="312.3" y1="1067.62" x2="317.8" y2="1067.62" stroke="#1f1b1a" stroke-width="1.5"/>
<text x="310.8" y="1072.2" font-size="12.7" text-anchor="end">5</text>
<line x1="312.3" y1="1026.45" x2="317.8" y2="1026.45" stroke="#1f1b1a" stroke-width="1.5"/>
<text x="310.8" y="1031.02" font-size="12.7" text-anchor="end">10</text>
<line x1="312.3" y1="985.27" x2="317.8" y2="985.27" stroke="#1f1b1a" stroke-width="1.5"/>
<text x="310.8" y="989.85" font-size="12.7" text-anchor="end">15</text>
<line x1="312.3" y1="944.1" x2="317.8" y2="944.1" stroke="#1f1b1a" stroke-width="1.5"/>
<text x="310.8" y="948.67" font-size="12.7" text-anchor="end">20</text>
<line x1="374.1" y1="1108.8" x2="374.1" y2="1114.8" stroke="#1f1b1a" stroke-width="1.5"/>
<line x1="493" y1="1108.8" x2="493" y2="1114.8" stroke="#1f1b1a" stroke-width="1.5"/>
<circle cx="327.5" cy="1106.74" r="2.4" fill="#4c4ca3" stroke="none" stroke-width="1"/>
<circle cx="332" cy="1105.09" r="2.4" fill="#4c4ca3" stroke="none" stroke-width="1"/>
<circle cx="336.5" cy="1106.33" r="2.4" fill="#4c4ca3" stroke="none" stroke-width="1"/>
<circle cx="348.5" cy="1107.56" r="2.4" fill="#55abff" stroke="none" stroke-width="1"/>
<circle cx="353" cy="1106.74" r="2.4" fill="#55abff" stroke="none" stroke-width="1"/>
<circle cx="357.5" cy="1107.56" r="2.4" fill="#55abff" stroke="none" stroke-width="1"/>
<line x1="374.1" y1="1076.02" x2="374.1" y2="1066.97" stroke="#3f8c86" stroke-width="1.1"/>
<line x1="370.6" y1="1066.97" x2="377.6" y2="1066.97" stroke="#3f8c86" stroke-width="1.1"/>
<line x1="370.6" y1="1076.02" x2="377.6" y2="1076.02" stroke="#3f8c86" stroke-width="1.1"/>
<circle cx="370.6" cy="1067.62" r="2.4" fill="#3f8c86" stroke="none" stroke-width="1"/>
<circle cx="378.1" cy="1070.51" r="2.4" fill="#3f8c86" stroke="none" stroke-width="1"/>
<circle cx="374.1" cy="1077.1" r="2.4" fill="#3f8c86" stroke="none" stroke-width="1"/>
<line x1="394.9" y1="1106.74" x2="394.9" y2="1103.45" stroke="#d65f49" stroke-width="1.1"/>
<line x1="391.4" y1="1103.45" x2="398.4" y2="1103.45" stroke="#d65f49" stroke-width="1.1"/>
<line x1="391.4" y1="1106.74" x2="398.4" y2="1106.74" stroke="#d65f49" stroke-width="1.1"/>
<circle cx="390.4" cy="1105.92" r="2.4" fill="#d65f49" stroke="none" stroke-width="1"/>
<circle cx="394.9" cy="1103.45" r="2.4" fill="#d65f49" stroke="none" stroke-width="1"/>
<circle cx="399.4" cy="1105.51" r="2.4" fill="#d65f49" stroke="none" stroke-width="1"/>
<line x1="415.9" y1="1105.51" x2="415.9" y2="1097.27" stroke="#f5a853" stroke-width="1.1"/>
<line x1="412.4" y1="1097.27" x2="419.4" y2="1097.27" stroke="#f5a853" stroke-width="1.1"/>
<line x1="412.4" y1="1105.51" x2="419.4" y2="1105.51" stroke="#f5a853" stroke-width="1.1"/>
<circle cx="412.4" cy="1096.86" r="2.4" fill="#f5a853" stroke="none" stroke-width="1"/>
<circle cx="419.9" cy="1101.8" r="2.4" fill="#f5a853" stroke="none" stroke-width="1"/>
<circle cx="415.9" cy="1105.09" r="2.4" fill="#f5a853" stroke="none" stroke-width="1"/>
<circle cx="446.6" cy="1108.39" r="2.4" fill="#4c4ca3" stroke="none" stroke-width="1"/>
<circle cx="451.1" cy="1106.33" r="2.4" fill="#4c4ca3" stroke="none" stroke-width="1"/>
<circle cx="455.6" cy="1105.92" r="2.4" fill="#4c4ca3" stroke="none" stroke-width="1"/>
<line x1="472.2" y1="1057.25" x2="472.2" y2="1034.19" stroke="#55abff" stroke-width="1.1"/>
<line x1="468.7" y1="1034.19" x2="475.7" y2="1034.19" stroke="#55abff" stroke-width="1.1"/>
<line x1="468.7" y1="1057.25" x2="475.7" y2="1057.25" stroke="#55abff" stroke-width="1.1"/>
<circle cx="472.2" cy="1033.86" r="2.4" fill="#55abff" stroke="none" stroke-width="1"/>
<circle cx="468.7" cy="1051.15" r="2.4" fill="#55abff" stroke="none" stroke-width="1"/>
<circle cx="475.7" cy="1051.15" r="2.4" fill="#55abff" stroke="none" stroke-width="1"/>
<line x1="493.2" y1="1042.59" x2="493.2" y2="1031.06" stroke="#3f8c86" stroke-width="1.1"/>
<line x1="489.7" y1="1031.06" x2="496.7" y2="1031.06" stroke="#3f8c86" stroke-width="1.1"/>
<line x1="489.7" y1="1042.59" x2="496.7" y2="1042.59" stroke="#3f8c86" stroke-width="1.1"/>
<circle cx="493.2" cy="1030.98" r="2.4" fill="#3f8c86" stroke="none" stroke-width="1"/>
<circle cx="497.2" cy="1036.33" r="2.4" fill="#3f8c86" stroke="none" stroke-width="1"/>
<circle cx="490.2" cy="1041.27" r="2.4" fill="#3f8c86" stroke="none" stroke-width="1"/>
<line x1="514" y1="989.39" x2="514" y2="967.98" stroke="#d65f49" stroke-width="1.1"/>
<line x1="510.5" y1="967.98" x2="517.5" y2="967.98" stroke="#d65f49" stroke-width="1.1"/>
<line x1="510.5" y1="989.39" x2="517.5" y2="989.39" stroke="#d65f49" stroke-width="1.1"/>
<circle cx="514" cy="968.81" r="2.4" fill="#d65f49" stroke="none" stroke-width="1"/>
<circle cx="514" cy="975.39" r="2.4" fill="#d65f49" stroke="none" stroke-width="1"/>
<circle cx="514" cy="988.57" r="2.4" fill="#d65f49" stroke="none" stroke-width="1"/>
<circle cx="530.5" cy="1005.86" r="2.4" fill="#f5a853" stroke="none" stroke-width="1"/>
<circle cx="535" cy="1004.63" r="2.4" fill="#f5a853" stroke="none" stroke-width="1"/>
<circle cx="539.5" cy="1005.04" r="2.4" fill="#f5a853" stroke="none" stroke-width="1"/>
<text x="373.5" y="1129.8" font-size="12.7" text-anchor="middle">Low-level antigen</text>
<text x="373.5" y="1145" font-size="12.7" text-anchor="middle">(On-target toxicity)</text>
<text x="492.9" y="1129.8" font-size="12.7" text-anchor="middle">High-level antigen</text>
<text x="492.9" y="1145" font-size="12.7" text-anchor="middle">(On-tumor efficacy)</text>
<text x="288" y="1023" font-size="12.7" text-anchor="middle" transform="rotate(-90 288 1023)">IFNγ (% of TCRβ+)</text>
<line x1="353.4" y1="1058.7" x2="374.1" y2="1058.7" stroke="#1f1b1a" stroke-width="1.2"/>
<text x="363.75" y="1058.9" font-size="11.5" text-anchor="middle">****</text>
<line x1="353.4" y1="1041.3" x2="394.9" y2="1041.3" stroke="#1f1b1a" stroke-width="1.2"/>
<text x="374.15" y="1037" font-size="12.7" text-anchor="middle">n.s.</text>
<line x1="353.4" y1="1024.1" x2="415.9" y2="1024.1" stroke="#1f1b1a" stroke-width="1.2"/>
<text x="384.65" y="1019.8" font-size="12.7" text-anchor="middle">n.s.</text>
<line x1="472.8" y1="1022.6" x2="492.9" y2="1022.6" stroke="#1f1b1a" stroke-width="1.2"/>
<text x="482.85" y="1018.3" font-size="12.7" text-anchor="middle">n.s.</text>
<line x1="472.8" y1="961" x2="514.3" y2="961" stroke="#1f1b1a" stroke-width="1.2"/>
<text x="493.55" y="961.2" font-size="11.5" text-anchor="middle">****</text>
<line x1="472.8" y1="946.4" x2="535" y2="946.4" stroke="#1f1b1a" stroke-width="1.2"/>
<text x="503.9" y="946.6" font-size="11.5" text-anchor="middle">****</text>
<circle cx="320.5" cy="1166.5" r="2.8" fill="#4c4ca3" stroke="none" stroke-width="1"/>
<text x="328.5" y="1171" font-size="12.7">Mock</text>
<circle cx="320.5" cy="1186.25" r="2.8" fill="#55abff" stroke="none" stroke-width="1"/>
<text x="328.5" y="1190.75" font-size="12.7">TAK1 (WT)</text>
<circle cx="320.5" cy="1206" r="2.8" fill="#3f8c86" stroke="none" stroke-width="1"/>
<text x="328.5" y="1210.5" font-size="12.7">T262 (high affinity matured)</text>
<circle cx="320.5" cy="1225.75" r="2.8" fill="#d65f49" stroke="none" stroke-width="1"/>
<text x="328.5" y="1230.25" font-size="12.7">TAK1-mut 8 (catch bond engineered)</text>
<circle cx="320.5" cy="1245.5" r="2.8" fill="#f5a853" stroke="none" stroke-width="1"/>
<text x="328.5" y="1250" font-size="12.7">TAK1-mut 10 (catch bond engineered)</text>
</g>
<g>
<text x="555.3" y="935.6" font-size="19" font-weight="bold" fill="#1a1413">N</text>
<rect x="620.6" y="1102.15" width="13.8" height="6.75" fill="#b4dcff" stroke="#55abff" stroke-width="2"/>
<rect x="645.3" y="1070.8" width="13.8" height="38.1" fill="#b6cfc9" stroke="#3f8c86" stroke-width="2"/>
<rect x="669.8" y="1103.25" width="13.8" height="5.65" fill="#e4b1a4" stroke="#d65f49" stroke-width="2"/>
<rect x="694.5" y="1100.98" width="13.8" height="7.92" fill="#fde8b5" stroke="#f5a853" stroke-width="2"/>
<rect x="719.2" y="1099.88" width="13.8" height="9.02" fill="#b4dcff" stroke="#55abff" stroke-width="2"/>
<rect x="743.9" y="1052.28" width="13.8" height="56.62" fill="#b6cfc9" stroke="#3f8c86" stroke-width="2"/>
<rect x="768.4" y="1015.23" width="13.8" height="93.67" fill="#e4b1a4" stroke="#d65f49" stroke-width="2"/>
<rect x="793.1" y="1027.58" width="13.8" height="81.32" fill="#fde8b5" stroke="#f5a853" stroke-width="2"/>
<line x1="604.7" y1="1108.9" x2="816.7" y2="1108.9" stroke="#1f1b1a" stroke-width="1.6"/>
<line x1="611.1" y1="970.95" x2="611.1" y2="1109.65" stroke="#1f1b1a" stroke-width="1.6"/>
<line x1="605.6" y1="1108.9" x2="611.1" y2="1108.9" stroke="#1f1b1a" stroke-width="1.5"/>
<text x="604.1" y="1113.47" font-size="12.7" text-anchor="end">0</text>
<line x1="605.6" y1="1074.6" x2="611.1" y2="1074.6" stroke="#1f1b1a" stroke-width="1.5"/>
<text x="604.1" y="1079.17" font-size="12.7" text-anchor="end">0.5</text>
<line x1="605.6" y1="1040.3" x2="611.1" y2="1040.3" stroke="#1f1b1a" stroke-width="1.5"/>
<text x="604.1" y="1044.87" font-size="12.7" text-anchor="end">1</text>
<line x1="605.6" y1="1006" x2="611.1" y2="1006" stroke="#1f1b1a" stroke-width="1.5"/>
<text x="604.1" y="1010.57" font-size="12.7" text-anchor="end">1.5</text>
<line x1="605.6" y1="971.7" x2="611.1" y2="971.7" stroke="#1f1b1a" stroke-width="1.5"/>
<text x="604.1" y="976.27" font-size="12.7" text-anchor="end">2</text>
<line x1="665.6" y1="1108.9" x2="665.6" y2="1114.9" stroke="#1f1b1a" stroke-width="1.5"/>
<line x1="762.5" y1="1108.9" x2="762.5" y2="1114.9" stroke="#1f1b1a" stroke-width="1.5"/>
<line x1="627.5" y1="1104.58" x2="627.5" y2="1097.72" stroke="#55abff" stroke-width="1.1"/>
<line x1="624" y1="1097.72" x2="631" y2="1097.72" stroke="#55abff" stroke-width="1.1"/>
<line x1="624" y1="1104.58" x2="631" y2="1104.58" stroke="#55abff" stroke-width="1.1"/>
<circle cx="627.5" cy="1097.24" r="2.4" fill="#55abff" stroke="none" stroke-width="1"/>
<circle cx="624" cy="1102.04" r="2.4" fill="#55abff" stroke="none" stroke-width="1"/>
<circle cx="631" cy="1102.04" r="2.4" fill="#55abff" stroke="none" stroke-width="1"/>
<line x1="652.2" y1="1083.52" x2="652.2" y2="1056.08" stroke="#3f8c86" stroke-width="1.1"/>
<line x1="648.7" y1="1056.08" x2="655.7" y2="1056.08" stroke="#3f8c86" stroke-width="1.1"/>
<line x1="648.7" y1="1083.52" x2="655.7" y2="1083.52" stroke="#3f8c86" stroke-width="1.1"/>
<circle cx="652.2" cy="1059.51" r="2.4" fill="#3f8c86" stroke="none" stroke-width="1"/>
<circle cx="652.2" cy="1064.31" r="2.4" fill="#3f8c86" stroke="none" stroke-width="1"/>
<circle cx="652.2" cy="1084.2" r="2.4" fill="#3f8c86" stroke="none" stroke-width="1"/>
<line x1="676.7" y1="1107.05" x2="676.7" y2="1097.44" stroke="#d65f49" stroke-width="1.1"/>
<line x1="673.2" y1="1097.44" x2="680.2" y2="1097.44" stroke="#d65f49" stroke-width="1.1"/>
<line x1="673.2" y1="1107.05" x2="680.2" y2="1107.05" stroke="#d65f49" stroke-width="1.1"/>
<circle cx="676.7" cy="1096.55" r="2.4" fill="#d65f49" stroke="none" stroke-width="1"/>
<circle cx="673.2" cy="1104.1" r="2.4" fill="#d65f49" stroke="none" stroke-width="1"/>
<circle cx="680.2" cy="1103.41" r="2.4" fill="#d65f49" stroke="none" stroke-width="1"/>
<line x1="701.4" y1="1105.47" x2="701.4" y2="1094.49" stroke="#f5a853" stroke-width="1.1"/>
<line x1="697.9" y1="1094.49" x2="704.9" y2="1094.49" stroke="#f5a853" stroke-width="1.1"/>
<line x1="697.9" y1="1105.47" x2="704.9" y2="1105.47" stroke="#f5a853" stroke-width="1.1"/>
<circle cx="701.4" cy="1093.81" r="2.4" fill="#f5a853" stroke="none" stroke-width="1"/>
<circle cx="697.9" cy="1102.04" r="2.4" fill="#f5a853" stroke="none" stroke-width="1"/>
<circle cx="704.9" cy="1102.04" r="2.4" fill="#f5a853" stroke="none" stroke-width="1"/>
<line x1="726.1" y1="1104.37" x2="726.1" y2="1093.4" stroke="#55abff" stroke-width="1.1"/>
<line x1="722.6" y1="1093.4" x2="729.6" y2="1093.4" stroke="#55abff" stroke-width="1.1"/>
<line x1="722.6" y1="1104.37" x2="729.6" y2="1104.37" stroke="#55abff" stroke-width="1.1"/>
<circle cx="726.1" cy="1092.44" r="2.4" fill="#55abff" stroke="none" stroke-width="1"/>
<circle cx="723.1" cy="1103.41" r="2.4" fill="#55abff" stroke="none" stroke-width="1"/>
<circle cx="729.6" cy="1099.3" r="2.4" fill="#55abff" stroke="none" stroke-width="1"/>
<line x1="750.8" y1="1074.26" x2="750.8" y2="1028.3" stroke="#3f8c86" stroke-width="1.1"/>
<line x1="747.3" y1="1028.3" x2="754.3" y2="1028.3" stroke="#3f8c86" stroke-width="1.1"/>
<line x1="747.3" y1="1074.26" x2="754.3" y2="1074.26" stroke="#3f8c86" stroke-width="1.1"/>
<circle cx="750.8" cy="1027.27" r="2.4" fill="#3f8c86" stroke="none" stroke-width="1"/>
<circle cx="750.8" cy="1049.22" r="2.4" fill="#3f8c86" stroke="none" stroke-width="1"/>
<circle cx="750.8" cy="1073.23" r="2.4" fill="#3f8c86" stroke="none" stroke-width="1"/>
<line x1="775.3" y1="1030.01" x2="775.3" y2="998.45" stroke="#d65f49" stroke-width="1.1"/>
<line x1="771.8" y1="998.45" x2="778.8" y2="998.45" stroke="#d65f49" stroke-width="1.1"/>
<line x1="771.8" y1="1030.01" x2="778.8" y2="1030.01" stroke="#d65f49" stroke-width="1.1"/>
<circle cx="775.3" cy="996.4" r="2.4" fill="#d65f49" stroke="none" stroke-width="1"/>
<circle cx="775.3" cy="1016.98" r="2.4" fill="#d65f49" stroke="none" stroke-width="1"/>
<circle cx="775.3" cy="1027.95" r="2.4" fill="#d65f49" stroke="none" stroke-width="1"/>
<line x1="800" y1="1033.44" x2="800" y2="1019.72" stroke="#f5a853" stroke-width="1.1"/>
<line x1="796.5" y1="1019.72" x2="803.5" y2="1019.72" stroke="#f5a853" stroke-width="1.1"/>
<line x1="796.5" y1="1033.44" x2="803.5" y2="1033.44" stroke="#f5a853" stroke-width="1.1"/>
<circle cx="800" cy="1018.35" r="2.4" fill="#f5a853" stroke="none" stroke-width="1"/>
<circle cx="800" cy="1026.58" r="2.4" fill="#f5a853" stroke="none" stroke-width="1"/>
<circle cx="800" cy="1032.75" r="2.4" fill="#f5a853" stroke="none" stroke-width="1"/>
<text x="654.7" y="1128.8" font-size="12.7" text-anchor="middle">Low-level antigen</text>
<text x="654.7" y="1144" font-size="12.7" text-anchor="middle">(On-target toxicity)</text>
<text x="773.6" y="1128.8" font-size="12.7" text-anchor="middle">High-level antigen</text>
<text x="773.6" y="1144" font-size="12.7" text-anchor="middle">(On-tumor efficacy)</text>
<text x="581.2" y="1037.8" font-size="12.7" text-anchor="middle" transform="rotate(-90 581.2 1037.8)">Phosphorylation level of ERK</text>
<line x1="628.3" y1="1042.2" x2="652" y2="1042.2" stroke="#1f1b1a" stroke-width="1.2"/>
<text x="640.15" y="1042.4" font-size="11.5" text-anchor="middle">**</text>
<line x1="628.3" y1="1024.7" x2="675.6" y2="1024.7" stroke="#1f1b1a" stroke-width="1.2"/>
<text x="651.95" y="1020.4" font-size="12.7" text-anchor="middle">n.s.</text>
<line x1="628.3" y1="1007.5" x2="699.7" y2="1007.5" stroke="#1f1b1a" stroke-width="1.2"/>
<text x="664" y="1003.2" font-size="12.7" text-anchor="middle">n.s.</text>
<line x1="726.4" y1="1006.1" x2="750.6" y2="1006.1" stroke="#1f1b1a" stroke-width="1.2"/>
<text x="738.5" y="1006.3" font-size="11.5" text-anchor="middle">**</text>
<line x1="726.4" y1="988.9" x2="774.2" y2="988.9" stroke="#1f1b1a" stroke-width="1.2"/>
<text x="750.3" y="989.1" font-size="11.5" text-anchor="middle">***</text>
<line x1="726.4" y1="971.1" x2="798.3" y2="971.1" stroke="#1f1b1a" stroke-width="1.2"/>
<text x="762.35" y="971.3" font-size="11.5" text-anchor="middle">***</text>
<circle cx="604" cy="1166" r="2.8" fill="#55abff" stroke="none" stroke-width="1"/>
<text x="612.5" y="1170.5" font-size="12.7">TAK1 (WT)</text>
<circle cx="604" cy="1185.85" r="2.8" fill="#3f8c86" stroke="none" stroke-width="1"/>
<text x="612.5" y="1190.35" font-size="12.7">T262 (high affinity matured)</text>
<circle cx="604" cy="1205.7" r="2.8" fill="#d65f49" stroke="none" stroke-width="1"/>
<text x="612.5" y="1210.2" font-size="12.7">TAK1-mut 8 (catch bond engineered)</text>
<circle cx="604" cy="1225.55" r="2.8" fill="#f5a853" stroke="none" stroke-width="1"/>
<text x="612.5" y="1230.05" font-size="12.7">TAK1-mut 10 (catch bond engineered)</text>
</g>
<g>
<text x="894.4" y="941.2" font-size="12.7" text-anchor="middle">Low-level antigen</text>
<text x="894.4" y="956.7" font-size="12.7" text-anchor="middle">(On-target toxicity)</text>
<text x="1001.8" y="941.2" font-size="12.7" text-anchor="middle">High-level antigen</text>
<text x="1001.8" y="956.7" font-size="12.7" text-anchor="middle">(On-tumor efficacy)</text>
<text x="1044.6" y="972" font-size="12.7" text-anchor="middle">(kDa)</text>
<line x1="902.2" y1="964.4" x2="946.2" y2="964.4" stroke="#1f1b1a" stroke-width="1.1"/>
<line x1="949.2" y1="964.4" x2="992.5" y2="964.4" stroke="#1f1b1a" stroke-width="1.1"/>
<defs><filter id="bl" x="-30%" y="-80%" width="160%" height="260%"><feGaussianBlur stdDeviation="0.8"/></filter><filter id="bl2" x="-30%" y="-80%" width="160%" height="260%"><feGaussianBlur stdDeviation="0.55"/></filter><filter id="bl3" x="-30%" y="-80%" width="160%" height="260%"><feGaussianBlur stdDeviation="1.1"/></filter><linearGradient id="mg1" x1="0" y1="0" x2="0.15" y2="1"><stop offset="0" stop-color="#484848"/><stop offset="0.45" stop-color="#535353"/><stop offset="1" stop-color="#585858"/></linearGradient><linearGradient id="mg2" x1="0" y1="0" x2="0.1" y2="1"><stop offset="0" stop-color="#5c5c5c"/><stop offset="0.5" stop-color="#666666"/><stop offset="1" stop-color="#6d6d6d"/></linearGradient></defs>
<rect x="884" y="969" width="142.2" height="116.8" fill="#000" stroke="none" stroke-width="1"/>
<path d="M 893.9 978.2 L 1018.9 973.1 L 1021.7 1077.5 L 889 1081 L 886.9 985.8 Z" fill="url(#mg1)"/>
<rect x="892.9" y="981.3" width="6.2" height="2.2" fill="#808080" filter="url(#bl)" transform="rotate(-4 896 982.4)"/>
<rect x="892.9" y="986.8" width="6.2" height="2.2" fill="#808080" filter="url(#bl)" transform="rotate(-4 896 987.9)"/>
<rect x="892.9" y="997.7" width="6.2" height="2.2" fill="#929292" filter="url(#bl)" transform="rotate(-4 896 998.8)"/>
<rect x="892.9" y="1007.2" width="6.2" height="2.2" fill="#929292" filter="url(#bl)" transform="rotate(-4 896 1008.3)"/>
<rect x="892.9" y="1018.3" width="6.2" height="2.2" fill="#808080" filter="url(#bl)" transform="rotate(-4 896 1019.4)"/>
<rect x="892.9" y="1031" width="6.2" height="2.2" fill="#808080" filter="url(#bl)" transform="rotate(-4 896 1032.1)"/>
<rect x="892.9" y="1043.1" width="6.2" height="2.2" fill="#808080" filter="url(#bl)" transform="rotate(-4 896 1044.2)"/>
<rect x="892.9" y="1051.7" width="6.2" height="2.2" fill="#808080" filter="url(#bl)" transform="rotate(-4 896 1052.8)"/>
<rect x="891.75" y="1065" width="8.5" height="2.2" fill="#929292" filter="url(#bl)" transform="rotate(-4 896 1066.1)"/>
<rect x="891.75" y="1070.6" width="8.5" height="2.2" fill="#808080" filter="url(#bl)" transform="rotate(-4 896 1071.7)"/>
<rect x="995.6" y="977.8" width="6.2" height="2.2" fill="#808080" filter="url(#bl)" transform="rotate(-4 998.7 978.9)"/>
<rect x="995.6" y="983.3" width="6.2" height="2.2" fill="#808080" filter="url(#bl)" transform="rotate(-4 998.7 984.4)"/>
<rect x="995.6" y="994.2" width="6.2" height="2.2" fill="#929292" filter="url(#bl)" transform="rotate(-4 998.7 995.3)"/>
<rect x="995.6" y="1003.9" width="6.2" height="2.2" fill="#929292" filter="url(#bl)" transform="rotate(-4 998.7 1005)"/>
<rect x="995.6" y="1014.6" width="6.2" height="2.2" fill="#808080" filter="url(#bl)" transform="rotate(-4 998.7 1015.7)"/>
<rect x="995.6" y="1026.7" width="6.2" height="2.2" fill="#808080" filter="url(#bl)" transform="rotate(-4 998.7 1027.8)"/>
<rect x="995.6" y="1038.9" width="6.2" height="2.2" fill="#808080" filter="url(#bl)" transform="rotate(-4 998.7 1040)"/>
<rect x="995.6" y="1046.9" width="6.2" height="2.2" fill="#808080" filter="url(#bl)" transform="rotate(-4 998.7 1048)"/>
<rect x="994.45" y="1060.2" width="8.5" height="2.2" fill="#929292" filter="url(#bl)" transform="rotate(-4 998.7 1061.3)"/>
<rect x="994.45" y="1065.7" width="8.5" height="2.2" fill="#808080" filter="url(#bl)" transform="rotate(-4 998.7 1066.8)"/>
<rect x="902.4" y="1027.7" width="8" height="3.8" fill="#656565" filter="url(#bl)"/>
<rect x="902.9" y="1029.3" width="7" height="0.9" fill="#505050" filter="url(#bl2)"/>
<rect x="914.2" y="1026.7" width="8.8" height="5" fill="#727272" filter="url(#bl)"/>
<rect x="914.7" y="1028.5" width="7.8" height="2.2" fill="#383838" filter="url(#bl2)"/>
<rect x="926.3" y="1027.3" width="7.5" height="3" fill="#5d5d5d" filter="url(#bl)"/>
<rect x="938.1" y="1026.5" width="8" height="3.8" fill="#656565" filter="url(#bl)"/>
<rect x="938.6" y="1028.1" width="7" height="0.9" fill="#505050" filter="url(#bl2)"/>
<rect x="950.3" y="1026.1" width="8" height="3.8" fill="#656565" filter="url(#bl)"/>
<rect x="950.8" y="1027.7" width="7" height="0.9" fill="#505050" filter="url(#bl2)"/>
<rect x="961.3" y="1024.4" width="9" height="5.6" fill="#767676" filter="url(#bl)"/>
<rect x="961.8" y="1025.5" width="8" height="1.5" fill="#303030" filter="url(#bl2)"/>
<rect x="961.8" y="1027.7" width="8" height="1.8" fill="#262626" filter="url(#bl2)"/>
<rect x="972.6" y="1023" width="10.6" height="7" fill="#707070" filter="url(#bl3)" transform="rotate(-5 977.9 1027.2)"/>
<rect x="973.4" y="1024.8" width="9" height="4.4" fill="#000" filter="url(#bl2)" transform="rotate(-5 977.9 1027.2)"/>
<rect x="984.4" y="1022.6" width="10.6" height="7" fill="#707070" filter="url(#bl3)" transform="rotate(-5 989.7 1026.8)"/>
<rect x="985.2" y="1024.4" width="9" height="4.4" fill="#000" filter="url(#bl2)" transform="rotate(-5 989.7 1026.8)"/>
<circle cx="1013" cy="1007" r="1.9" fill="#c8c8c8" stroke="none" stroke-width="1" filter="url(#bl)"/>
<circle cx="1018.2" cy="1073.3" r="0.9" fill="#0a0a0a" stroke="none" stroke-width="1"/>
<text x="838.1" y="1034.5" font-size="12.7">pERK</text>
<line x1="1032.9" y1="1002" x2="1042.6" y2="1002" stroke="#1f1b1a" stroke-width="1.35"/>
<path d="M 1030.9 1002 L 1034.5 1000.1 L 1033.7 1002 L 1034.5 1003.9 Z" fill="#1f1b1a"/>
<text x="1044.7" y="1005.8" font-size="10.5">70</text>
<line x1="1032.9" y1="1013.6" x2="1042.6" y2="1013.6" stroke="#1f1b1a" stroke-width="1.35"/>
<path d="M 1030.9 1013.6 L 1034.5 1011.7 L 1033.7 1013.6 L 1034.5 1015.5 Z" fill="#1f1b1a"/>
<text x="1044.7" y="1017.4" font-size="10.5">55</text>
<line x1="1032.9" y1="1025.1" x2="1042.6" y2="1025.1" stroke="#1f1b1a" stroke-width="1.35"/>
<path d="M 1030.9 1025.1 L 1034.5 1023.2 L 1033.7 1025.1 L 1034.5 1027 Z" fill="#1f1b1a"/>
<text x="1044.7" y="1028.9" font-size="10.5">40</text>
<line x1="1032.9" y1="1035.1" x2="1042.6" y2="1035.1" stroke="#1f1b1a" stroke-width="1.35"/>
<path d="M 1030.9 1035.1 L 1034.5 1033.2 L 1033.7 1035.1 L 1034.5 1037 Z" fill="#1f1b1a"/>
<text x="1044.7" y="1038.9" font-size="10.5">35</text>
<line x1="1032.9" y1="1043.3" x2="1042.6" y2="1043.3" stroke="#1f1b1a" stroke-width="1.35"/>
<path d="M 1030.9 1043.3 L 1034.5 1041.4 L 1033.7 1043.3 L 1034.5 1045.2 Z" fill="#1f1b1a"/>
<text x="1044.7" y="1047.1" font-size="10.5">25</text>
<rect x="868.8" y="1089" width="164.1" height="114" fill="#000" stroke="none" stroke-width="1"/>
<path d="M 871.6 1098 L 874.8 1091.7 L 1026 1095.7 Q 1029.6 1096.3 1029.7 1100 L 1030.3 1201 L 871.8 1201.3 Z" fill="url(#mg2)"/>
<rect x="897.1" y="1099.4" width="7.2" height="2.3" fill="#949494" filter="url(#bl)" transform="rotate(-5 900.7 1100.5)"/>
<rect x="897.1" y="1105.4" width="7.2" height="2.3" fill="#949494" filter="url(#bl)" transform="rotate(-5 900.7 1106.5)"/>
<rect x="897.1" y="1115.9" width="7.2" height="2.3" fill="#aaaaaa" filter="url(#bl)" transform="rotate(-5 900.7 1117)"/>
<rect x="897.1" y="1125.7" width="7.2" height="2.3" fill="#aaaaaa" filter="url(#bl)" transform="rotate(-5 900.7 1126.8)"/>
<rect x="897.1" y="1137.2" width="7.2" height="2.3" fill="#949494" filter="url(#bl)" transform="rotate(-5 900.7 1138.3)"/>
<rect x="897.1" y="1149.7" width="7.2" height="2.3" fill="#949494" filter="url(#bl)" transform="rotate(-5 900.7 1150.8)"/>
<rect x="897.1" y="1161.5" width="7.2" height="2.3" fill="#949494" filter="url(#bl)" transform="rotate(-5 900.7 1162.6)"/>
<rect x="897.1" y="1170.4" width="7.2" height="2.3" fill="#949494" filter="url(#bl)" transform="rotate(-5 900.7 1171.5)"/>
<rect x="895.95" y="1183.4" width="9.5" height="2.3" fill="#aaaaaa" filter="url(#bl)" transform="rotate(-5 900.7 1184.5)"/>
<rect x="895.95" y="1188.6" width="9.5" height="2.3" fill="#949494" filter="url(#bl)" transform="rotate(-5 900.7 1189.7)"/>
<rect x="1002.1" y="1100.3" width="7.2" height="2.3" fill="#949494" filter="url(#bl)" transform="rotate(-5 1005.7 1101.4)"/>
<rect x="1002.1" y="1106.3" width="7.2" height="2.3" fill="#949494" filter="url(#bl)" transform="rotate(-5 1005.7 1107.4)"/>
<rect x="1002.1" y="1116.8" width="7.2" height="2.3" fill="#aaaaaa" filter="url(#bl)" transform="rotate(-5 1005.7 1117.9)"/>
<rect x="1002.1" y="1126.6" width="7.2" height="2.3" fill="#aaaaaa" filter="url(#bl)" transform="rotate(-5 1005.7 1127.7)"/>
<rect x="1002.1" y="1138.1" width="7.2" height="2.3" fill="#949494" filter="url(#bl)" transform="rotate(-5 1005.7 1139.2)"/>
<rect x="1002.1" y="1150.6" width="7.2" height="2.3" fill="#949494" filter="url(#bl)" transform="rotate(-5 1005.7 1151.7)"/>
<rect x="1002.1" y="1162.4" width="7.2" height="2.3" fill="#949494" filter="url(#bl)" transform="rotate(-5 1005.7 1163.5)"/>
<rect x="1002.1" y="1171.3" width="7.2" height="2.3" fill="#949494" filter="url(#bl)" transform="rotate(-5 1005.7 1172.4)"/>
<rect x="1000.95" y="1184.3" width="9.5" height="2.3" fill="#aaaaaa" filter="url(#bl)" transform="rotate(-5 1005.7 1185.4)"/>
<rect x="1000.95" y="1189.5" width="9.5" height="2.3" fill="#949494" filter="url(#bl)" transform="rotate(-5 1005.7 1190.6)"/>
<rect x="906.6" y="1145.8" width="9.8" height="6.8" fill="#454545" filter="url(#bl3)"/>
<rect x="907.3" y="1145.6" width="8.4" height="1.2" fill="#2e2e2e" filter="url(#bl2)"/>
<rect x="907.3" y="1147.3" width="8.4" height="1.0" fill="#7c7c7c" filter="url(#bl2)"/>
<rect x="907" y="1148.7" width="9" height="3" fill="#000" filter="url(#bl2)"/>
<rect x="917.6" y="1145.8" width="9.8" height="6.8" fill="#454545" filter="url(#bl3)"/>
<rect x="918.3" y="1145.6" width="8.4" height="1.2" fill="#2e2e2e" filter="url(#bl2)"/>
<rect x="918.3" y="1147.3" width="8.4" height="1.0" fill="#7c7c7c" filter="url(#bl2)"/>
<rect x="918" y="1148.7" width="9" height="3" fill="#000" filter="url(#bl2)"/>
<rect x="929.5" y="1145.8" width="9.8" height="6.8" fill="#454545" filter="url(#bl3)"/>
<rect x="930.2" y="1145.6" width="8.4" height="1.2" fill="#2e2e2e" filter="url(#bl2)"/>
<rect x="930.2" y="1147.3" width="8.4" height="1.0" fill="#7c7c7c" filter="url(#bl2)"/>
<rect x="929.9" y="1148.7" width="9" height="3" fill="#000" filter="url(#bl2)"/>
<rect x="941.9" y="1145.8" width="9.8" height="6.8" fill="#454545" filter="url(#bl3)"/>
<rect x="942.6" y="1145.6" width="8.4" height="1.2" fill="#2e2e2e" filter="url(#bl2)"/>
<rect x="942.6" y="1147.3" width="8.4" height="1.0" fill="#7c7c7c" filter="url(#bl2)"/>
<rect x="942.3" y="1148.7" width="9" height="3" fill="#000" filter="url(#bl2)"/>
<rect x="953.8" y="1145.8" width="9.8" height="6.8" fill="#454545" filter="url(#bl3)"/>
<rect x="954.5" y="1145.6" width="8.4" height="1.2" fill="#2e2e2e" filter="url(#bl2)"/>
<rect x="954.5" y="1147.3" width="8.4" height="1.0" fill="#7c7c7c" filter="url(#bl2)"/>
<rect x="954.2" y="1148.7" width="9" height="3" fill="#000" filter="url(#bl2)"/>
<rect x="965.4" y="1145.8" width="9.8" height="6.8" fill="#454545" filter="url(#bl3)"/>
<rect x="966.1" y="1145.6" width="8.4" height="1.2" fill="#2e2e2e" filter="url(#bl2)"/>
<rect x="966.1" y="1147.3" width="8.4" height="1.0" fill="#7c7c7c" filter="url(#bl2)"/>
<rect x="965.8" y="1148.7" width="9" height="3" fill="#000" filter="url(#bl2)"/>
<rect x="977.6" y="1145.8" width="9.8" height="6.8" fill="#454545" filter="url(#bl3)"/>
<rect x="978.3" y="1145.6" width="8.4" height="1.2" fill="#2e2e2e" filter="url(#bl2)"/>
<rect x="978.3" y="1147.3" width="8.4" height="1.0" fill="#7c7c7c" filter="url(#bl2)"/>
<rect x="978" y="1148.7" width="9" height="3" fill="#000" filter="url(#bl2)"/>
<rect x="989.8" y="1145.8" width="9.8" height="6.8" fill="#454545" filter="url(#bl3)"/>
<rect x="990.5" y="1145.6" width="8.4" height="1.2" fill="#2e2e2e" filter="url(#bl2)"/>
<rect x="990.5" y="1147.3" width="8.4" height="1.0" fill="#7c7c7c" filter="url(#bl2)"/>
<rect x="990.2" y="1148.7" width="9" height="3" fill="#000" filter="url(#bl2)"/>
<text x="838.1" y="1152" font-size="12.7">ERK</text>
<line x1="1039.2" y1="1127.5" x2="1048.9" y2="1127.5" stroke="#1f1b1a" stroke-width="1.35"/>
<path d="M 1037.2 1127.5 L 1040.8 1125.6 L 1040 1127.5 L 1040.8 1129.4 Z" fill="#1f1b1a"/>
<text x="1051.3" y="1131.3" font-size="10.5">70</text>
<line x1="1039.2" y1="1139" x2="1048.9" y2="1139" stroke="#1f1b1a" stroke-width="1.35"/>
<path d="M 1037.2 1139 L 1040.8 1137.1 L 1040 1139 L 1040.8 1140.9 Z" fill="#1f1b1a"/>
<text x="1051.3" y="1142.8" font-size="10.5">55</text>
<line x1="1039.2" y1="1150.1" x2="1048.9" y2="1150.1" stroke="#1f1b1a" stroke-width="1.35"/>
<path d="M 1037.2 1150.1 L 1040.8 1148.2 L 1040 1150.1 L 1040.8 1152 Z" fill="#1f1b1a"/>
<text x="1051.3" y="1153.9" font-size="10.5">40</text>
<line x1="1039.2" y1="1160.6" x2="1048.9" y2="1160.6" stroke="#1f1b1a" stroke-width="1.35"/>
<path d="M 1037.2 1160.6 L 1040.8 1158.7 L 1040 1160.6 L 1040.8 1162.5 Z" fill="#1f1b1a"/>
<text x="1051.3" y="1164.4" font-size="10.5">35</text>
<line x1="1039.2" y1="1168.7" x2="1048.9" y2="1168.7" stroke="#1f1b1a" stroke-width="1.35"/>
<path d="M 1037.2 1168.7 L 1040.8 1166.8 L 1040 1168.7 L 1040.8 1170.6 Z" fill="#1f1b1a"/>
<text x="1051.3" y="1172.5" font-size="10.5">25</text>
<text x="917" y="1214" font-size="10.8" text-anchor="end" transform="rotate(-47 917 1214)">TAK1-WT</text>
<text x="929" y="1212" font-size="10.8" text-anchor="end" transform="rotate(-47 929 1212)">T262</text>
<text x="939.5" y="1213" font-size="10.8" text-anchor="end" transform="rotate(-47 939.5 1213)">TAK1-mut 8</text>
<text x="952" y="1213" font-size="10.8" text-anchor="end" transform="rotate(-47 952 1213)">TAK1-mut 10</text>
<text x="963.5" y="1214" font-size="10.8" text-anchor="end" transform="rotate(-47 963.5 1214)">TAK1-WT</text>
<text x="976" y="1212" font-size="10.8" text-anchor="end" transform="rotate(-47 976 1212)">T262</text>
<text x="986.5" y="1213" font-size="10.8" text-anchor="end" transform="rotate(-47 986.5 1213)">TAK1-mut 8</text>
<text x="999.2" y="1213" font-size="10.8" text-anchor="end" transform="rotate(-47 999.2 1213)">TAK1-mut 10</text>
</g>
</svg>
</body></html>
